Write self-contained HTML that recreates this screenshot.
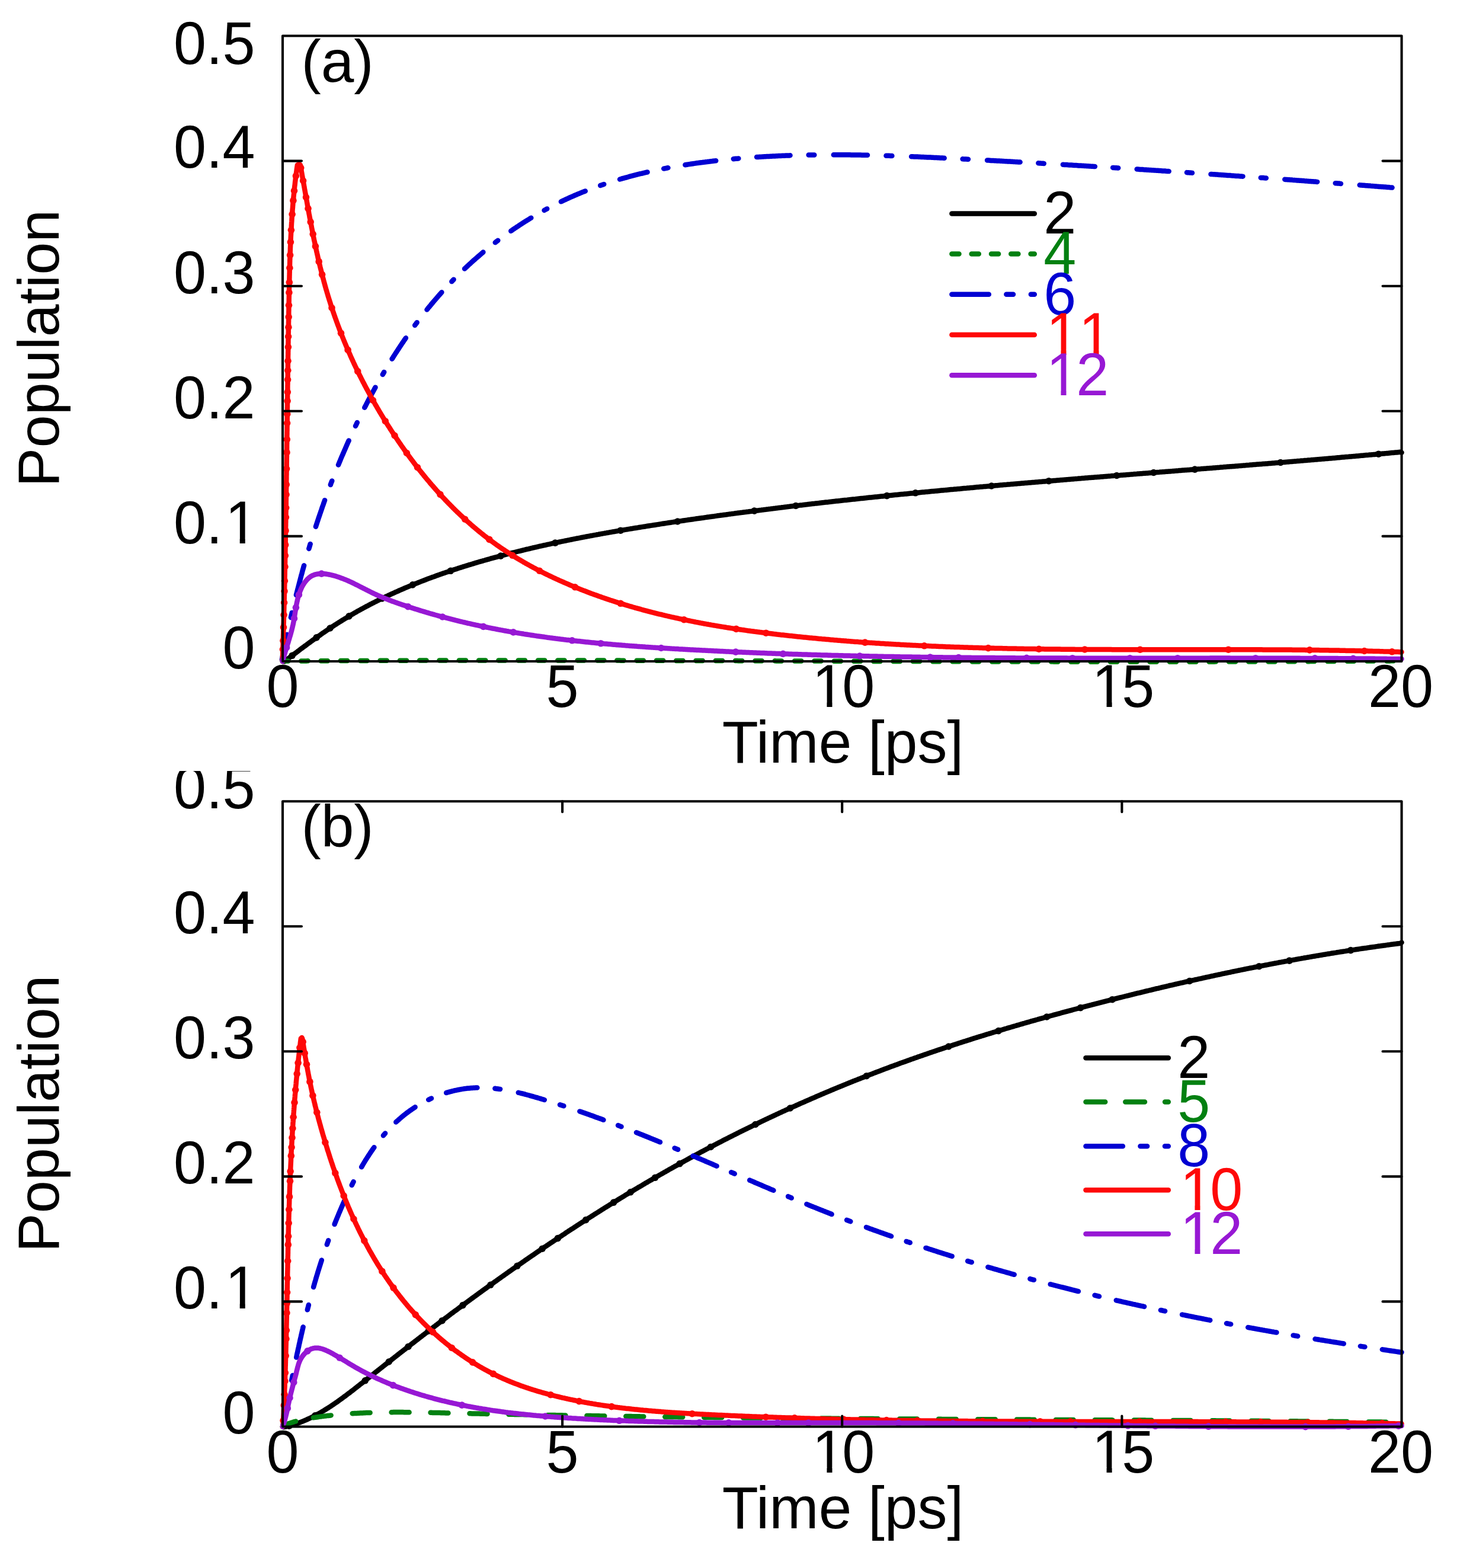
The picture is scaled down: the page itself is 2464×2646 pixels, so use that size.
<!DOCTYPE html>
<html><head><meta charset="utf-8"><title>Population vs Time</title>
<style>html,body{margin:0;padding:0;background:#fff;}svg{display:block;}</style>
</head><body>
<svg width="2464" height="2646" viewBox="0 0 2464 2646">
<defs><clipPath id="cb"><rect x="0" y="1301" width="2464" height="1345"/></clipPath><clipPath id="ca"><rect x="0" y="0" width="2464" height="1301"/></clipPath><clipPath id="c1_0" clipPathUnits="userSpaceOnUse"><path clip-rule="evenodd" d="M-500 -500H1000V500H-500Z M93.01 -8.00H111.81V1.50H93.01Z M120.87 -8.00H139.54V1.50H120.87Z"/></clipPath><clipPath id="c1_1" clipPathUnits="userSpaceOnUse"><path clip-rule="evenodd" d="M-500 -500H1000V500H-500Z M10.44 -8.00H29.25V1.50H10.44Z M38.30 -8.00H56.97V1.50H38.30Z"/></clipPath><clipPath id="c1_2" clipPathUnits="userSpaceOnUse"><path clip-rule="evenodd" d="M-500 -500H1000V500H-500Z M10.44 -8.00H29.25V1.50H10.44Z M38.30 -8.00H56.97V1.50H38.30Z"/></clipPath><clipPath id="c1_3" clipPathUnits="userSpaceOnUse"><path clip-rule="evenodd" d="M-500 -500H1000V500H-500Z M10.44 -8.00H29.25V1.50H10.44Z M38.30 -8.00H56.97V1.50H38.30Z M65.48 -8.00H84.29V1.50H65.48Z M93.34 -8.00H112.01V1.50H93.34Z"/></clipPath><clipPath id="c1_4" clipPathUnits="userSpaceOnUse"><path clip-rule="evenodd" d="M-500 -500H1000V500H-500Z M10.44 -8.00H29.25V1.50H10.44Z M38.30 -8.00H56.97V1.50H38.30Z"/></clipPath><clipPath id="c1_5" clipPathUnits="userSpaceOnUse"><path clip-rule="evenodd" d="M-500 -500H1000V500H-500Z M93.01 -8.00H111.81V1.50H93.01Z M120.87 -8.00H139.54V1.50H120.87Z"/></clipPath><clipPath id="c1_6" clipPathUnits="userSpaceOnUse"><path clip-rule="evenodd" d="M-500 -500H1000V500H-500Z M10.44 -8.00H29.25V1.50H10.44Z M38.30 -8.00H56.97V1.50H38.30Z"/></clipPath><clipPath id="c1_7" clipPathUnits="userSpaceOnUse"><path clip-rule="evenodd" d="M-500 -500H1000V500H-500Z M10.44 -8.00H29.25V1.50H10.44Z M38.30 -8.00H56.97V1.50H38.30Z"/></clipPath><clipPath id="c1_8" clipPathUnits="userSpaceOnUse"><path clip-rule="evenodd" d="M-500 -500H1000V500H-500Z M10.44 -8.00H29.25V1.50H10.44Z M38.30 -8.00H56.97V1.50H38.30Z"/></clipPath><clipPath id="c1_9" clipPathUnits="userSpaceOnUse"><path clip-rule="evenodd" d="M-500 -500H1000V500H-500Z M10.44 -8.00H29.25V1.50H10.44Z M38.30 -8.00H56.97V1.50H38.30Z"/></clipPath></defs>
<rect width="2464" height="2646" fill="#fff"/>
<g fill="none" stroke-width="8.5" stroke-linecap="round" stroke-linejoin="round">
<path d="M477.0 1116.0 L479.6 1116.6 L481.2 1115.3 L482.8 1114.1 L484.4 1112.9 L486.0 1111.7 L487.6 1110.5 L489.2 1109.2 L490.8 1108.0 L492.4 1106.8 L494.0 1105.6 L495.6 1104.4 L497.2 1103.2 L498.8 1102.0 L500.4 1100.8 L502.0 1099.6 L503.6 1098.3 L505.2 1097.1 L506.8 1095.9 L508.4 1094.7 L510.0 1093.5 L511.6 1092.3 L513.2 1091.2 L514.8 1090.0 L516.4 1088.8 L518.0 1087.6 L519.6 1086.4 L521.3 1085.2 L522.9 1084.0 L524.5 1082.8 L526.1 1081.7 L527.7 1080.5 L529.4 1079.3 L531.0 1078.2 L532.6 1077.0 L534.2 1075.8 L535.9 1074.7 L537.5 1073.5 L539.1 1072.4 L540.8 1071.2 L542.4 1070.1 L544.0 1068.9 L545.7 1067.8 L547.3 1066.7 L549.0 1065.5 L550.6 1064.4 L552.3 1063.3 L553.9 1062.2 L555.6 1061.0 L557.3 1059.9 L558.9 1058.8 L560.6 1057.7 L562.2 1056.6 L563.9 1055.5 L565.6 1054.4 L567.3 1053.4 L568.9 1052.3 L570.6 1051.2 L572.3 1050.1 L574.0 1049.1 L575.7 1048.0 L577.4 1047.0 L579.1 1045.9 L580.8 1044.9 L582.5 1043.8 L584.2 1042.8 L585.9 1041.8 L587.6 1040.7 L589.3 1039.7 L591.0 1038.7 L592.7 1037.7 L594.4 1036.7 L596.2 1035.7 L597.9 1034.7 L599.6 1033.7 L601.4 1032.7 L603.1 1031.7 L604.8 1030.7 L606.6 1029.8 L608.3 1028.8 L610.1 1027.8 L611.8 1026.9 L613.6 1025.9 L615.3 1025.0 L617.1 1024.0 L618.8 1023.1 L620.6 1022.2 L622.4 1021.2 L624.1 1020.3 L625.9 1019.4 L627.7 1018.5 L629.4 1017.6 L631.2 1016.7 L633.0 1015.8 L634.8 1014.9 L636.6 1014.0 L638.3 1013.1 L640.1 1012.2 L641.9 1011.3 L643.7 1010.4 L645.5 1009.6 L647.3 1008.7 L649.1 1007.8 L650.9 1007.0 L652.7 1006.1 L654.5 1005.3 L656.3 1004.4 L658.1 1003.6 L660.0 1002.7 L661.8 1001.9 L663.6 1001.1 L665.4 1000.3 L667.2 999.4 L669.1 998.6 L670.9 997.8 L672.7 997.0 L674.5 996.2 L676.4 995.4 L678.2 994.6 L680.0 993.8 L681.9 993.0 L683.7 992.2 L685.6 991.4 L687.4 990.7 L689.3 989.9 L691.1 989.1 L692.9 988.4 L694.8 987.6 L696.7 986.8 L698.5 986.1 L700.4 985.3 L702.2 984.6 L704.1 983.9 L705.9 983.1 L707.8 982.4 L709.7 981.6 L711.5 980.9 L713.4 980.2 L715.3 979.5 L717.1 978.8 L719.0 978.0 L720.9 977.3 L722.8 976.6 L724.6 975.9 L726.5 975.2 L728.4 974.5 L730.3 973.8 L732.2 973.2 L734.1 972.5 L735.9 971.8 L737.8 971.1 L739.7 970.4 L741.6 969.8 L743.5 969.1 L745.4 968.4 L747.3 967.8 L749.2 967.1 L751.1 966.5 L753.0 965.8 L754.9 965.2 L756.8 964.5 L758.7 963.9 L760.6 963.2 L762.5 962.6 L764.4 962.0 L766.3 961.3 L768.2 960.7 L770.1 960.1 L772.0 959.5 L773.9 958.8 L775.8 958.2 L777.8 957.6 L779.7 957.0 L781.6 956.4 L783.5 955.8 L785.4 955.2 L787.3 954.6 L789.3 954.0 L791.2 953.4 L793.1 952.8 L795.0 952.3 L796.9 951.7 L798.9 951.1 L800.8 950.5 L802.7 949.9 L804.6 949.4 L806.6 948.8 L808.5 948.2 L810.4 947.7 L812.3 947.1 L814.3 946.6 L816.2 946.0 L818.1 945.5 L820.1 944.9 L822.0 944.4 L823.9 943.8 L825.9 943.3 L827.8 942.7 L829.7 942.2 L831.7 941.7 L833.6 941.1 L835.5 940.6 L837.5 940.1 L839.4 939.6 L841.3 939.0 L843.3 938.5 L845.2 938.0 L847.2 937.5 L849.1 937.0 L851.0 936.5 L853.0 935.9 L854.9 935.4 L856.8 934.9 L858.8 934.4 L860.7 933.9 L862.7 933.4 L864.6 932.9 L866.6 932.5 L868.5 932.0 L870.4 931.5 L872.4 931.0 L874.3 930.5 L876.3 930.0 L878.2 929.6 L880.2 929.1 L882.1 928.6 L884.1 928.1 L886.0 927.7 L888.0 927.2 L889.9 926.7 L891.9 926.3 L893.8 925.8 L895.7 925.3 L897.7 924.9 L899.6 924.4 L901.6 924.0 L903.5 923.5 L905.5 923.1 L907.5 922.6 L909.4 922.2 L911.4 921.7 L913.3 921.3 L915.3 920.9 L917.2 920.4 L919.2 920.0 L921.1 919.6 L923.1 919.1 L925.0 918.7 L927.0 918.3 L928.9 917.8 L930.9 917.4 L932.9 917.0 L934.8 916.6 L936.8 916.2 L938.7 915.7 L940.7 915.3 L942.6 914.9 L944.6 914.5 L946.6 914.1 L948.5 913.7 L950.5 913.3 L952.4 912.9 L954.4 912.5 L956.4 912.1 L958.3 911.7 L960.3 911.3 L962.3 910.9 L964.2 910.5 L966.2 910.1 L968.1 909.7 L970.1 909.3 L972.1 908.9 L974.0 908.5 L976.0 908.2 L978.0 907.8 L979.9 907.4 L981.9 907.0 L983.9 906.6 L985.8 906.3 L987.8 905.9 L989.8 905.5 L991.7 905.1 L993.7 904.8 L995.7 904.4 L997.6 904.0 L999.6 903.7 L1001.6 903.3 L1003.5 902.9 L1005.5 902.6 L1007.5 902.2 L1009.4 901.9 L1011.4 901.5 L1013.4 901.1 L1015.3 900.8 L1017.3 900.4 L1019.3 900.1 L1021.2 899.7 L1023.2 899.4 L1025.2 899.0 L1027.2 898.7 L1029.1 898.3 L1031.1 898.0 L1033.1 897.6 L1035.0 897.3 L1037.0 897.0 L1039.0 896.6 L1041.0 896.3 L1042.9 895.9 L1044.9 895.6 L1046.9 895.3 L1048.9 894.9 L1050.8 894.6 L1052.8 894.3 L1054.8 893.9 L1056.7 893.6 L1058.7 893.3 L1060.7 892.9 L1062.7 892.6 L1064.6 892.3 L1066.6 892.0 L1068.6 891.6 L1070.6 891.3 L1072.5 891.0 L1074.5 890.7 L1076.5 890.4 L1078.5 890.0 L1080.4 889.7 L1082.4 889.4 L1084.4 889.1 L1086.4 888.8 L1088.4 888.5 L1090.3 888.1 L1092.3 887.8 L1094.3 887.5 L1096.3 887.2 L1098.2 886.9 L1100.2 886.6 L1102.2 886.3 L1104.2 886.0 L1106.2 885.7 L1108.1 885.4 L1110.1 885.1 L1112.1 884.8 L1114.1 884.4 L1116.0 884.1 L1118.0 883.8 L1120.0 883.5 L1122.0 883.2 L1124.0 882.9 L1125.9 882.6 L1127.9 882.3 L1129.9 882.0 L1131.9 881.7 L1133.9 881.4 L1135.8 881.1 L1137.8 880.8 L1139.8 880.6 L1141.8 880.3 L1143.7 880.0 L1145.7 879.7 L1147.7 879.4 L1149.7 879.1 L1151.7 878.8 L1153.6 878.5 L1155.6 878.2 L1157.6 877.9 L1159.6 877.6 L1161.6 877.3 L1163.6 877.1 L1165.5 876.8 L1167.5 876.5 L1169.5 876.2 L1171.5 875.9 L1173.5 875.6 L1175.4 875.3 L1177.4 875.1 L1179.4 874.8 L1181.4 874.5 L1183.4 874.2 L1185.3 873.9 L1187.3 873.7 L1189.3 873.4 L1191.3 873.1 L1193.3 872.8 L1195.3 872.5 L1197.2 872.3 L1199.2 872.0 L1201.2 871.7 L1203.2 871.4 L1205.2 871.2 L1207.1 870.9 L1209.1 870.6 L1211.1 870.3 L1213.1 870.1 L1215.1 869.8 L1217.1 869.5 L1219.0 869.3 L1221.0 869.0 L1223.0 868.7 L1225.0 868.5 L1227.0 868.2 L1229.0 867.9 L1230.9 867.6 L1232.9 867.4 L1234.9 867.1 L1236.9 866.9 L1238.9 866.6 L1240.9 866.3 L1242.8 866.1 L1244.8 865.8 L1246.8 865.5 L1248.8 865.3 L1250.8 865.0 L1252.8 864.8 L1254.8 864.5 L1256.7 864.2 L1258.7 864.0 L1260.7 863.7 L1262.7 863.5 L1264.7 863.2 L1266.7 862.9 L1268.6 862.7 L1270.6 862.4 L1272.6 862.2 L1274.6 861.9 L1276.6 861.7 L1278.6 861.4 L1280.6 861.2 L1282.5 860.9 L1284.5 860.7 L1286.5 860.4 L1288.5 860.2 L1290.5 859.9 L1292.5 859.7 L1294.5 859.4 L1296.4 859.2 L1298.4 858.9 L1300.4 858.7 L1302.4 858.4 L1304.4 858.2 L1306.4 857.9 L1308.4 857.7 L1310.4 857.4 L1312.3 857.2 L1314.3 856.9 L1316.3 856.7 L1318.3 856.5 L1320.3 856.2 L1322.3 856.0 L1324.3 855.7 L1326.2 855.5 L1328.2 855.3 L1330.2 855.0 L1332.2 854.8 L1334.2 854.5 L1336.2 854.3 L1338.2 854.1 L1340.2 853.8 L1342.1 853.6 L1344.1 853.4 L1346.1 853.1 L1348.1 852.9 L1350.1 852.6 L1352.1 852.4 L1354.1 852.2 L1356.1 851.9 L1358.0 851.7 L1360.0 851.5 L1362.0 851.3 L1364.0 851.0 L1366.0 850.8 L1368.0 850.6 L1370.0 850.3 L1372.0 850.1 L1374.0 849.9 L1375.9 849.6 L1377.9 849.4 L1379.9 849.2 L1381.9 849.0 L1383.9 848.7 L1385.9 848.5 L1387.9 848.3 L1389.9 848.1 L1391.9 847.8 L1393.8 847.6 L1395.8 847.4 L1397.8 847.2 L1399.8 846.9 L1401.8 846.7 L1403.8 846.5 L1405.8 846.3 L1407.8 846.1 L1409.8 845.8 L1411.8 845.6 L1413.7 845.4 L1415.7 845.2 L1417.7 845.0 L1419.7 844.7 L1421.7 844.5 L1423.7 844.3 L1425.7 844.1 L1427.7 843.9 L1429.7 843.7 L1431.7 843.4 L1433.6 843.2 L1435.6 843.0 L1437.6 842.8 L1439.6 842.6 L1441.6 842.4 L1443.6 842.2 L1445.6 841.9 L1447.6 841.7 L1449.6 841.5 L1451.6 841.3 L1453.6 841.1 L1455.5 840.9 L1457.5 840.7 L1459.5 840.5 L1461.5 840.3 L1463.5 840.0 L1465.5 839.8 L1467.5 839.6 L1469.5 839.4 L1471.5 839.2 L1473.5 839.0 L1475.5 838.8 L1477.5 838.6 L1479.4 838.4 L1481.4 838.2 L1483.4 838.0 L1485.4 837.8 L1487.4 837.6 L1489.4 837.4 L1491.4 837.2 L1493.4 837.0 L1495.4 836.8 L1497.4 836.5 L1499.4 836.3 L1501.4 836.1 L1503.4 835.9 L1505.3 835.7 L1507.3 835.5 L1509.3 835.3 L1511.3 835.1 L1513.3 834.9 L1515.3 834.7 L1517.3 834.5 L1519.3 834.3 L1521.3 834.1 L1523.3 834.0 L1525.3 833.8 L1527.3 833.6 L1529.3 833.4 L1531.3 833.2 L1533.2 833.0 L1535.2 832.8 L1537.2 832.6 L1539.2 832.4 L1541.2 832.2 L1543.2 832.0 L1545.2 831.8 L1547.2 831.6 L1549.2 831.4 L1551.2 831.2 L1553.2 831.0 L1555.2 830.8 L1557.2 830.6 L1559.2 830.5 L1561.2 830.3 L1563.1 830.1 L1565.1 829.9 L1567.1 829.7 L1569.1 829.5 L1571.1 829.3 L1573.1 829.1 L1575.1 828.9 L1577.1 828.7 L1579.1 828.6 L1581.1 828.4 L1583.1 828.2 L1585.1 828.0 L1587.1 827.8 L1589.1 827.6 L1591.1 827.4 L1593.1 827.2 L1595.1 827.1 L1597.0 826.9 L1599.0 826.7 L1601.0 826.5 L1603.0 826.3 L1605.0 826.1 L1607.0 825.9 L1609.0 825.8 L1611.0 825.6 L1613.0 825.4 L1615.0 825.2 L1617.0 825.0 L1619.0 824.9 L1621.0 824.7 L1623.0 824.5 L1625.0 824.3 L1627.0 824.1 L1629.0 823.9 L1631.0 823.8 L1633.0 823.6 L1634.9 823.4 L1636.9 823.2 L1638.9 823.0 L1640.9 822.9 L1642.9 822.7 L1644.9 822.5 L1646.9 822.3 L1648.9 822.1 L1650.9 822.0 L1652.9 821.8 L1654.9 821.6 L1656.9 821.4 L1658.9 821.3 L1660.9 821.1 L1662.9 820.9 L1664.9 820.7 L1666.9 820.6 L1668.9 820.4 L1670.9 820.2 L1672.9 820.0 L1674.9 819.9 L1676.8 819.7 L1678.8 819.5 L1680.8 819.3 L1682.8 819.2 L1684.8 819.0 L1686.8 818.8 L1688.8 818.6 L1690.8 818.5 L1692.8 818.3 L1694.8 818.1 L1696.8 817.9 L1698.8 817.8 L1700.8 817.6 L1702.8 817.4 L1704.8 817.3 L1706.8 817.1 L1708.8 816.9 L1710.8 816.7 L1712.8 816.6 L1714.8 816.4 L1716.8 816.2 L1718.8 816.1 L1720.8 815.9 L1722.8 815.7 L1724.8 815.5 L1726.8 815.4 L1728.7 815.2 L1730.7 815.0 L1732.7 814.9 L1734.7 814.7 L1736.7 814.5 L1738.7 814.4 L1740.7 814.2 L1742.7 814.0 L1744.7 813.9 L1746.7 813.7 L1748.7 813.5 L1750.7 813.4 L1752.7 813.2 L1754.7 813.0 L1756.7 812.9 L1758.7 812.7 L1760.7 812.5 L1762.7 812.4 L1764.7 812.2 L1766.7 812.0 L1768.7 811.9 L1770.7 811.7 L1772.7 811.5 L1774.7 811.4 L1776.7 811.2 L1778.7 811.0 L1780.7 810.9 L1782.7 810.7 L1784.7 810.5 L1786.6 810.4 L1788.6 810.2 L1790.6 810.0 L1792.6 809.9 L1794.6 809.7 L1796.6 809.6 L1798.6 809.4 L1800.6 809.2 L1802.6 809.1 L1804.6 808.9 L1806.6 808.7 L1808.6 808.6 L1810.6 808.4 L1812.6 808.2 L1814.6 808.1 L1816.6 807.9 L1818.6 807.8 L1820.6 807.6 L1822.6 807.4 L1824.6 807.3 L1826.6 807.1 L1828.6 807.0 L1830.6 806.8 L1832.6 806.6 L1834.6 806.5 L1836.6 806.3 L1838.6 806.1 L1840.6 806.0 L1842.6 805.8 L1844.6 805.7 L1846.6 805.5 L1848.6 805.3 L1850.6 805.2 L1852.5 805.0 L1854.5 804.9 L1856.5 804.7 L1858.5 804.5 L1860.5 804.4 L1862.5 804.2 L1864.5 804.1 L1866.5 803.9 L1868.5 803.7 L1870.5 803.6 L1872.5 803.4 L1874.5 803.3 L1876.5 803.1 L1878.5 802.9 L1880.5 802.8 L1882.5 802.6 L1884.5 802.5 L1886.5 802.3 L1888.5 802.2 L1890.5 802.0 L1892.5 801.8 L1894.5 801.7 L1896.5 801.5 L1898.5 801.4 L1900.5 801.2 L1902.5 801.0 L1904.5 800.9 L1906.5 800.7 L1908.5 800.6 L1910.5 800.4 L1912.5 800.3 L1914.5 800.1 L1916.5 799.9 L1918.5 799.8 L1920.5 799.6 L1922.4 799.5 L1924.4 799.3 L1926.4 799.2 L1928.4 799.0 L1930.4 798.8 L1932.4 798.7 L1934.4 798.5 L1936.4 798.4 L1938.4 798.2 L1940.4 798.0 L1942.4 797.9 L1944.4 797.7 L1946.4 797.6 L1948.4 797.4 L1950.4 797.3 L1952.4 797.1 L1954.4 796.9 L1956.4 796.8 L1958.4 796.6 L1960.4 796.5 L1962.4 796.3 L1964.4 796.2 L1966.4 796.0 L1968.4 795.8 L1970.4 795.7 L1972.4 795.5 L1974.4 795.4 L1976.4 795.2 L1978.4 795.1 L1980.4 794.9 L1982.4 794.7 L1984.4 794.6 L1986.4 794.4 L1988.4 794.3 L1990.3 794.1 L1992.3 794.0 L1994.3 793.8 L1996.3 793.6 L1998.3 793.5 L2000.3 793.3 L2002.3 793.2 L2004.3 793.0 L2006.3 792.9 L2008.3 792.7 L2010.3 792.5 L2012.3 792.4 L2014.3 792.2 L2016.3 792.1 L2018.3 791.9 L2020.3 791.8 L2022.3 791.6 L2024.3 791.4 L2026.3 791.3 L2028.3 791.1 L2030.3 791.0 L2032.3 790.8 L2034.3 790.7 L2036.3 790.5 L2038.3 790.3 L2040.3 790.2 L2042.3 790.0 L2044.3 789.9 L2046.3 789.7 L2048.3 789.5 L2050.3 789.4 L2052.2 789.2 L2054.2 789.1 L2056.2 788.9 L2058.2 788.8 L2060.2 788.6 L2062.2 788.4 L2064.2 788.3 L2066.2 788.1 L2068.2 788.0 L2070.2 787.8 L2072.2 787.6 L2074.2 787.5 L2076.2 787.3 L2078.2 787.2 L2080.2 787.0 L2082.2 786.9 L2084.2 786.7 L2086.2 786.5 L2088.2 786.4 L2090.2 786.2 L2092.2 786.1 L2094.2 785.9 L2096.2 785.7 L2098.2 785.6 L2100.2 785.4 L2102.2 785.3 L2104.1 785.1 L2106.1 784.9 L2108.1 784.8 L2110.1 784.6 L2112.1 784.5 L2114.1 784.3 L2116.1 784.1 L2118.1 784.0 L2120.1 783.8 L2122.1 783.6 L2124.1 783.5 L2126.1 783.3 L2128.1 783.2 L2130.1 783.0 L2132.1 782.8 L2134.1 782.7 L2136.1 782.5 L2138.1 782.4 L2140.1 782.2 L2142.1 782.0 L2144.1 781.9 L2146.1 781.7 L2148.1 781.5 L2150.0 781.4 L2152.0 781.2 L2154.0 781.0 L2156.0 780.9 L2158.0 780.7 L2160.0 780.6 L2162.0 780.4 L2164.0 780.2 L2166.0 780.1 L2168.0 779.9 L2170.0 779.7 L2172.0 779.6 L2174.0 779.4 L2176.0 779.2 L2178.0 779.1 L2180.0 778.9 L2182.0 778.7 L2184.0 778.6 L2186.0 778.4 L2188.0 778.3 L2189.9 778.1 L2191.9 777.9 L2193.9 777.8 L2195.9 777.6 L2197.9 777.4 L2199.9 777.3 L2201.9 777.1 L2203.9 776.9 L2205.9 776.8 L2207.9 776.6 L2209.9 776.4 L2211.9 776.3 L2213.9 776.1 L2215.9 775.9 L2217.9 775.7 L2219.9 775.6 L2221.9 775.4 L2223.9 775.2 L2225.8 775.1 L2227.8 774.9 L2229.8 774.7 L2231.8 774.6 L2233.8 774.4 L2235.8 774.2 L2237.8 774.1 L2239.8 773.9 L2241.8 773.7 L2243.8 773.5 L2245.8 773.4 L2247.8 773.2 L2249.8 773.0 L2251.8 772.9 L2253.8 772.7 L2255.7 772.5 L2257.7 772.3 L2259.7 772.2 L2261.7 772.0 L2263.7 771.8 L2265.7 771.6 L2267.7 771.5 L2269.7 771.3 L2271.7 771.1 L2273.7 770.9 L2275.7 770.8 L2277.7 770.6 L2279.7 770.4 L2281.7 770.2 L2283.7 770.1 L2285.6 769.9 L2287.6 769.7 L2289.6 769.5 L2291.6 769.4 L2293.6 769.2 L2295.6 769.0 L2297.6 768.8 L2299.6 768.7 L2301.6 768.5 L2303.6 768.3 L2305.6 768.1 L2307.6 767.9 L2309.6 767.8 L2311.5 767.6 L2313.5 767.4 L2315.5 767.2 L2317.5 767.1 L2319.5 766.9 L2321.5 766.7 L2323.5 766.5 L2325.5 766.3 L2327.5 766.1 L2329.5 766.0 L2331.5 765.8 L2333.5 765.6 L2335.4 765.4 L2337.4 765.2 L2339.4 765.1 L2341.4 764.9 L2343.4 764.7 L2345.4 764.5 L2347.4 764.3 L2349.4 764.1 L2351.4 764.0 L2353.4 763.8 L2355.4 763.6 L2357.3 763.4 L2359.3 763.2 L2361.3 763.0 L2363.3 762.8 L2365.5 763.7" stroke="#000000" />
<g fill="#000000" stroke="none"><circle cx="493.1" cy="1106.3" r="5.8"/><circle cx="534.1" cy="1075.9" r="5.8"/><circle cx="557.1" cy="1060.0" r="5.8"/><circle cx="589.0" cy="1039.9" r="5.8"/><circle cx="644.8" cy="1009.9" r="5.8"/><circle cx="696.4" cy="986.9" r="5.8"/><circle cx="760.5" cy="963.3" r="5.8"/><circle cx="845.0" cy="938.1" r="5.8"/><circle cx="937.0" cy="916.1" r="5.8"/><circle cx="1047.3" cy="895.2" r="5.8"/><circle cx="1143.5" cy="880.0" r="5.8"/><circle cx="1273.0" cy="862.1" r="5.8"/><circle cx="1343.0" cy="853.5" r="5.8"/><circle cx="1496.8" cy="836.6" r="5.8"/><circle cx="1545.0" cy="831.8" r="5.8"/><circle cx="1673.3" cy="820.0" r="5.8"/><circle cx="1770.1" cy="811.7" r="5.8"/><circle cx="1884.6" cy="802.5" r="5.8"/><circle cx="1946.9" cy="797.5" r="5.8"/><circle cx="2016.5" cy="792.1" r="5.8"/><circle cx="2161.1" cy="780.5" r="5.8"/><circle cx="2326.5" cy="766.2" r="5.8"/></g>
<path d="M477.0 1116.0 L479.0 1115.6 L481.0 1115.6 L483.0 1115.6 L485.0 1115.5 L486.4 1115.5 M508.2 1115.4 L509.0 1115.4 L511.0 1115.4 L513.0 1115.4 L515.0 1115.4 L517.0 1115.4 L519.0 1115.3 L519.7 1115.3 M541.5 1115.2 L543.1 1115.2 L545.1 1115.2 L547.1 1115.2 L549.1 1115.2 L551.1 1115.2 L553.0 1115.2 M574.8 1115.1 L575.1 1115.1 L577.1 1115.1 L579.1 1115.0 L581.1 1115.0 L583.1 1115.0 L585.1 1115.0 L586.3 1115.0 M608.1 1114.9 L609.2 1114.9 L611.2 1114.9 L613.2 1114.9 L615.2 1114.9 L617.2 1114.9 L619.2 1114.9 L619.6 1114.9 M641.5 1114.8 L643.2 1114.8 L645.2 1114.8 L647.2 1114.8 L649.2 1114.8 L651.2 1114.8 L652.9 1114.8 M674.8 1114.7 L675.2 1114.7 L677.2 1114.7 L679.3 1114.7 L681.3 1114.7 L683.3 1114.7 L685.3 1114.7 L686.3 1114.7 M708.1 1114.6 L709.3 1114.6 L711.3 1114.6 L713.3 1114.6 L715.3 1114.6 L717.3 1114.6 L719.3 1114.6 L719.6 1114.6 M741.4 1114.6 L743.3 1114.6 L745.3 1114.6 L747.3 1114.6 L749.3 1114.5 L751.3 1114.5 L752.9 1114.5 M774.7 1114.5 L775.4 1114.5 L777.4 1114.5 L779.4 1114.5 L781.4 1114.5 L783.4 1114.5 L785.4 1114.5 L786.2 1114.5 M808.0 1114.5 L809.4 1114.5 L811.4 1114.5 L813.4 1114.5 L815.4 1114.5 L817.4 1114.5 L819.4 1114.5 L819.5 1114.5 M841.3 1114.5 L841.5 1114.5 L843.5 1114.5 L845.5 1114.5 L847.5 1114.5 L849.5 1114.5 L851.5 1114.5 L852.8 1114.5 M874.6 1114.5 L875.5 1114.5 L877.5 1114.5 L879.5 1114.5 L881.5 1114.5 L883.5 1114.5 L885.5 1114.5 L886.1 1114.5 M907.9 1114.5 L909.6 1114.5 L911.6 1114.5 L913.6 1114.5 L915.6 1114.5 L917.6 1114.5 L919.4 1114.5 M941.2 1114.5 L941.6 1114.5 L943.6 1114.5 L945.6 1114.5 L947.6 1114.5 L949.6 1114.5 L951.6 1114.5 L952.7 1114.5 M974.6 1114.5 L975.6 1114.5 L977.6 1114.5 L979.6 1114.5 L981.7 1114.5 L983.7 1114.5 L985.7 1114.6 L986.0 1114.6 M1007.9 1114.6 L1009.7 1114.6 L1011.7 1114.6 L1013.7 1114.6 L1015.7 1114.6 L1017.7 1114.6 L1019.4 1114.6 M1041.2 1114.6 L1041.7 1114.6 L1043.7 1114.6 L1045.7 1114.6 L1047.7 1114.7 L1049.7 1114.7 L1051.7 1114.7 L1052.7 1114.7 M1074.5 1114.7 L1075.8 1114.7 L1077.8 1114.7 L1079.8 1114.7 L1081.8 1114.7 L1083.8 1114.7 L1085.8 1114.7 L1086.0 1114.7 M1107.8 1114.8 L1107.8 1114.8 L1109.8 1114.8 L1111.8 1114.8 L1113.8 1114.8 L1115.8 1114.8 L1117.8 1114.8 L1119.3 1114.8 M1141.1 1114.9 L1141.9 1114.9 L1143.9 1114.9 L1145.9 1114.9 L1147.9 1114.9 L1149.9 1114.9 L1151.9 1114.9 L1152.6 1114.9 M1174.4 1114.9 L1175.9 1115.0 L1177.9 1115.0 L1179.9 1115.0 L1181.9 1115.0 L1183.9 1115.0 L1185.9 1115.0 M1207.7 1115.0 L1208.0 1115.0 L1210.0 1115.0 L1212.0 1115.1 L1214.0 1115.1 L1216.0 1115.1 L1218.0 1115.1 L1219.2 1115.1 M1241.0 1115.1 L1242.0 1115.1 L1244.0 1115.1 L1246.0 1115.2 L1248.0 1115.2 L1250.0 1115.2 L1252.0 1115.2 L1252.5 1115.2 M1274.3 1115.2 L1276.1 1115.2 L1278.1 1115.3 L1280.1 1115.3 L1282.1 1115.3 L1284.1 1115.3 L1285.8 1115.3 M1307.7 1115.3 L1308.1 1115.3 L1310.1 1115.4 L1312.1 1115.4 L1314.1 1115.4 L1316.1 1115.4 L1318.1 1115.4 L1319.1 1115.4 M1341.0 1115.5 L1342.1 1115.5 L1344.1 1115.5 L1346.1 1115.5 L1348.1 1115.5 L1350.2 1115.5 L1352.2 1115.5 L1352.5 1115.5 M1374.3 1115.6 L1376.2 1115.6 L1378.2 1115.6 L1380.2 1115.6 L1382.2 1115.6 L1384.2 1115.6 L1385.8 1115.6 M1407.6 1115.7 L1408.2 1115.7 L1410.2 1115.7 L1412.2 1115.7 L1414.2 1115.7 L1416.2 1115.7 L1418.2 1115.7 L1419.1 1115.7 M1440.9 1115.8 L1442.3 1115.8 L1444.3 1115.8 L1446.3 1115.8 L1448.3 1115.8 L1450.3 1115.8 L1452.3 1115.8 L1452.4 1115.8 M1474.2 1115.9 L1474.3 1115.9 L1476.3 1115.9 L1478.3 1115.9 L1480.3 1115.9 L1482.3 1115.9 L1484.3 1115.9 L1485.7 1115.9 M1507.5 1116.0 L1508.4 1116.0 L1510.4 1116.0 L1512.4 1116.0 L1514.4 1116.0 L1516.4 1116.0 L1518.4 1116.0 L1519.0 1116.0 M1540.8 1116.1 L1542.4 1116.1 L1544.4 1116.1 L1546.4 1116.1 L1548.4 1116.1 L1550.4 1116.1 L1552.3 1116.1 M1574.1 1116.2 L1574.5 1116.2 L1576.5 1116.2 L1578.5 1116.2 L1580.5 1116.2 L1582.5 1116.2 L1584.5 1116.2 L1585.6 1116.2 M1607.4 1116.3 L1608.5 1116.3 L1610.5 1116.3 L1612.5 1116.3 L1614.5 1116.3 L1616.5 1116.3 L1618.5 1116.3 L1618.9 1116.3 M1640.8 1116.4 L1642.6 1116.4 L1644.6 1116.4 L1646.6 1116.4 L1648.6 1116.4 L1650.6 1116.4 L1652.2 1116.4 M1674.1 1116.4 L1674.6 1116.4 L1676.6 1116.5 L1678.6 1116.5 L1680.6 1116.5 L1682.6 1116.5 L1684.6 1116.5 L1685.6 1116.5 M1707.4 1116.5 L1708.6 1116.5 L1710.6 1116.5 L1712.6 1116.5 L1714.7 1116.5 L1716.7 1116.5 L1718.7 1116.5 L1718.9 1116.5 M1740.7 1116.6 L1740.7 1116.6 L1742.7 1116.6 L1744.7 1116.6 L1746.7 1116.6 L1748.7 1116.6 L1750.7 1116.6 L1752.2 1116.6 M1774.0 1116.6 L1774.7 1116.6 L1776.7 1116.6 L1778.7 1116.7 L1780.7 1116.7 L1782.7 1116.7 L1784.7 1116.7 L1785.5 1116.7 M1807.3 1116.7 L1808.8 1116.7 L1810.8 1116.7 L1812.8 1116.7 L1814.8 1116.7 L1816.8 1116.7 L1818.8 1116.7 L1818.8 1116.7 M1840.6 1116.7 L1840.8 1116.7 L1842.8 1116.7 L1844.8 1116.7 L1846.8 1116.7 L1848.8 1116.7 L1850.8 1116.7 L1852.1 1116.7 M1873.9 1116.8 L1874.9 1116.8 L1876.9 1116.8 L1878.9 1116.8 L1880.9 1116.8 L1882.9 1116.8 L1884.9 1116.8 L1885.4 1116.8 M1907.2 1116.8 L1908.9 1116.8 L1910.9 1116.8 L1912.9 1116.8 L1914.9 1116.8 L1916.9 1116.8 L1918.7 1116.8 M1940.5 1116.8 L1941.0 1116.8 L1943.0 1116.8 L1945.0 1116.8 L1947.0 1116.8 L1949.0 1116.8 L1951.0 1116.8 L1952.0 1116.8 M1973.9 1116.7 L1975.0 1116.7 L1977.0 1116.7 L1979.0 1116.7 L1981.0 1116.7 L1983.0 1116.7 L1985.0 1116.7 L1985.3 1116.7 M2007.2 1116.7 L2009.0 1116.7 L2011.0 1116.7 L2013.0 1116.7 L2015.1 1116.7 L2017.1 1116.7 L2018.7 1116.7 M2040.5 1116.7 L2041.1 1116.7 L2043.1 1116.7 L2045.1 1116.7 L2047.1 1116.7 L2049.1 1116.7 L2051.1 1116.6 L2052.0 1116.6 M2073.8 1116.6 L2075.1 1116.6 L2077.1 1116.6 L2079.1 1116.6 L2081.1 1116.6 L2083.1 1116.6 L2085.1 1116.6 L2085.3 1116.6 M2107.1 1116.5 L2107.2 1116.5 L2109.2 1116.5 L2111.2 1116.5 L2113.2 1116.5 L2115.2 1116.5 L2117.2 1116.5 L2118.6 1116.5 M2140.4 1116.4 L2141.2 1116.4 L2143.2 1116.4 L2145.2 1116.4 L2147.2 1116.4 L2149.2 1116.4 L2151.2 1116.4 L2151.9 1116.4 M2173.7 1116.3 L2175.3 1116.3 L2177.3 1116.3 L2179.3 1116.3 L2181.3 1116.3 L2183.3 1116.3 L2185.2 1116.3 M2207.0 1116.2 L2207.3 1116.2 L2209.3 1116.2 L2211.3 1116.1 L2213.3 1116.1 L2215.3 1116.1 L2217.3 1116.1 L2218.5 1116.1 M2240.3 1116.0 L2241.3 1116.0 L2243.3 1116.0 L2245.3 1116.0 L2247.4 1116.0 L2249.4 1116.0 L2251.4 1115.9 L2251.8 1115.9 M2273.6 1115.8 L2275.4 1115.8 L2277.4 1115.8 L2279.4 1115.8 L2281.4 1115.8 L2283.4 1115.8 L2285.1 1115.8 M2307.0 1115.6 L2307.4 1115.6 L2309.4 1115.6 L2311.4 1115.6 L2313.4 1115.6 L2315.4 1115.6 L2317.4 1115.5 L2318.4 1115.5 M2340.3 1115.4 L2341.5 1115.4 L2343.5 1115.4 L2345.5 1115.4 L2347.5 1115.3 L2349.5 1115.3 L2351.5 1115.3 L2351.8 1115.3" stroke="#028011"/>
<path d="M477.0 1116.0 L475.9 1113.0 L476.3 1111.1 L476.7 1109.1 L477.0 1107.2 L477.4 1105.3 L477.8 1103.4 L478.2 1101.4 L478.6 1099.5 L479.0 1097.6 L479.3 1095.6 L479.7 1093.7 L480.1 1091.8 L480.5 1089.8 L480.9 1087.9 L481.3 1086.0 L481.7 1084.0 L482.1 1082.1 L482.5 1080.2 L482.9 1078.2 L483.3 1076.3 L483.7 1074.4 L484.1 1072.5 L484.5 1070.8 M490.9 1042.0 L491.0 1041.5 L491.4 1039.6 L491.8 1037.7 L492.3 1035.7 L492.7 1033.9 M499.9 1004.1 L500.2 1002.9 L500.7 1001.0 L501.2 999.0 L501.7 997.1 L502.2 995.2 L502.7 993.2 L503.2 991.3 L503.7 989.4 L504.2 987.5 L504.7 985.5 L505.2 983.6 L505.7 981.7 L506.2 979.7 L506.7 977.8 L507.2 975.9 L507.7 974.0 L508.2 972.0 L508.7 970.1 L509.3 968.2 L509.8 966.3 L510.3 964.3 L510.8 962.4 L511.4 960.5 L511.9 958.6 L512.4 956.6 L513.0 954.7 L513.1 954.3 M521.3 925.9 L521.3 925.9 L521.9 924.0 L522.5 922.1 L523.0 920.2 L523.6 918.2 L523.7 918.0 M532.9 888.7 L533.2 887.7 L533.9 885.8 L534.5 883.9 L535.1 882.0 L535.7 880.1 L536.4 878.2 L537.0 876.3 L537.6 874.4 L538.3 872.5 L538.9 870.6 L539.6 868.7 L540.2 866.8 L540.9 864.9 L541.5 863.0 L542.2 861.1 L542.8 859.2 L543.5 857.3 L544.1 855.4 L544.8 853.5 L545.5 851.6 L546.1 849.7 L546.8 847.8 L547.5 845.9 L548.1 844.2 M557.8 818.1 L557.9 817.7 L558.6 815.8 L559.3 813.9 L560.1 812.1 L560.3 811.5 M571.0 784.5 L571.2 784.1 L572.0 782.2 L572.7 780.4 L573.5 778.5 L574.3 776.6 L575.0 774.8 L575.8 772.9 L576.6 771.1 L577.4 769.2 L578.2 767.4 L579.0 765.5 L579.8 763.7 L580.6 761.8 L581.4 760.0 L582.2 758.2 L583.0 756.3 L583.8 754.5 L584.6 752.6 L585.4 750.8 L586.2 749.0 L587.0 747.1 L587.8 745.3 L588.7 743.5 M600.0 718.9 L600.5 717.9 L601.4 716.1 L602.2 714.3 L602.8 713.1 M615.3 687.8 L615.6 687.2 L616.6 685.4 L617.5 683.7 L618.4 681.9 L619.3 680.1 L620.3 678.3 L621.2 676.5 L622.1 674.7 L623.1 672.9 L624.0 671.2 L625.0 669.4 L625.9 667.6 L626.9 665.8 L627.8 664.1 L628.8 662.3 L629.7 660.5 L630.7 658.8 L631.7 657.0 L632.6 655.2 L633.5 653.7 M645.8 632.0 L646.6 630.7 L647.6 629.0 L648.2 627.9 M661.6 605.7 L662.2 604.8 L663.3 603.1 L664.3 601.4 L665.4 599.7 L666.5 598.0 L667.6 596.3 L668.7 594.6 L669.8 593.0 L670.9 591.3 L672.0 589.6 L673.1 587.9 L674.2 586.2 L675.3 584.5 L676.4 582.9 L677.5 581.2 L678.6 579.5 L679.8 577.9 L680.9 576.2 L682.0 574.5 L683.2 572.9 L684.3 571.2 L684.9 570.3 M700.2 548.9 L700.6 548.3 L701.8 546.7 L703.0 545.1 L703.7 544.2 M720.5 522.6 L721.5 521.4 L722.7 519.8 L724.0 518.3 L725.3 516.7 L726.6 515.2 L727.8 513.6 L729.1 512.1 L730.4 510.6 L731.7 509.0 L733.0 507.5 L734.3 506.0 L735.6 504.5 L736.9 503.0 L738.2 501.5 L739.5 499.9 L740.9 498.4 L742.2 496.9 L743.5 495.5 L744.8 494.0 L745.4 493.3 M762.4 475.1 L762.5 474.9 L763.9 473.5 L765.3 472.1 L765.6 471.7 M784.1 453.6 L785.2 452.5 L786.7 451.1 L788.1 449.8 L789.6 448.4 L791.1 447.0 L792.5 445.7 L794.0 444.4 L795.5 443.0 L796.9 441.7 L798.4 440.3 L799.9 439.0 L801.4 437.7 L802.9 436.4 L804.4 435.1 L805.9 433.8 L807.4 432.5 L808.9 431.2 L810.4 429.9 L811.9 428.6 L813.4 427.3 L815.0 426.0 L815.4 425.6 M835.8 409.2 L836.7 408.6 L838.2 407.3 L839.8 406.1 L840.3 405.8 M862.3 389.8 L863.9 388.7 L865.5 387.5 L867.2 386.4 L868.8 385.3 L870.5 384.2 L872.1 383.1 L873.8 382.0 L875.4 380.9 L877.1 379.8 L878.7 378.7 L880.4 377.6 L882.1 376.6 L883.7 375.5 L885.4 374.4 L887.1 373.4 L888.8 372.3 L890.4 371.3 L892.1 370.3 L893.8 369.2 L895.5 368.2 L896.3 367.7 M918.6 354.9 L919.5 354.4 L921.3 353.4 L923.0 352.5 L923.2 352.4 M946.9 340.3 L947.7 339.9 L949.5 339.0 L951.3 338.2 L953.1 337.3 L954.9 336.5 L956.7 335.7 L958.5 334.9 L960.3 334.0 L962.1 333.2 L963.9 332.4 L965.7 331.6 L967.5 330.8 L969.3 330.0 L971.2 329.2 L973.0 328.5 L974.8 327.7 L976.6 326.9 L978.5 326.2 L980.3 325.4 L982.1 324.7 L984.0 323.9 L985.8 323.2 L987.7 322.5 L987.8 322.4 M1013.2 313.0 L1013.7 312.8 L1015.6 312.2 L1017.5 311.5 L1019.2 311.0 M1046.1 302.5 L1047.9 302.0 L1049.8 301.4 L1051.7 300.9 L1053.7 300.4 L1055.6 299.8 L1057.5 299.3 L1059.4 298.8 L1061.4 298.2 L1063.3 297.7 L1065.2 297.2 L1067.2 296.7 L1069.1 296.2 L1071.0 295.7 L1073.0 295.2 L1074.9 294.7 L1076.8 294.2 L1078.8 293.7 L1080.7 293.2 L1082.7 292.8 L1084.6 292.3 L1086.6 291.8 L1088.5 291.4 L1090.5 290.9 L1092.4 290.5 L1092.6 290.5 M1120.2 284.6 L1121.9 284.3 L1123.9 283.9 L1125.9 283.5 L1127.4 283.2 M1156.4 278.2 L1157.6 278.0 L1159.6 277.7 L1161.6 277.4 L1163.6 277.1 L1165.6 276.8 L1167.6 276.5 L1169.6 276.2 L1171.6 275.9 L1173.6 275.6 L1175.6 275.3 L1177.6 275.1 L1179.6 274.8 L1181.6 274.5 L1183.6 274.2 L1185.6 274.0 L1187.6 273.7 L1189.6 273.5 L1191.6 273.2 L1193.6 273.0 L1195.6 272.7 L1197.6 272.5 L1199.6 272.2 L1201.6 272.0 L1203.6 271.7 L1205.6 271.5 L1207.6 271.3 L1208.2 271.2 M1237.8 268.2 L1239.8 268.0 L1241.8 267.8 L1243.8 267.7 L1245.8 267.5 L1246.3 267.4 M1277.1 265.1 L1277.9 265.1 L1279.9 264.9 L1281.9 264.8 L1283.9 264.7 L1285.9 264.6 L1287.9 264.4 L1289.9 264.3 L1292.0 264.2 L1294.0 264.1 L1296.0 264.0 L1298.0 263.9 L1300.0 263.8 L1302.0 263.7 L1304.0 263.6 L1306.0 263.5 L1308.0 263.4 L1310.0 263.3 L1312.0 263.2 L1314.0 263.1 L1316.0 263.0 L1318.0 262.9 L1320.1 262.8 L1322.1 262.7 L1324.1 262.7 L1326.1 262.6 L1328.1 262.5 L1330.1 262.4 L1332.1 262.4 L1333.5 262.3 M1364.7 261.5 L1366.2 261.5 L1368.2 261.5 L1370.2 261.4 L1372.2 261.4 L1374.2 261.4 L1374.3 261.4 M1406.8 261.2 L1408.3 261.2 L1410.3 261.2 L1412.3 261.2 L1414.3 261.2 L1416.3 261.2 L1418.3 261.2 L1420.4 261.2 L1422.4 261.2 L1424.4 261.3 L1426.4 261.3 L1428.4 261.3 L1430.4 261.3 L1432.4 261.3 L1434.4 261.3 L1436.4 261.4 L1438.4 261.4 L1440.4 261.4 L1442.4 261.5 L1444.4 261.5 L1446.4 261.5 L1448.4 261.5 L1450.4 261.6 L1452.4 261.6 L1454.4 261.7 L1456.4 261.7 L1458.4 261.7 L1460.4 261.8 L1462.4 261.8 L1464.0 261.8 M1495.5 262.7 L1496.5 262.7 L1498.5 262.8 L1500.5 262.8 L1502.5 262.9 L1504.5 263.0 L1505.4 263.0 M1538.1 264.2 L1538.6 264.2 L1540.6 264.3 L1542.6 264.4 L1544.6 264.5 L1546.6 264.6 L1548.6 264.6 L1550.6 264.7 L1552.6 264.8 L1554.6 264.9 L1556.6 265.0 L1558.6 265.1 L1560.6 265.2 L1562.6 265.3 L1564.6 265.4 L1566.6 265.4 L1568.6 265.5 L1570.6 265.6 L1572.6 265.7 L1574.6 265.8 L1576.6 265.9 L1578.6 266.0 L1580.6 266.1 L1582.6 266.2 L1584.6 266.3 L1586.6 266.4 L1588.6 266.5 L1590.6 266.6 L1592.6 266.7 L1593.7 266.7 M1624.6 268.3 L1624.6 268.3 L1626.6 268.4 L1628.6 268.5 L1630.6 268.6 L1632.6 268.7 L1634.0 268.8 M1666.1 270.5 L1666.6 270.5 L1668.6 270.6 L1670.6 270.7 L1672.6 270.9 L1674.6 271.0 L1676.6 271.1 L1678.6 271.2 L1680.6 271.3 L1682.6 271.4 L1684.6 271.5 L1686.6 271.6 L1688.6 271.7 L1690.6 271.8 L1692.6 271.9 L1694.6 272.1 L1696.6 272.2 L1698.6 272.3 L1700.6 272.4 L1702.6 272.5 L1704.6 272.6 L1706.6 272.7 L1708.5 272.8 L1710.5 272.9 L1712.5 273.1 L1714.5 273.2 L1716.5 273.3 L1718.5 273.4 L1720.5 273.5 L1721.6 273.6 M1752.4 275.3 L1752.5 275.3 L1754.5 275.4 L1756.5 275.6 L1758.5 275.7 L1760.5 275.8 L1761.8 275.9 M1793.9 277.8 L1794.4 277.8 L1796.4 277.9 L1798.4 278.0 L1800.4 278.1 L1802.4 278.3 L1804.4 278.4 L1806.4 278.5 L1808.4 278.6 L1810.4 278.7 L1812.4 278.9 L1814.4 279.0 L1816.4 279.1 L1818.4 279.2 L1820.4 279.4 L1822.4 279.5 L1824.4 279.6 L1826.4 279.7 L1828.3 279.8 L1830.3 280.0 L1832.3 280.1 L1834.3 280.2 L1836.3 280.3 L1838.3 280.4 L1840.3 280.6 L1842.3 280.7 L1844.3 280.8 L1846.3 280.9 L1847.9 281.0 M1878.2 282.9 L1878.2 282.9 L1880.2 283.1 L1882.2 283.2 L1884.2 283.3 L1886.2 283.4 L1887.2 283.5 M1918.7 285.5 L1920.1 285.6 L1922.1 285.7 L1924.1 285.9 L1926.1 286.0 L1928.1 286.1 L1930.1 286.3 L1932.1 286.4 L1934.1 286.5 L1936.1 286.7 L1938.1 286.8 L1940.1 286.9 L1942.1 287.0 L1944.1 287.2 L1946.1 287.3 L1948.1 287.4 L1950.1 287.6 L1952.1 287.7 L1954.1 287.8 L1956.1 288.0 L1958.1 288.1 L1960.0 288.2 L1962.0 288.4 L1964.0 288.5 L1966.0 288.6 L1968.0 288.8 L1970.0 288.9 L1972.0 289.0 L1972.7 289.1 M2003.0 291.1 L2003.9 291.2 L2005.9 291.3 L2007.9 291.4 L2009.9 291.6 L2011.9 291.7 L2012.0 291.7 M2043.5 293.9 L2043.9 293.9 L2045.9 294.1 L2047.8 294.2 L2049.8 294.3 L2051.8 294.5 L2053.8 294.6 L2055.8 294.7 L2057.8 294.9 L2059.8 295.0 L2061.8 295.2 L2063.8 295.3 L2065.8 295.4 L2067.8 295.6 L2069.8 295.7 L2071.8 295.9 L2073.8 296.0 L2075.8 296.1 L2077.8 296.3 L2079.8 296.4 L2081.8 296.6 L2083.8 296.7 L2085.8 296.9 L2087.8 297.0 L2089.8 297.1 L2091.8 297.3 L2093.8 297.4 L2095.7 297.6 L2097.5 297.7 M2127.8 299.9 L2129.7 300.0 L2131.7 300.1 L2133.7 300.3 L2135.7 300.4 L2136.8 300.5 M2168.3 302.8 L2169.6 302.9 L2171.6 303.0 L2173.6 303.2 L2175.6 303.3 L2177.6 303.5 L2179.6 303.6 L2181.6 303.8 L2183.6 303.9 L2185.6 304.1 L2187.6 304.2 L2189.6 304.4 L2191.6 304.5 L2193.6 304.7 L2195.6 304.8 L2197.6 305.0 L2199.6 305.1 L2201.6 305.3 L2203.6 305.4 L2205.6 305.6 L2207.6 305.7 L2209.6 305.9 L2211.6 306.0 L2213.6 306.2 L2215.6 306.3 L2217.6 306.5 L2219.6 306.6 L2221.6 306.8 L2223.1 306.9 M2253.7 309.2 L2255.6 309.3 L2257.6 309.5 L2259.6 309.6 L2261.6 309.8 L2262.9 309.9 M2294.7 312.3 L2295.6 312.4 L2297.6 312.5 L2299.6 312.7 L2301.6 312.8 L2303.6 313.0 L2305.6 313.2 L2307.6 313.3 L2309.6 313.5 L2311.6 313.6 L2313.6 313.8 L2315.6 313.9 L2317.6 314.1 L2319.6 314.2 L2321.6 314.4 L2323.6 314.6 L2325.6 314.7 L2327.6 314.9 L2329.6 315.0 L2331.6 315.2 L2333.6 315.3 L2335.6 315.5 L2337.6 315.6 L2339.6 315.8 L2341.6 316.0 L2343.6 316.1 L2345.6 316.3 L2347.6 316.4 L2349.5 316.6" stroke="#0000d2"/>
<path d="M477.0 1116.0 L476.8 1114.0 L476.9 1112.0 L477.0 1110.0 L477.0 1108.0 L477.1 1106.0 L477.2 1104.0 L477.2 1102.0 L477.3 1100.0 L477.4 1097.9 L477.4 1095.9 L477.5 1093.9 L477.5 1091.9 L477.6 1089.9 L477.7 1087.9 L477.7 1085.9 L477.8 1083.9 L477.8 1081.9 L477.9 1079.9 L478.0 1077.9 L478.0 1075.9 L478.1 1073.9 L478.1 1071.9 L478.2 1069.9 L478.3 1067.9 L478.3 1065.8 L478.4 1063.8 L478.4 1061.8 L478.5 1059.8 L478.5 1057.8 L478.6 1055.8 L478.6 1053.8 L478.7 1051.8 L478.8 1049.8 L478.8 1047.8 L478.9 1045.8 L478.9 1043.8 L479.0 1041.8 L479.0 1039.8 L479.1 1037.8 L479.1 1035.8 L479.2 1033.7 L479.2 1031.7 L479.3 1029.7 L479.3 1027.7 L479.4 1025.7 L479.4 1023.7 L479.5 1021.7 L479.5 1019.7 L479.6 1017.7 L479.6 1015.7 L479.7 1013.7 L479.7 1011.7 L479.8 1009.7 L479.8 1007.7 L479.9 1005.7 L479.9 1003.7 L480.0 1001.7 L480.0 999.6 L480.0 997.6 L480.1 995.6 L480.1 993.6 L480.2 991.6 L480.2 989.6 L480.3 987.6 L480.3 985.6 L480.4 983.6 L480.4 981.6 L480.4 979.6 L480.5 977.6 L480.5 975.6 L480.6 973.6 L480.6 971.6 L480.7 969.6 L480.7 967.6 L480.7 965.6 L480.8 963.5 L480.8 961.5 L480.9 959.5 L480.9 957.5 L480.9 955.5 L481.0 953.5 L481.0 951.5 L481.1 949.5 L481.1 947.5 L481.1 945.5 L481.2 943.5 L481.2 941.5 L481.3 939.5 L481.3 937.5 L481.3 935.5 L481.4 933.5 L481.4 931.5 L481.4 929.4 L481.5 927.4 L481.5 925.4 L481.6 923.4 L481.6 921.4 L481.6 919.4 L481.7 917.4 L481.7 915.4 L481.7 913.4 L481.8 911.4 L481.8 909.4 L481.8 907.4 L481.9 905.4 L481.9 903.4 L481.9 901.4 L482.0 899.4 L482.0 897.4 L482.0 895.4 L482.1 893.3 L482.1 891.3 L482.1 889.3 L482.2 887.3 L482.2 885.3 L482.2 883.3 L482.3 881.3 L482.3 879.3 L482.3 877.3 L482.4 875.3 L482.4 873.3 L482.4 871.3 L482.5 869.3 L482.5 867.3 L482.5 865.3 L482.6 863.3 L482.6 861.3 L482.6 859.3 L482.7 857.2 L482.7 855.2 L482.7 853.2 L482.8 851.2 L482.8 849.2 L482.8 847.2 L482.8 845.2 L482.9 843.2 L482.9 841.2 L482.9 839.2 L483.0 837.2 L483.0 835.2 L483.0 833.2 L483.0 831.2 L483.1 829.2 L483.1 827.2 L483.1 825.2 L483.2 823.2 L483.2 821.1 L483.2 819.1 L483.2 817.1 L483.3 815.1 L483.3 813.1 L483.3 811.1 L483.4 809.1 L483.4 807.1 L483.4 805.1 L483.4 803.1 L483.5 801.1 L483.5 799.1 L483.5 797.1 L483.6 795.1 L483.6 793.1 L483.6 791.1 L483.6 789.1 L483.7 787.1 L483.7 785.0 L483.7 783.0 L483.7 781.0 L483.8 779.0 L483.8 777.0 L483.8 775.0 L483.8 773.0 L483.9 771.0 L483.9 769.0 L483.9 767.0 L484.0 765.0 L484.0 763.0 L484.0 761.0 L484.0 759.0 L484.1 757.0 L484.1 755.0 L484.1 753.0 L484.1 750.9 L484.2 748.9 L484.2 746.9 L484.2 744.9 L484.2 742.9 L484.3 740.9 L484.3 738.9 L484.3 736.9 L484.3 734.9 L484.4 732.9 L484.4 730.9 L484.4 728.9 L484.5 726.9 L484.5 724.9 L484.5 722.9 L484.5 720.9 L484.6 718.9 L484.6 716.8 L484.6 714.8 L484.6 712.8 L484.7 710.8 L484.7 708.8 L484.7 706.8 L484.7 704.8 L484.8 702.8 L484.8 700.8 L484.8 698.8 L484.8 696.8 L484.9 694.8 L484.9 692.8 L484.9 690.8 L484.9 688.8 L485.0 686.8 L485.0 684.7 L485.0 682.7 L485.0 680.7 L485.1 678.7 L485.1 676.7 L485.1 674.7 L485.2 672.7 L485.2 670.7 L485.2 668.7 L485.2 666.7 L485.3 664.7 L485.3 662.7 L485.3 660.7 L485.3 658.7 L485.4 656.7 L485.4 654.7 L485.4 652.6 L485.4 650.6 L485.5 648.6 L485.5 646.6 L485.5 644.6 L485.6 642.6 L485.6 640.6 L485.6 638.6 L485.6 636.6 L485.7 634.6 L485.7 632.6 L485.7 630.6 L485.7 628.6 L485.8 626.6 L485.8 624.6 L485.8 622.6 L485.9 620.5 L485.9 618.5 L485.9 616.5 L485.9 614.5 L486.0 612.5 L486.0 610.5 L486.0 608.5 L486.1 606.5 L486.1 604.5 L486.1 602.5 L486.1 600.5 L486.2 598.5 L486.2 596.5 L486.2 594.5 L486.3 592.4 L486.3 590.4 L486.3 588.4 L486.4 586.4 L486.4 584.4 L486.4 582.4 L486.4 580.4 L486.5 578.4 L486.5 576.4 L486.5 574.4 L486.6 572.4 L486.6 570.4 L486.6 568.4 L486.7 566.4 L486.7 564.4 L486.7 562.3 L486.8 560.3 L486.8 558.3 L486.8 556.3 L486.9 554.3 L486.9 552.3 L486.9 550.3 L487.0 548.3 L487.0 546.3 L487.0 544.3 L487.1 542.3 L487.1 540.3 L487.1 538.3 L487.2 536.2 L487.2 534.2 L487.2 532.2 L487.3 530.2 L487.3 528.2 L487.3 526.2 L487.4 524.2 L487.4 522.2 L487.4 520.2 L487.5 518.2 L487.5 516.2 L487.6 514.2 L487.6 512.2 L487.6 510.2 L487.7 508.1 L487.7 506.1 L487.7 504.1 L487.8 502.1 L487.8 500.1 L487.9 498.1 L487.9 496.1 L487.9 494.1 L488.0 492.1 L488.0 490.1 L488.0 488.1 L488.1 486.1 L488.1 484.1 L488.2 482.0 L488.2 480.0 L488.3 478.0 L488.3 476.0 L488.3 474.0 L488.4 472.0 L488.4 470.0 L488.5 468.0 L488.5 466.0 L488.6 464.0 L488.6 462.0 L488.7 460.0 L488.7 458.0 L488.8 455.9 L488.8 453.9 L488.9 451.9 L488.9 449.9 L489.0 447.9 L489.1 445.9 L489.1 443.9 L489.2 441.9 L489.2 439.9 L489.3 437.9 L489.4 435.9 L489.4 433.9 L489.5 431.9 L489.6 429.9 L489.6 427.9 L489.7 425.9 L489.8 423.9 L489.9 421.9 L489.9 419.8 L490.0 417.8 L490.1 415.8 L490.2 413.8 L490.3 411.8 L490.4 409.8 L490.4 407.8 L490.5 405.8 L490.6 403.8 L490.7 401.8 L490.8 399.8 L490.9 397.8 L491.0 395.8 L491.1 393.8 L491.2 391.8 L491.3 389.8 L491.4 387.8 L491.5 385.8 L491.7 383.8 L491.8 381.8 L491.9 379.8 L492.0 377.8 L492.1 375.8 L492.3 373.8 L492.4 371.8 L492.5 369.8 L492.6 367.8 L492.8 365.8 L492.9 363.8 L493.1 361.8 L493.2 359.8 L493.3 357.8 L493.5 355.9 L493.6 353.9 L493.8 351.9 L494.0 349.9 L494.1 347.9 L494.3 345.9 L494.4 343.9 L494.6 341.9 L494.8 339.9 L495.0 337.9 L495.1 335.9 L495.3 333.9 L495.5 331.9 L495.7 330.0 L495.9 328.0 L496.1 326.0 L496.3 324.0 L496.5 322.0 L496.7 320.0 L496.9 318.0 L497.1 316.0 L497.3 314.1 L497.6 312.1 L497.8 310.1 L498.0 308.1 L498.2 306.1 L498.5 304.1 L498.7 302.1 L498.9 300.2 L499.2 298.2 L499.4 296.2 L499.7 294.2 L500.0 292.2 L500.2 290.3 L500.5 288.3 L500.7 286.3 L501.0 284.3 L501.3 282.3 L501.6 280.4 L501.9 278.4 L504.5 277.0 L506.8 278.2 L507.2 280.1 L507.5 282.1 L507.9 284.0 L508.2 286.0 L508.6 287.9 L508.9 289.9 L509.3 291.8 L509.6 293.8 L509.9 295.8 L510.3 297.7 L510.6 299.7 L511.0 301.6 L511.3 303.6 L511.7 305.5 L512.0 307.5 L512.4 309.5 L512.7 311.4 L513.1 313.4 L513.4 315.3 L513.8 317.3 L514.1 319.3 L514.5 321.2 L514.8 323.2 L515.2 325.2 L515.5 327.1 L515.9 329.1 L516.2 331.0 L516.6 333.0 L516.9 335.0 L517.3 336.9 L517.6 338.9 L518.0 340.9 L518.3 342.8 L518.7 344.8 L519.0 346.8 L519.4 348.7 L519.7 350.7 L520.1 352.7 L520.5 354.6 L520.8 356.6 L521.2 358.6 L521.5 360.5 L521.9 362.5 L522.3 364.5 L522.6 366.5 L523.0 368.4 L523.4 370.4 L523.7 372.4 L524.1 374.3 L524.5 376.3 L524.9 378.3 L525.3 380.2 L525.6 382.2 L526.0 384.2 L526.4 386.1 L526.8 388.1 L527.2 390.0 L527.6 392.0 L528.0 394.0 L528.3 395.9 L528.7 397.9 L529.1 399.9 L529.5 401.8 L529.9 403.8 L530.3 405.8 L530.8 407.7 L531.2 409.7 L531.6 411.6 L532.0 413.6 L532.4 415.6 L532.8 417.5 L533.3 419.5 L533.7 421.4 L534.1 423.4 L534.5 425.3 L535.0 427.3 L535.4 429.3 L535.9 431.2 L536.3 433.2 L536.7 435.1 L537.2 437.1 L537.6 439.0 L538.1 441.0 L538.6 442.9 L539.0 444.9 L539.5 446.8 L540.0 448.8 L540.4 450.7 L540.9 452.7 L541.4 454.6 L541.9 456.5 L542.4 458.5 L542.8 460.4 L543.3 462.4 L543.8 464.3 L544.3 466.2 L544.8 468.2 L545.4 470.1 L545.9 472.0 L546.4 474.0 L546.9 475.9 L547.4 477.8 L548.0 479.8 L548.5 481.7 L549.0 483.6 L549.6 485.5 L550.1 487.5 L550.7 489.4 L551.3 491.3 L551.8 493.2 L552.4 495.1 L553.0 497.0 L553.5 499.0 L554.1 500.9 L554.7 502.8 L555.3 504.7 L555.9 506.6 L556.5 508.5 L557.1 510.4 L557.7 512.3 L558.3 514.2 L558.9 516.1 L559.5 518.0 L560.2 519.9 L560.8 521.8 L561.4 523.7 L562.1 525.6 L562.7 527.5 L563.4 529.4 L564.0 531.3 L564.7 533.1 L565.3 535.0 L566.0 536.9 L566.7 538.8 L567.4 540.7 L568.0 542.5 L568.7 544.4 L569.4 546.3 L570.1 548.2 L570.8 550.0 L571.5 551.9 L572.2 553.8 L572.9 555.6 L573.6 557.5 L574.4 559.4 L575.1 561.2 L575.8 563.1 L576.5 565.0 L577.3 566.8 L578.0 568.7 L578.8 570.5 L579.5 572.4 L580.3 574.2 L581.0 576.1 L581.8 577.9 L582.6 579.8 L583.3 581.6 L584.1 583.4 L584.9 585.3 L585.7 587.1 L586.5 589.0 L587.2 590.8 L588.0 592.6 L588.8 594.4 L589.7 596.3 L590.5 598.1 L591.3 599.9 L592.1 601.8 L592.9 603.6 L593.7 605.4 L594.6 607.2 L595.4 609.0 L596.2 610.8 L597.1 612.7 L597.9 614.5 L598.8 616.3 L599.6 618.1 L600.5 619.9 L601.4 621.7 L602.2 623.5 L603.1 625.3 L604.0 627.1 L604.9 628.9 L605.7 630.7 L606.6 632.5 L607.5 634.3 L608.4 636.0 L609.3 637.8 L610.2 639.6 L611.1 641.4 L612.0 643.2 L612.9 645.0 L613.9 646.7 L614.8 648.5 L615.7 650.3 L616.6 652.0 L617.6 653.8 L618.5 655.6 L619.5 657.4 L620.4 659.1 L621.4 660.9 L622.3 662.6 L623.3 664.4 L624.2 666.1 L625.2 667.9 L626.2 669.7 L627.1 671.4 L628.1 673.1 L629.1 674.9 L630.1 676.6 L631.1 678.4 L632.1 680.1 L633.0 681.9 L634.0 683.6 L635.1 685.3 L636.1 687.1 L637.1 688.8 L638.1 690.5 L639.1 692.2 L640.1 694.0 L641.1 695.7 L642.2 697.4 L643.2 699.1 L644.2 700.8 L645.3 702.5 L646.3 704.3 L647.4 706.0 L648.4 707.7 L649.5 709.4 L650.5 711.1 L651.6 712.8 L652.7 714.5 L653.7 716.2 L654.8 717.9 L655.9 719.6 L657.0 721.2 L658.0 722.9 L659.1 724.6 L660.2 726.3 L661.3 728.0 L662.4 729.7 L663.5 731.3 L664.6 733.0 L665.7 734.7 L666.8 736.4 L668.0 738.0 L669.1 739.7 L670.2 741.3 L671.3 743.0 L672.5 744.7 L673.6 746.3 L674.7 748.0 L675.9 749.6 L677.0 751.3 L678.1 752.9 L679.3 754.6 L680.5 756.2 L681.6 757.8 L682.8 759.5 L683.9 761.1 L685.1 762.7 L686.3 764.4 L687.5 766.0 L688.6 767.6 L689.8 769.2 L691.0 770.9 L692.2 772.5 L693.4 774.1 L694.6 775.7 L695.8 777.3 L697.0 778.9 L698.2 780.5 L699.4 782.1 L700.6 783.7 L701.8 785.3 L703.1 786.9 L704.3 788.4 L705.5 790.0 L706.8 791.6 L708.0 793.2 L709.2 794.8 L710.5 796.3 L711.7 797.9 L713.0 799.4 L714.3 801.0 L715.5 802.6 L716.8 804.1 L718.1 805.7 L719.3 807.2 L720.6 808.7 L721.9 810.3 L723.2 811.8 L724.5 813.3 L725.7 814.9 L727.0 816.4 L728.3 817.9 L729.7 819.4 L731.0 820.9 L732.3 822.4 L733.6 823.9 L734.9 825.4 L736.2 826.9 L737.6 828.4 L738.9 829.9 L740.2 831.4 L741.6 832.9 L742.9 834.4 L744.3 835.8 L745.6 837.3 L747.0 838.8 L748.3 840.2 L749.7 841.7 L751.1 843.1 L752.4 844.6 L753.8 846.0 L755.2 847.4 L756.6 848.9 L758.0 850.3 L759.4 851.7 L760.8 853.2 L762.2 854.6 L763.6 856.0 L765.0 857.4 L766.4 858.8 L767.8 860.2 L769.2 861.6 L770.7 863.0 L772.1 864.4 L773.5 865.7 L775.0 867.1 L776.4 868.5 L777.9 869.9 L779.3 871.2 L780.8 872.6 L782.2 873.9 L783.7 875.3 L785.2 876.6 L786.6 877.9 L788.1 879.3 L789.6 880.6 L791.1 881.9 L792.6 883.2 L794.1 884.6 L795.6 885.9 L797.1 887.2 L798.6 888.5 L800.1 889.8 L801.6 891.0 L803.1 892.3 L804.7 893.6 L806.2 894.9 L807.7 896.1 L809.3 897.4 L810.8 898.6 L812.3 899.9 L813.9 901.1 L815.5 902.4 L817.0 903.6 L818.6 904.8 L820.2 906.0 L821.7 907.3 L823.3 908.5 L824.9 909.7 L826.5 910.9 L828.1 912.1 L829.7 913.3 L831.3 914.4 L832.9 915.6 L834.5 916.8 L836.1 917.9 L837.7 919.1 L839.3 920.3 L841.0 921.4 L842.6 922.5 L844.2 923.7 L845.9 924.8 L847.5 925.9 L849.2 927.0 L850.8 928.1 L852.5 929.3 L854.2 930.4 L855.8 931.4 L857.5 932.5 L859.2 933.6 L860.9 934.7 L862.5 935.8 L864.2 936.8 L865.9 937.9 L867.6 938.9 L869.3 940.0 L871.0 941.0 L872.7 942.1 L874.4 943.1 L876.1 944.1 L877.9 945.2 L879.6 946.2 L881.3 947.2 L883.0 948.2 L884.8 949.2 L886.5 950.2 L888.3 951.2 L890.0 952.2 L891.7 953.1 L893.5 954.1 L895.2 955.1 L897.0 956.0 L898.8 957.0 L900.5 957.9 L902.3 958.9 L904.1 959.8 L905.8 960.8 L907.6 961.7 L909.4 962.6 L911.2 963.5 L913.0 964.5 L914.7 965.4 L916.5 966.3 L918.3 967.2 L920.1 968.1 L921.9 969.0 L923.7 969.8 L925.5 970.7 L927.3 971.6 L929.2 972.5 L931.0 973.3 L932.8 974.2 L934.6 975.1 L936.4 975.9 L938.2 976.8 L940.1 977.6 L941.9 978.4 L943.7 979.3 L945.6 980.1 L947.4 980.9 L949.2 981.7 L951.1 982.5 L952.9 983.3 L954.8 984.1 L956.6 984.9 L958.4 985.7 L960.3 986.5 L962.1 987.3 L964.0 988.1 L965.9 988.9 L967.7 989.6 L969.6 990.4 L971.4 991.2 L973.3 991.9 L975.2 992.7 L977.0 993.4 L978.9 994.2 L980.8 994.9 L982.6 995.6 L984.5 996.4 L986.4 997.1 L988.3 997.8 L990.1 998.5 L992.0 999.3 L993.9 1000.0 L995.8 1000.7 L997.7 1001.4 L999.5 1002.1 L1001.4 1002.8 L1003.3 1003.5 L1005.2 1004.1 L1007.1 1004.8 L1009.0 1005.5 L1010.9 1006.2 L1012.8 1006.8 L1014.7 1007.5 L1016.5 1008.2 L1018.4 1008.8 L1020.3 1009.5 L1022.2 1010.1 L1024.1 1010.7 L1026.0 1011.4 L1027.9 1012.0 L1029.8 1012.7 L1031.7 1013.3 L1033.6 1013.9 L1035.5 1014.5 L1037.4 1015.1 L1039.4 1015.7 L1041.3 1016.4 L1043.2 1017.0 L1045.1 1017.6 L1047.0 1018.2 L1048.9 1018.7 L1050.8 1019.3 L1052.7 1019.9 L1054.6 1020.5 L1056.6 1021.1 L1058.5 1021.6 L1060.4 1022.2 L1062.3 1022.8 L1064.2 1023.3 L1066.1 1023.9 L1068.1 1024.5 L1070.0 1025.0 L1071.9 1025.6 L1073.8 1026.1 L1075.8 1026.6 L1077.7 1027.2 L1079.6 1027.7 L1081.5 1028.2 L1083.5 1028.8 L1085.4 1029.3 L1087.3 1029.8 L1089.3 1030.3 L1091.2 1030.8 L1093.1 1031.4 L1095.0 1031.9 L1097.0 1032.4 L1098.9 1032.9 L1100.8 1033.4 L1102.8 1033.8 L1104.7 1034.3 L1106.7 1034.8 L1108.6 1035.3 L1110.5 1035.8 L1112.5 1036.3 L1114.4 1036.7 L1116.4 1037.2 L1118.3 1037.7 L1120.2 1038.1 L1122.2 1038.6 L1124.1 1039.0 L1126.1 1039.5 L1128.0 1040.0 L1130.0 1040.4 L1131.9 1040.8 L1133.9 1041.3 L1135.8 1041.7 L1137.8 1042.2 L1139.7 1042.6 L1141.7 1043.0 L1143.6 1043.4 L1145.6 1043.9 L1147.5 1044.3 L1149.5 1044.7 L1151.4 1045.1 L1153.4 1045.5 L1155.3 1045.9 L1157.3 1046.3 L1159.3 1046.7 L1161.2 1047.1 L1163.2 1047.5 L1165.1 1047.9 L1167.1 1048.3 L1169.1 1048.7 L1171.0 1049.1 L1173.0 1049.5 L1174.9 1049.9 L1176.9 1050.2 L1178.9 1050.6 L1180.8 1051.0 L1182.8 1051.4 L1184.8 1051.7 L1186.7 1052.1 L1188.7 1052.5 L1190.7 1052.8 L1192.6 1053.2 L1194.6 1053.5 L1196.6 1053.9 L1198.5 1054.2 L1200.5 1054.6 L1202.5 1054.9 L1204.4 1055.3 L1206.4 1055.6 L1208.4 1055.9 L1210.3 1056.3 L1212.3 1056.6 L1214.3 1056.9 L1216.3 1057.3 L1218.2 1057.6 L1220.2 1057.9 L1222.2 1058.2 L1224.2 1058.5 L1226.1 1058.9 L1228.1 1059.2 L1230.1 1059.5 L1232.1 1059.8 L1234.0 1060.1 L1236.0 1060.4 L1238.0 1060.7 L1240.0 1061.0 L1242.0 1061.3 L1243.9 1061.6 L1245.9 1061.9 L1247.9 1062.2 L1249.9 1062.5 L1251.9 1062.8 L1253.8 1063.0 L1255.8 1063.3 L1257.8 1063.6 L1259.8 1063.9 L1261.8 1064.2 L1263.7 1064.4 L1265.7 1064.7 L1267.7 1065.0 L1269.7 1065.2 L1271.7 1065.5 L1273.7 1065.8 L1275.6 1066.0 L1277.6 1066.3 L1279.6 1066.6 L1281.6 1066.8 L1283.6 1067.1 L1285.6 1067.3 L1287.6 1067.6 L1289.5 1067.8 L1291.5 1068.1 L1293.5 1068.3 L1295.5 1068.6 L1297.5 1068.8 L1299.5 1069.1 L1301.5 1069.3 L1303.5 1069.5 L1305.4 1069.8 L1307.4 1070.0 L1309.4 1070.2 L1311.4 1070.5 L1313.4 1070.7 L1315.4 1070.9 L1317.4 1071.2 L1319.4 1071.4 L1321.4 1071.6 L1323.4 1071.8 L1325.3 1072.1 L1327.3 1072.3 L1329.3 1072.5 L1331.3 1072.7 L1333.3 1072.9 L1335.3 1073.1 L1337.3 1073.3 L1339.3 1073.6 L1341.3 1073.8 L1343.3 1074.0 L1345.3 1074.2 L1347.2 1074.4 L1349.2 1074.6 L1351.2 1074.8 L1353.2 1075.0 L1355.2 1075.2 L1357.2 1075.4 L1359.2 1075.6 L1361.2 1075.8 L1363.2 1076.0 L1365.2 1076.2 L1367.2 1076.4 L1369.2 1076.6 L1371.1 1076.8 L1373.1 1077.0 L1375.1 1077.1 L1377.1 1077.3 L1379.1 1077.5 L1381.1 1077.7 L1383.1 1077.9 L1385.1 1078.1 L1387.1 1078.3 L1389.1 1078.4 L1391.1 1078.6 L1393.1 1078.8 L1395.1 1079.0 L1397.1 1079.1 L1399.1 1079.3 L1401.0 1079.5 L1403.0 1079.7 L1405.0 1079.8 L1407.0 1080.0 L1409.0 1080.2 L1411.0 1080.3 L1413.0 1080.5 L1415.0 1080.7 L1417.0 1080.8 L1419.0 1081.0 L1421.0 1081.2 L1423.0 1081.3 L1425.0 1081.5 L1427.0 1081.6 L1429.0 1081.8 L1431.0 1081.9 L1433.0 1082.1 L1435.0 1082.2 L1436.9 1082.4 L1438.9 1082.6 L1440.9 1082.7 L1442.9 1082.9 L1444.9 1083.0 L1446.9 1083.1 L1448.9 1083.3 L1450.9 1083.4 L1452.9 1083.6 L1454.9 1083.7 L1456.9 1083.9 L1458.9 1084.0 L1460.9 1084.1 L1462.9 1084.3 L1464.9 1084.4 L1466.9 1084.6 L1468.9 1084.7 L1470.9 1084.8 L1472.9 1085.0 L1474.9 1085.1 L1476.9 1085.2 L1478.9 1085.4 L1480.9 1085.5 L1482.9 1085.6 L1484.8 1085.7 L1486.8 1085.9 L1488.8 1086.0 L1490.8 1086.1 L1492.8 1086.2 L1494.8 1086.4 L1496.8 1086.5 L1498.8 1086.6 L1500.8 1086.7 L1502.8 1086.8 L1504.8 1087.0 L1506.8 1087.1 L1508.8 1087.2 L1510.8 1087.3 L1512.8 1087.4 L1514.8 1087.5 L1516.8 1087.6 L1518.8 1087.7 L1520.8 1087.9 L1522.8 1088.0 L1524.8 1088.1 L1526.8 1088.2 L1528.8 1088.3 L1530.8 1088.4 L1532.8 1088.5 L1534.8 1088.6 L1536.8 1088.7 L1538.8 1088.8 L1540.8 1088.9 L1542.8 1089.0 L1544.8 1089.1 L1546.8 1089.2 L1548.8 1089.3 L1550.8 1089.4 L1552.8 1089.5 L1554.8 1089.6 L1556.8 1089.7 L1558.8 1089.8 L1560.8 1089.9 L1562.8 1089.9 L1564.8 1090.0 L1566.8 1090.1 L1568.8 1090.2 L1570.8 1090.3 L1572.8 1090.4 L1574.8 1090.5 L1576.8 1090.6 L1578.8 1090.6 L1580.8 1090.7 L1582.8 1090.8 L1584.8 1090.9 L1586.8 1091.0 L1588.8 1091.0 L1590.8 1091.1 L1592.8 1091.2 L1594.8 1091.3 L1596.8 1091.4 L1598.8 1091.4 L1600.8 1091.5 L1602.8 1091.6 L1604.8 1091.7 L1606.8 1091.7 L1608.8 1091.8 L1610.8 1091.9 L1612.8 1091.9 L1614.8 1092.0 L1616.8 1092.1 L1618.8 1092.1 L1620.8 1092.2 L1622.8 1092.3 L1624.8 1092.3 L1626.8 1092.4 L1628.8 1092.5 L1630.8 1092.5 L1632.8 1092.6 L1634.8 1092.7 L1636.8 1092.7 L1638.8 1092.8 L1640.8 1092.8 L1642.8 1092.9 L1644.8 1093.0 L1646.8 1093.0 L1648.8 1093.1 L1650.8 1093.1 L1652.8 1093.2 L1654.8 1093.3 L1656.8 1093.3 L1658.8 1093.4 L1660.8 1093.4 L1662.8 1093.5 L1664.8 1093.5 L1666.8 1093.6 L1668.8 1093.6 L1670.8 1093.7 L1672.8 1093.7 L1674.8 1093.8 L1676.8 1093.8 L1678.8 1093.9 L1680.8 1093.9 L1682.8 1094.0 L1684.8 1094.0 L1686.8 1094.1 L1688.8 1094.1 L1690.8 1094.1 L1692.8 1094.2 L1694.8 1094.2 L1696.8 1094.3 L1698.8 1094.3 L1700.8 1094.4 L1702.8 1094.4 L1704.8 1094.4 L1706.8 1094.5 L1708.8 1094.5 L1710.8 1094.5 L1712.8 1094.6 L1714.8 1094.6 L1716.8 1094.7 L1718.8 1094.7 L1720.8 1094.7 L1722.8 1094.8 L1724.8 1094.8 L1726.9 1094.8 L1728.9 1094.9 L1730.9 1094.9 L1732.9 1094.9 L1734.9 1095.0 L1736.9 1095.0 L1738.9 1095.0 L1740.9 1095.1 L1742.9 1095.1 L1744.9 1095.1 L1746.9 1095.1 L1748.9 1095.2 L1750.9 1095.2 L1752.9 1095.2 L1754.9 1095.3 L1756.9 1095.3 L1758.9 1095.3 L1760.9 1095.3 L1762.9 1095.4 L1764.9 1095.4 L1766.9 1095.4 L1768.9 1095.4 L1770.9 1095.5 L1772.9 1095.5 L1774.9 1095.5 L1776.9 1095.5 L1778.9 1095.5 L1780.9 1095.6 L1782.9 1095.6 L1784.9 1095.6 L1786.9 1095.6 L1788.9 1095.6 L1790.9 1095.7 L1792.9 1095.7 L1795.0 1095.7 L1797.0 1095.7 L1799.0 1095.7 L1801.0 1095.8 L1803.0 1095.8 L1805.0 1095.8 L1807.0 1095.8 L1809.0 1095.8 L1811.0 1095.8 L1813.0 1095.8 L1815.0 1095.9 L1817.0 1095.9 L1819.0 1095.9 L1821.0 1095.9 L1823.0 1095.9 L1825.0 1095.9 L1827.0 1095.9 L1829.0 1096.0 L1831.0 1096.0 L1833.0 1096.0 L1835.0 1096.0 L1837.0 1096.0 L1839.0 1096.0 L1841.0 1096.0 L1843.0 1096.0 L1845.0 1096.0 L1847.0 1096.0 L1849.0 1096.1 L1851.1 1096.1 L1853.1 1096.1 L1855.1 1096.1 L1857.1 1096.1 L1859.1 1096.1 L1861.1 1096.1 L1863.1 1096.1 L1865.1 1096.1 L1867.1 1096.1 L1869.1 1096.1 L1871.1 1096.1 L1873.1 1096.1 L1875.1 1096.1 L1877.1 1096.2 L1879.1 1096.2 L1881.1 1096.2 L1883.1 1096.2 L1885.1 1096.2 L1887.1 1096.2 L1889.1 1096.2 L1891.1 1096.2 L1893.1 1096.2 L1895.1 1096.2 L1897.1 1096.2 L1899.1 1096.2 L1901.1 1096.2 L1903.1 1096.2 L1905.2 1096.2 L1907.2 1096.2 L1909.2 1096.2 L1911.2 1096.2 L1913.2 1096.2 L1915.2 1096.2 L1917.2 1096.2 L1919.2 1096.2 L1921.2 1096.2 L1923.2 1096.2 L1925.2 1096.2 L1927.2 1096.2 L1929.2 1096.2 L1931.2 1096.2 L1933.2 1096.2 L1935.2 1096.2 L1937.2 1096.2 L1939.2 1096.2 L1941.2 1096.2 L1943.2 1096.2 L1945.2 1096.2 L1947.2 1096.2 L1949.2 1096.2 L1951.2 1096.2 L1953.2 1096.2 L1955.3 1096.2 L1957.3 1096.2 L1959.3 1096.2 L1961.3 1096.2 L1963.3 1096.2 L1965.3 1096.2 L1967.3 1096.2 L1969.3 1096.2 L1971.3 1096.2 L1973.3 1096.2 L1975.3 1096.2 L1977.3 1096.2 L1979.3 1096.2 L1981.3 1096.2 L1983.3 1096.2 L1985.3 1096.2 L1987.3 1096.2 L1989.3 1096.2 L1991.3 1096.2 L1993.3 1096.2 L1995.3 1096.2 L1997.3 1096.2 L1999.3 1096.2 L2001.3 1096.2 L2003.3 1096.2 L2005.3 1096.2 L2007.3 1096.2 L2009.4 1096.2 L2011.4 1096.2 L2013.4 1096.2 L2015.4 1096.2 L2017.4 1096.2 L2019.4 1096.2 L2021.4 1096.2 L2023.4 1096.2 L2025.4 1096.2 L2027.4 1096.2 L2029.4 1096.2 L2031.4 1096.2 L2033.4 1096.2 L2035.4 1096.2 L2037.4 1096.2 L2039.4 1096.2 L2041.4 1096.2 L2043.4 1096.2 L2045.4 1096.2 L2047.4 1096.2 L2049.4 1096.2 L2051.4 1096.2 L2053.4 1096.2 L2055.4 1096.2 L2057.4 1096.2 L2059.4 1096.2 L2061.4 1096.2 L2063.4 1096.2 L2065.4 1096.2 L2067.4 1096.2 L2069.5 1096.2 L2071.5 1096.2 L2073.5 1096.2 L2075.5 1096.2 L2077.5 1096.2 L2079.5 1096.2 L2081.5 1096.2 L2083.5 1096.2 L2085.5 1096.2 L2087.5 1096.2 L2089.5 1096.2 L2091.5 1096.2 L2093.5 1096.2 L2095.5 1096.2 L2097.5 1096.2 L2099.5 1096.2 L2101.5 1096.3 L2103.5 1096.3 L2105.5 1096.3 L2107.5 1096.3 L2109.5 1096.3 L2111.5 1096.3 L2113.5 1096.3 L2115.5 1096.3 L2117.5 1096.3 L2119.5 1096.3 L2121.5 1096.3 L2123.5 1096.3 L2125.5 1096.3 L2127.5 1096.3 L2129.5 1096.3 L2131.5 1096.4 L2133.5 1096.4 L2135.5 1096.4 L2137.5 1096.4 L2139.5 1096.4 L2141.5 1096.4 L2143.5 1096.4 L2145.5 1096.4 L2147.5 1096.4 L2149.5 1096.4 L2151.6 1096.5 L2153.6 1096.5 L2155.6 1096.5 L2157.6 1096.5 L2159.6 1096.5 L2161.6 1096.5 L2163.6 1096.5 L2165.6 1096.5 L2167.6 1096.6 L2169.6 1096.6 L2171.6 1096.6 L2173.6 1096.6 L2175.6 1096.6 L2177.6 1096.6 L2179.6 1096.6 L2181.6 1096.7 L2183.6 1096.7 L2185.6 1096.7 L2187.6 1096.7 L2189.6 1096.7 L2191.6 1096.7 L2193.6 1096.8 L2195.6 1096.8 L2197.6 1096.8 L2199.6 1096.8 L2201.6 1096.8 L2203.6 1096.9 L2205.6 1096.9 L2207.6 1096.9 L2209.6 1096.9 L2211.6 1097.0 L2213.6 1097.0 L2215.6 1097.0 L2217.6 1097.0 L2219.6 1097.1 L2221.6 1097.1 L2223.6 1097.1 L2225.6 1097.1 L2227.6 1097.2 L2229.6 1097.2 L2231.6 1097.2 L2233.6 1097.2 L2235.6 1097.3 L2237.6 1097.3 L2239.6 1097.3 L2241.6 1097.3 L2243.6 1097.4 L2245.6 1097.4 L2247.6 1097.4 L2249.6 1097.5 L2251.6 1097.5 L2253.6 1097.5 L2255.6 1097.6 L2257.6 1097.6 L2259.6 1097.6 L2261.6 1097.7 L2263.6 1097.7 L2265.6 1097.7 L2267.6 1097.8 L2269.6 1097.8 L2271.6 1097.9 L2273.6 1097.9 L2275.6 1097.9 L2277.6 1098.0 L2279.6 1098.0 L2281.6 1098.0 L2283.6 1098.1 L2285.6 1098.1 L2287.6 1098.2 L2289.6 1098.2 L2291.6 1098.3 L2293.6 1098.3 L2295.6 1098.3 L2297.6 1098.4 L2299.6 1098.4 L2301.6 1098.5 L2303.6 1098.5 L2305.6 1098.6 L2307.6 1098.6 L2309.6 1098.7 L2311.6 1098.7 L2313.6 1098.8 L2315.6 1098.8 L2317.6 1098.9 L2319.6 1098.9 L2321.5 1099.0 L2323.5 1099.0 L2325.5 1099.1 L2327.5 1099.1 L2329.5 1099.2 L2331.5 1099.3 L2333.5 1099.3 L2335.5 1099.4 L2337.5 1099.4 L2339.5 1099.5 L2341.5 1099.5 L2343.5 1099.6 L2345.5 1099.7 L2347.5 1099.7 L2349.5 1099.8 L2351.5 1099.8 L2353.5 1099.9 L2355.5 1100.0 L2357.5 1100.0 L2359.5 1100.1 L2361.5 1100.2 L2363.5 1100.2 L2365.5 1100.2" stroke="#fe0808" />
<g fill="#fe0808" stroke="none"><circle cx="477.4" cy="1095.8" r="5.8"/><circle cx="477.9" cy="1081.3" r="5.8"/><circle cx="478.5" cy="1058.6" r="5.8"/><circle cx="479.1" cy="1037.6" r="5.8"/><circle cx="479.6" cy="1016.9" r="5.8"/><circle cx="480.0" cy="997.6" r="5.8"/><circle cx="480.4" cy="980.3" r="5.8"/><circle cx="480.9" cy="956.4" r="5.8"/><circle cx="481.3" cy="937.6" r="5.8"/><circle cx="481.6" cy="919.4" r="5.8"/><circle cx="482.0" cy="895.4" r="5.8"/><circle cx="482.4" cy="873.0" r="5.8"/><circle cx="482.7" cy="856.8" r="5.8"/><circle cx="483.0" cy="834.6" r="5.8"/><circle cx="483.2" cy="817.7" r="5.8"/><circle cx="483.6" cy="791.1" r="5.8"/><circle cx="484.0" cy="763.4" r="5.8"/><circle cx="484.3" cy="741.5" r="5.8"/><circle cx="484.6" cy="714.0" r="5.8"/><circle cx="484.8" cy="698.7" r="5.8"/><circle cx="485.1" cy="676.6" r="5.8"/><circle cx="485.3" cy="661.6" r="5.8"/><circle cx="485.6" cy="640.7" r="5.8"/><circle cx="485.8" cy="625.2" r="5.8"/><circle cx="486.0" cy="609.2" r="5.8"/><circle cx="486.4" cy="585.6" r="5.8"/><circle cx="486.6" cy="568.0" r="5.8"/><circle cx="486.9" cy="552.3" r="5.8"/><circle cx="487.2" cy="534.8" r="5.8"/><circle cx="487.5" cy="515.2" r="5.8"/><circle cx="487.9" cy="493.7" r="5.8"/><circle cx="488.3" cy="476.5" r="5.8"/><circle cx="488.9" cy="452.2" r="5.8"/><circle cx="489.6" cy="430.5" r="5.8"/><circle cx="490.4" cy="408.5" r="5.8"/><circle cx="491.4" cy="388.3" r="5.8"/><circle cx="493.1" cy="361.6" r="5.8"/><circle cx="494.9" cy="338.4" r="5.8"/><circle cx="496.5" cy="321.9" r="5.8"/><circle cx="499.4" cy="296.9" r="5.8"/><circle cx="507.7" cy="283.3" r="5.8"/><circle cx="511.6" cy="305.0" r="5.8"/><circle cx="516.5" cy="332.8" r="5.8"/><circle cx="520.0" cy="351.9" r="5.8"/><circle cx="524.2" cy="374.6" r="5.8"/><circle cx="528.2" cy="395.1" r="5.8"/><circle cx="532.4" cy="415.6" r="5.8"/><circle cx="538.2" cy="441.4" r="5.8"/><circle cx="543.6" cy="463.3" r="5.8"/><circle cx="560.0" cy="519.5" r="5.8"/><circle cx="575.5" cy="562.2" r="5.8"/><circle cx="587.1" cy="590.5" r="5.8"/><circle cx="603.7" cy="626.6" r="5.8"/><circle cx="629.4" cy="675.5" r="5.8"/><circle cx="650.3" cy="710.7" r="5.8"/><circle cx="666.0" cy="735.0" r="5.8"/><circle cx="686.4" cy="764.5" r="5.8"/><circle cx="704.5" cy="788.7" r="5.8"/><circle cx="743.0" cy="834.4" r="5.8"/><circle cx="784.7" cy="876.2" r="5.8"/><circle cx="825.9" cy="910.4" r="5.8"/><circle cx="864.8" cy="937.2" r="5.8"/><circle cx="910.4" cy="963.2" r="5.8"/><circle cx="970.5" cy="990.8" r="5.8"/><circle cx="1047.3" cy="1018.3" r="5.8"/><circle cx="1154.3" cy="1045.7" r="5.8"/><circle cx="1242.5" cy="1061.4" r="5.8"/><circle cx="1292.8" cy="1068.2" r="5.8"/><circle cx="1459.9" cy="1084.1" r="5.8"/><circle cx="1559.9" cy="1089.8" r="5.8"/><circle cx="1667.8" cy="1093.6" r="5.8"/><circle cx="1753.3" cy="1095.2" r="5.8"/><circle cx="1830.7" cy="1096.0" r="5.8"/><circle cx="1924.1" cy="1096.2" r="5.8"/><circle cx="2073.1" cy="1096.2" r="5.8"/><circle cx="2210.2" cy="1096.9" r="5.8"/><circle cx="2302.6" cy="1098.5" r="5.8"/><circle cx="2349.2" cy="1099.8" r="5.8"/></g>
<path d="M477.0 1116.0 L477.5 1114.1 L478.0 1112.1 L478.6 1110.1 L479.1 1108.1 L479.6 1106.2 L480.2 1104.2 L480.8 1102.3 L481.3 1100.3 L481.9 1098.4 L482.5 1096.5 L483.0 1094.6 L483.6 1092.7 L484.2 1090.8 L484.8 1088.9 L485.4 1087.0 L486.0 1085.1 L486.6 1083.3 L487.1 1081.4 L487.7 1079.5 L488.3 1077.6 L488.8 1075.7 L489.4 1073.9 L490.0 1072.0 L490.5 1070.1 L491.0 1068.2 L491.5 1066.3 L492.1 1064.4 L492.5 1062.5 L493.0 1060.5 L493.5 1058.6 L493.9 1056.7 L494.4 1054.7 L494.8 1052.8 L495.2 1050.8 L495.6 1048.8 L495.9 1046.8 L496.3 1044.8 L496.6 1042.8 L497.0 1040.7 L497.3 1038.7 L497.6 1036.7 L497.9 1034.6 L498.2 1032.6 L498.6 1030.5 L498.9 1028.5 L499.2 1026.5 L499.6 1024.4 L499.9 1022.4 L500.3 1020.3 L500.7 1018.3 L501.1 1016.3 L501.6 1014.3 L502.0 1012.3 L502.5 1010.3 L503.0 1008.3 L503.6 1006.3 L504.1 1004.4 L504.7 1002.5 L505.4 1000.5 L506.1 998.6 L506.8 996.7 L507.6 994.9 L508.4 993.0 L509.3 991.2 L510.2 989.4 L511.2 987.7 L512.2 986.0 L513.3 984.3 L514.4 982.7 L515.5 981.2 L516.8 979.7 L518.0 978.3 L519.3 976.9 L520.7 975.7 L522.1 974.5 L523.6 973.4 L525.1 972.4 L526.7 971.5 L528.3 970.8 L530.0 970.1 L531.8 969.5 L533.6 969.1 L535.4 968.7 L537.3 968.4 L539.2 968.2 L541.1 968.1 L543.1 968.1 L545.0 968.2 L547.0 968.3 L549.1 968.5 L551.1 968.8 L553.1 969.1 L555.2 969.5 L557.2 969.9 L559.3 970.3 L561.3 970.8 L563.4 971.4 L565.4 971.9 L567.4 972.5 L569.4 973.2 L571.3 973.8 L573.3 974.5 L575.2 975.2 L577.1 975.9 L579.0 976.6 L580.9 977.4 L582.8 978.1 L584.7 978.9 L586.5 979.7 L588.4 980.5 L590.2 981.3 L592.0 982.2 L593.9 983.0 L595.7 983.9 L597.5 984.8 L599.3 985.7 L601.1 986.6 L602.9 987.4 L604.7 988.4 L606.4 989.3 L608.2 990.2 L610.0 991.1 L611.8 992.0 L613.5 992.9 L615.3 993.8 L617.1 994.7 L618.9 995.6 L620.6 996.5 L622.4 997.4 L624.2 998.3 L626.0 999.2 L627.8 1000.1 L629.6 1001.0 L631.4 1001.8 L633.2 1002.7 L635.0 1003.5 L636.8 1004.3 L638.7 1005.2 L640.5 1006.0 L642.3 1006.8 L644.2 1007.5 L646.0 1008.3 L647.9 1009.1 L649.8 1009.8 L651.6 1010.6 L653.5 1011.3 L655.4 1012.0 L657.3 1012.8 L659.2 1013.5 L661.0 1014.2 L662.9 1014.9 L664.8 1015.5 L666.7 1016.2 L668.6 1016.9 L670.5 1017.6 L672.4 1018.2 L674.3 1018.9 L676.3 1019.6 L678.2 1020.2 L680.1 1020.9 L682.0 1021.5 L683.9 1022.1 L685.8 1022.8 L687.7 1023.4 L689.6 1024.0 L691.6 1024.7 L693.5 1025.3 L695.4 1025.9 L697.3 1026.5 L699.2 1027.1 L701.1 1027.7 L703.1 1028.3 L705.0 1028.9 L706.9 1029.5 L708.8 1030.1 L710.7 1030.7 L712.7 1031.3 L714.6 1031.9 L716.5 1032.4 L718.4 1033.0 L720.4 1033.6 L722.3 1034.1 L724.2 1034.7 L726.1 1035.3 L728.1 1035.8 L730.0 1036.4 L731.9 1036.9 L733.9 1037.5 L735.8 1038.0 L737.7 1038.5 L739.7 1039.1 L741.6 1039.6 L743.5 1040.1 L745.5 1040.7 L747.4 1041.2 L749.3 1041.7 L751.3 1042.2 L753.2 1042.7 L755.1 1043.2 L757.1 1043.7 L759.0 1044.2 L761.0 1044.7 L762.9 1045.2 L764.8 1045.7 L766.8 1046.2 L768.7 1046.7 L770.7 1047.1 L772.6 1047.6 L774.6 1048.1 L776.5 1048.6 L778.4 1049.0 L780.4 1049.5 L782.3 1050.0 L784.3 1050.4 L786.2 1050.9 L788.2 1051.3 L790.1 1051.8 L792.1 1052.2 L794.0 1052.6 L796.0 1053.1 L797.9 1053.5 L799.9 1054.0 L801.8 1054.4 L803.8 1054.8 L805.7 1055.2 L807.7 1055.7 L809.7 1056.1 L811.6 1056.5 L813.6 1056.9 L815.5 1057.3 L817.5 1057.7 L819.4 1058.1 L821.4 1058.5 L823.4 1058.9 L825.3 1059.3 L827.3 1059.7 L829.2 1060.1 L831.2 1060.5 L833.2 1060.8 L835.1 1061.2 L837.1 1061.6 L839.0 1062.0 L841.0 1062.4 L843.0 1062.7 L844.9 1063.1 L846.9 1063.4 L848.9 1063.8 L850.8 1064.2 L852.8 1064.5 L854.8 1064.9 L856.7 1065.2 L858.7 1065.6 L860.7 1065.9 L862.6 1066.3 L864.6 1066.6 L866.6 1066.9 L868.6 1067.3 L870.5 1067.6 L872.5 1067.9 L874.5 1068.3 L876.4 1068.6 L878.4 1068.9 L880.4 1069.2 L882.4 1069.5 L884.3 1069.9 L886.3 1070.2 L888.3 1070.5 L890.3 1070.8 L892.2 1071.1 L894.2 1071.4 L896.2 1071.7 L898.2 1072.0 L900.1 1072.3 L902.1 1072.6 L904.1 1072.9 L906.1 1073.2 L908.1 1073.4 L910.0 1073.7 L912.0 1074.0 L914.0 1074.3 L916.0 1074.6 L918.0 1074.8 L919.9 1075.1 L921.9 1075.4 L923.9 1075.7 L925.9 1075.9 L927.9 1076.2 L929.8 1076.4 L931.8 1076.7 L933.8 1077.0 L935.8 1077.2 L937.8 1077.5 L939.8 1077.7 L941.8 1078.0 L943.7 1078.2 L945.7 1078.5 L947.7 1078.7 L949.7 1078.9 L951.7 1079.2 L953.7 1079.4 L955.7 1079.7 L957.6 1079.9 L959.6 1080.1 L961.6 1080.4 L963.6 1080.6 L965.6 1080.8 L967.6 1081.0 L969.6 1081.3 L971.6 1081.5 L973.6 1081.7 L975.6 1081.9 L977.5 1082.1 L979.5 1082.3 L981.5 1082.6 L983.5 1082.8 L985.5 1083.0 L987.5 1083.2 L989.5 1083.4 L991.5 1083.6 L993.5 1083.8 L995.5 1084.0 L997.5 1084.2 L999.5 1084.4 L1001.5 1084.6 L1003.5 1084.8 L1005.4 1085.0 L1007.4 1085.2 L1009.4 1085.3 L1011.4 1085.5 L1013.4 1085.7 L1015.4 1085.9 L1017.4 1086.1 L1019.4 1086.3 L1021.4 1086.4 L1023.4 1086.6 L1025.4 1086.8 L1027.4 1087.0 L1029.4 1087.1 L1031.4 1087.3 L1033.4 1087.5 L1035.4 1087.7 L1037.4 1087.8 L1039.4 1088.0 L1041.4 1088.2 L1043.4 1088.3 L1045.4 1088.5 L1047.4 1088.6 L1049.4 1088.8 L1051.4 1089.0 L1053.4 1089.1 L1055.4 1089.3 L1057.4 1089.4 L1059.4 1089.6 L1061.4 1089.7 L1063.4 1089.9 L1065.4 1090.0 L1067.4 1090.2 L1069.4 1090.3 L1071.4 1090.5 L1073.4 1090.6 L1075.4 1090.8 L1077.4 1090.9 L1079.4 1091.1 L1081.4 1091.2 L1083.4 1091.3 L1085.4 1091.5 L1087.4 1091.6 L1089.4 1091.8 L1091.4 1091.9 L1093.4 1092.0 L1095.4 1092.2 L1097.4 1092.3 L1099.4 1092.4 L1101.4 1092.6 L1103.4 1092.7 L1105.4 1092.8 L1107.4 1093.0 L1109.4 1093.1 L1111.4 1093.2 L1113.4 1093.3 L1115.4 1093.5 L1117.4 1093.6 L1119.4 1093.7 L1121.4 1093.8 L1123.4 1094.0 L1125.4 1094.1 L1127.4 1094.2 L1129.4 1094.3 L1131.4 1094.4 L1133.4 1094.6 L1135.4 1094.7 L1137.4 1094.8 L1139.5 1094.9 L1141.5 1095.0 L1143.5 1095.1 L1145.5 1095.3 L1147.5 1095.4 L1149.5 1095.5 L1151.5 1095.6 L1153.5 1095.7 L1155.5 1095.8 L1157.5 1095.9 L1159.5 1096.0 L1161.5 1096.2 L1163.5 1096.3 L1165.5 1096.4 L1167.5 1096.5 L1169.5 1096.6 L1171.5 1096.7 L1173.5 1096.8 L1175.5 1096.9 L1177.5 1097.0 L1179.5 1097.1 L1181.5 1097.2 L1183.5 1097.3 L1185.5 1097.4 L1187.5 1097.5 L1189.5 1097.6 L1191.5 1097.7 L1193.5 1097.8 L1195.5 1097.9 L1197.5 1098.0 L1199.5 1098.1 L1201.5 1098.2 L1203.6 1098.3 L1205.6 1098.4 L1207.6 1098.5 L1209.6 1098.6 L1211.6 1098.7 L1213.6 1098.8 L1215.6 1098.9 L1217.6 1099.0 L1219.6 1099.1 L1221.6 1099.2 L1223.6 1099.3 L1225.6 1099.4 L1227.6 1099.5 L1229.6 1099.6 L1231.6 1099.7 L1233.6 1099.8 L1235.6 1099.9 L1237.6 1100.0 L1239.6 1100.0 L1241.6 1100.1 L1243.6 1100.2 L1245.6 1100.3 L1247.6 1100.4 L1249.6 1100.5 L1251.6 1100.6 L1253.6 1100.7 L1255.6 1100.7 L1257.6 1100.8 L1259.6 1100.9 L1261.6 1101.0 L1263.6 1101.1 L1265.6 1101.2 L1267.6 1101.2 L1269.6 1101.3 L1271.7 1101.4 L1273.7 1101.5 L1275.7 1101.6 L1277.7 1101.7 L1279.7 1101.7 L1281.7 1101.8 L1283.7 1101.9 L1285.7 1102.0 L1287.7 1102.1 L1289.7 1102.1 L1291.7 1102.2 L1293.7 1102.3 L1295.7 1102.4 L1297.7 1102.4 L1299.7 1102.5 L1301.7 1102.6 L1303.7 1102.7 L1305.7 1102.7 L1307.7 1102.8 L1309.7 1102.9 L1311.7 1103.0 L1313.7 1103.0 L1315.7 1103.1 L1317.7 1103.2 L1319.7 1103.2 L1321.7 1103.3 L1323.7 1103.4 L1325.7 1103.5 L1327.7 1103.5 L1329.7 1103.6 L1331.7 1103.7 L1333.7 1103.7 L1335.7 1103.8 L1337.7 1103.9 L1339.8 1103.9 L1341.8 1104.0 L1343.8 1104.1 L1345.8 1104.1 L1347.8 1104.2 L1349.8 1104.3 L1351.8 1104.3 L1353.8 1104.4 L1355.8 1104.5 L1357.8 1104.5 L1359.8 1104.6 L1361.8 1104.6 L1363.8 1104.7 L1365.8 1104.8 L1367.8 1104.8 L1369.8 1104.9 L1371.8 1104.9 L1373.8 1105.0 L1375.8 1105.1 L1377.8 1105.1 L1379.8 1105.2 L1381.8 1105.2 L1383.8 1105.3 L1385.8 1105.4 L1387.8 1105.4 L1389.8 1105.5 L1391.8 1105.5 L1393.8 1105.6 L1395.8 1105.6 L1397.8 1105.7 L1399.8 1105.7 L1401.8 1105.8 L1403.8 1105.9 L1405.8 1105.9 L1407.8 1106.0 L1409.9 1106.0 L1411.9 1106.1 L1413.9 1106.1 L1415.9 1106.2 L1417.9 1106.2 L1419.9 1106.3 L1421.9 1106.3 L1423.9 1106.4 L1425.9 1106.4 L1427.9 1106.5 L1429.9 1106.5 L1431.9 1106.6 L1433.9 1106.6 L1435.9 1106.7 L1437.9 1106.7 L1439.9 1106.8 L1441.9 1106.8 L1443.9 1106.8 L1445.9 1106.9 L1447.9 1106.9 L1449.9 1107.0 L1451.9 1107.0 L1453.9 1107.1 L1455.9 1107.1 L1457.9 1107.2 L1459.9 1107.2 L1461.9 1107.2 L1463.9 1107.3 L1465.9 1107.3 L1467.9 1107.4 L1469.9 1107.4 L1471.9 1107.5 L1473.9 1107.5 L1475.9 1107.5 L1477.9 1107.6 L1480.0 1107.6 L1482.0 1107.7 L1484.0 1107.7 L1486.0 1107.7 L1488.0 1107.8 L1490.0 1107.8 L1492.0 1107.9 L1494.0 1107.9 L1496.0 1107.9 L1498.0 1108.0 L1500.0 1108.0 L1502.0 1108.0 L1504.0 1108.1 L1506.0 1108.1 L1508.0 1108.1 L1510.0 1108.2 L1512.0 1108.2 L1514.0 1108.3 L1516.0 1108.3 L1518.0 1108.3 L1520.0 1108.4 L1522.0 1108.4 L1524.0 1108.4 L1526.0 1108.5 L1528.0 1108.5 L1530.0 1108.5 L1532.0 1108.5 L1534.0 1108.6 L1536.0 1108.6 L1538.0 1108.6 L1540.0 1108.7 L1542.0 1108.7 L1544.0 1108.7 L1546.0 1108.8 L1548.0 1108.8 L1550.1 1108.8 L1552.1 1108.8 L1554.1 1108.9 L1556.1 1108.9 L1558.1 1108.9 L1560.1 1109.0 L1562.1 1109.0 L1564.1 1109.0 L1566.1 1109.0 L1568.1 1109.1 L1570.1 1109.1 L1572.1 1109.1 L1574.1 1109.1 L1576.1 1109.2 L1578.1 1109.2 L1580.1 1109.2 L1582.1 1109.2 L1584.1 1109.3 L1586.1 1109.3 L1588.1 1109.3 L1590.1 1109.3 L1592.1 1109.4 L1594.1 1109.4 L1596.1 1109.4 L1598.1 1109.4 L1600.1 1109.5 L1602.1 1109.5 L1604.1 1109.5 L1606.1 1109.5 L1608.1 1109.5 L1610.1 1109.6 L1612.1 1109.6 L1614.1 1109.6 L1616.1 1109.6 L1618.1 1109.6 L1620.2 1109.7 L1622.2 1109.7 L1624.2 1109.7 L1626.2 1109.7 L1628.2 1109.7 L1630.2 1109.8 L1632.2 1109.8 L1634.2 1109.8 L1636.2 1109.8 L1638.2 1109.8 L1640.2 1109.9 L1642.2 1109.9 L1644.2 1109.9 L1646.2 1109.9 L1648.2 1109.9 L1650.2 1109.9 L1652.2 1110.0 L1654.2 1110.0 L1656.2 1110.0 L1658.2 1110.0 L1660.2 1110.0 L1662.2 1110.0 L1664.2 1110.0 L1666.2 1110.1 L1668.2 1110.1 L1670.2 1110.1 L1672.2 1110.1 L1674.2 1110.1 L1676.2 1110.1 L1678.2 1110.1 L1680.2 1110.2 L1682.2 1110.2 L1684.2 1110.2 L1686.2 1110.2 L1688.3 1110.2 L1690.3 1110.2 L1692.3 1110.2 L1694.3 1110.2 L1696.3 1110.3 L1698.3 1110.3 L1700.3 1110.3 L1702.3 1110.3 L1704.3 1110.3 L1706.3 1110.3 L1708.3 1110.3 L1710.3 1110.3 L1712.3 1110.3 L1714.3 1110.4 L1716.3 1110.4 L1718.3 1110.4 L1720.3 1110.4 L1722.3 1110.4 L1724.3 1110.4 L1726.3 1110.4 L1728.3 1110.4 L1730.3 1110.4 L1732.3 1110.4 L1734.3 1110.5 L1736.3 1110.5 L1738.3 1110.5 L1740.3 1110.5 L1742.3 1110.5 L1744.3 1110.5 L1746.3 1110.5 L1748.3 1110.5 L1750.3 1110.5 L1752.3 1110.5 L1754.4 1110.5 L1756.4 1110.5 L1758.4 1110.5 L1760.4 1110.5 L1762.4 1110.6 L1764.4 1110.6 L1766.4 1110.6 L1768.4 1110.6 L1770.4 1110.6 L1772.4 1110.6 L1774.4 1110.6 L1776.4 1110.6 L1778.4 1110.6 L1780.4 1110.6 L1782.4 1110.6 L1784.4 1110.6 L1786.4 1110.6 L1788.4 1110.6 L1790.4 1110.6 L1792.4 1110.6 L1794.4 1110.6 L1796.4 1110.6 L1798.4 1110.6 L1800.4 1110.6 L1802.4 1110.7 L1804.4 1110.7 L1806.4 1110.7 L1808.4 1110.7 L1810.4 1110.7 L1812.4 1110.7 L1814.4 1110.7 L1816.4 1110.7 L1818.4 1110.7 L1820.5 1110.7 L1822.5 1110.7 L1824.5 1110.7 L1826.5 1110.7 L1828.5 1110.7 L1830.5 1110.7 L1832.5 1110.7 L1834.5 1110.7 L1836.5 1110.7 L1838.5 1110.7 L1840.5 1110.7 L1842.5 1110.7 L1844.5 1110.7 L1846.5 1110.7 L1848.5 1110.7 L1850.5 1110.7 L1852.5 1110.7 L1854.5 1110.7 L1856.5 1110.7 L1858.5 1110.7 L1860.5 1110.7 L1862.5 1110.7 L1864.5 1110.7 L1866.5 1110.7 L1868.5 1110.7 L1870.5 1110.7 L1872.5 1110.7 L1874.5 1110.7 L1876.5 1110.7 L1878.5 1110.7 L1880.5 1110.7 L1882.6 1110.7 L1884.6 1110.7 L1886.6 1110.7 L1888.6 1110.7 L1890.6 1110.7 L1892.6 1110.7 L1894.6 1110.7 L1896.6 1110.7 L1898.6 1110.7 L1900.6 1110.7 L1902.6 1110.7 L1904.6 1110.7 L1906.6 1110.7 L1908.6 1110.7 L1910.6 1110.7 L1912.6 1110.7 L1914.6 1110.7 L1916.6 1110.7 L1918.6 1110.7 L1920.6 1110.7 L1922.6 1110.7 L1924.6 1110.7 L1926.6 1110.7 L1928.6 1110.7 L1930.6 1110.7 L1932.6 1110.7 L1934.6 1110.7 L1936.6 1110.7 L1938.6 1110.7 L1940.6 1110.7 L1942.7 1110.7 L1944.7 1110.7 L1946.7 1110.7 L1948.7 1110.7 L1950.7 1110.7 L1952.7 1110.7 L1954.7 1110.7 L1956.7 1110.7 L1958.7 1110.7 L1960.7 1110.7 L1962.7 1110.7 L1964.7 1110.7 L1966.7 1110.7 L1968.7 1110.7 L1970.7 1110.7 L1972.7 1110.7 L1974.7 1110.7 L1976.7 1110.7 L1978.7 1110.7 L1980.7 1110.7 L1982.7 1110.7 L1984.7 1110.7 L1986.7 1110.7 L1988.7 1110.7 L1990.7 1110.7 L1992.7 1110.7 L1994.7 1110.7 L1996.7 1110.7 L1998.8 1110.7 L2000.8 1110.7 L2002.8 1110.7 L2004.8 1110.7 L2006.8 1110.7 L2008.8 1110.7 L2010.8 1110.7 L2012.8 1110.7 L2014.8 1110.7 L2016.8 1110.7 L2018.8 1110.7 L2020.8 1110.7 L2022.8 1110.7 L2024.8 1110.7 L2026.8 1110.7 L2028.8 1110.7 L2030.8 1110.7 L2032.8 1110.7 L2034.8 1110.7 L2036.8 1110.7 L2038.8 1110.7 L2040.8 1110.7 L2042.8 1110.6 L2044.8 1110.6 L2046.8 1110.6 L2048.8 1110.6 L2050.8 1110.6 L2052.8 1110.6 L2054.9 1110.6 L2056.9 1110.6 L2058.9 1110.6 L2060.9 1110.6 L2062.9 1110.6 L2064.9 1110.6 L2066.9 1110.6 L2068.9 1110.6 L2070.9 1110.6 L2072.9 1110.6 L2074.9 1110.6 L2076.9 1110.7 L2078.9 1110.7 L2080.9 1110.7 L2082.9 1110.7 L2084.9 1110.7 L2086.9 1110.7 L2088.9 1110.7 L2090.9 1110.7 L2092.9 1110.7 L2094.9 1110.7 L2096.9 1110.7 L2098.9 1110.7 L2100.9 1110.7 L2102.9 1110.7 L2104.9 1110.7 L2107.0 1110.7 L2109.0 1110.7 L2111.0 1110.7 L2113.0 1110.7 L2115.0 1110.7 L2117.0 1110.7 L2119.0 1110.7 L2121.0 1110.7 L2123.0 1110.7 L2125.0 1110.7 L2127.0 1110.7 L2129.0 1110.7 L2131.0 1110.7 L2133.0 1110.7 L2135.0 1110.7 L2137.0 1110.7 L2139.0 1110.7 L2141.0 1110.7 L2143.0 1110.7 L2145.0 1110.7 L2147.0 1110.7 L2149.0 1110.7 L2151.0 1110.7 L2153.0 1110.7 L2155.0 1110.7 L2157.1 1110.7 L2159.1 1110.7 L2161.1 1110.8 L2163.1 1110.8 L2165.1 1110.8 L2167.1 1110.8 L2169.1 1110.8 L2171.1 1110.8 L2173.1 1110.8 L2175.1 1110.8 L2177.1 1110.8 L2179.1 1110.8 L2181.1 1110.8 L2183.1 1110.8 L2185.1 1110.8 L2187.1 1110.8 L2189.1 1110.8 L2191.1 1110.8 L2193.1 1110.8 L2195.1 1110.9 L2197.1 1110.9 L2199.1 1110.9 L2201.1 1110.9 L2203.1 1110.9 L2205.2 1110.9 L2207.2 1110.9 L2209.2 1110.9 L2211.2 1110.9 L2213.2 1110.9 L2215.2 1110.9 L2217.2 1110.9 L2219.2 1110.9 L2221.2 1111.0 L2223.2 1111.0 L2225.2 1111.0 L2227.2 1111.0 L2229.2 1111.0 L2231.2 1111.0 L2233.2 1111.0 L2235.2 1111.0 L2237.2 1111.0 L2239.2 1111.0 L2241.2 1111.1 L2243.2 1111.1 L2245.2 1111.1 L2247.2 1111.1 L2249.2 1111.1 L2251.3 1111.1 L2253.3 1111.1 L2255.3 1111.1 L2257.3 1111.1 L2259.3 1111.2 L2261.3 1111.2 L2263.3 1111.2 L2265.3 1111.2 L2267.3 1111.2 L2269.3 1111.2 L2271.3 1111.2 L2273.3 1111.3 L2275.3 1111.3 L2277.3 1111.3 L2279.3 1111.3 L2281.3 1111.3 L2283.3 1111.3 L2285.3 1111.3 L2287.3 1111.4 L2289.3 1111.4 L2291.3 1111.4 L2293.3 1111.4 L2295.4 1111.4 L2297.4 1111.4 L2299.4 1111.5 L2301.4 1111.5 L2303.4 1111.5 L2305.4 1111.5 L2307.4 1111.5 L2309.4 1111.5 L2311.4 1111.6 L2313.4 1111.6 L2315.4 1111.6 L2317.4 1111.6 L2319.4 1111.6 L2321.4 1111.7 L2323.4 1111.7 L2325.4 1111.7 L2327.4 1111.7 L2329.4 1111.7 L2331.4 1111.8 L2333.4 1111.8 L2335.4 1111.8 L2337.4 1111.8 L2339.5 1111.8 L2341.5 1111.9 L2343.5 1111.9 L2345.5 1111.9 L2347.5 1111.9 L2349.5 1111.9 L2351.5 1112.0 L2353.5 1112.0 L2355.5 1112.0 L2357.5 1112.0 L2359.5 1112.1 L2361.5 1112.1 L2363.5 1112.1 L2365.5 1112.0" stroke="#9718d4" />
<g fill="#9718d4" stroke="none"><circle cx="483.6" cy="1092.7" r="5.8"/><circle cx="496.5" cy="1043.7" r="5.8"/><circle cx="499.4" cy="1025.3" r="5.8"/><circle cx="504.4" cy="1003.7" r="5.8"/><circle cx="542.6" cy="968.1" r="5.8"/><circle cx="688.6" cy="1023.7" r="5.8"/><circle cx="746.8" cy="1041.0" r="5.8"/><circle cx="815.8" cy="1057.4" r="5.8"/><circle cx="866.3" cy="1066.9" r="5.8"/><circle cx="965.5" cy="1080.8" r="5.8"/><circle cx="1013.9" cy="1085.8" r="5.8"/><circle cx="1115.8" cy="1093.5" r="5.8"/><circle cx="1241.7" cy="1100.1" r="5.8"/><circle cx="1321.5" cy="1103.3" r="5.8"/><circle cx="1450.9" cy="1107.0" r="5.8"/><circle cx="1569.8" cy="1109.1" r="5.8"/><circle cx="1617.8" cy="1109.6" r="5.8"/><circle cx="1732.6" cy="1110.4" r="5.8"/><circle cx="1810.0" cy="1110.7" r="5.8"/><circle cx="1906.9" cy="1110.7" r="5.8"/><circle cx="1987.4" cy="1110.7" r="5.8"/><circle cx="2119.0" cy="1110.7" r="5.8"/><circle cx="2219.1" cy="1110.9" r="5.8"/><circle cx="2283.7" cy="1111.3" r="5.8"/></g>
</g>
<g fill="none" stroke="#000" stroke-width="4.1" stroke-linecap="round" stroke-linejoin="round">
<path d="M477 60.5 H2365.5 V1116.0 H477 Z"/>
<path d="M477 904.9 h32 M2365.5 904.9 h-32"/>
<path d="M477 693.8 h32 M2365.5 693.8 h-32"/>
<path d="M477 482.7 h32 M2365.5 482.7 h-32"/>
<path d="M477 271.6 h32 M2365.5 271.6 h-32"/>
</g>
<g style="font-family:'Liberation Sans',Arial,Helvetica,sans-serif;font-size:99px" fill="#000">
<text transform="translate(375.46 1127.80) scale(1 1.035)" x="0.00" fill="#000">0</text>
<text transform="translate(292.89 916.70) scale(1 1.035)" x="0.00 55.04 87.07" fill="#000" clip-path="url(#c1_0)">0.1</text>
<text transform="translate(292.89 705.60) scale(1 1.035)" x="0.00 55.04 82.57" fill="#000">0.2</text>
<text transform="translate(292.89 494.50) scale(1 1.035)" x="0.00 55.04 82.57" fill="#000">0.3</text>
<text transform="translate(292.89 283.40) scale(1 1.035)" x="0.00 55.04 82.57" fill="#000">0.4</text>
<text transform="translate(292.89 107.60) scale(1 1.035)" x="0.00 55.04 82.57" fill="#000">0.5</text>
<text transform="translate(449.48 1193.00) scale(1 1.035)" x="0.00" fill="#000">0</text>
<text transform="translate(921.60 1193.00) scale(1 1.035)" x="0.00" fill="#000">5</text>
<text transform="translate(1366.21 1193.00) scale(1 1.035)" x="4.50 55.04" fill="#000" clip-path="url(#c1_1)">10</text>
<text transform="translate(1838.33 1193.00) scale(1 1.035)" x="4.50 55.04" fill="#000" clip-path="url(#c1_2)">15</text>
<text transform="translate(2308.96 1193.00) scale(1 1.035)" x="0.00 55.04" fill="#000">20</text>
<text x="1422.5" y="1287.4" text-anchor="middle" style="font-size:100px">Time [ps]</text>
<text transform="translate(99 587.7) rotate(-90)" text-anchor="middle">Population</text>
<text x="508.4" y="137.5" style="font-size:100px">(a)</text>
</g>
<g fill="none" stroke-width="8.5" stroke-linecap="round">
<path d="M1606.4 360.4 H1745.8" stroke="#000000" />
<path d="M1606.4 428.6 H1745.8" stroke="#028011" stroke-dasharray="12.1 21.2"/>
<path d="M1606.4 496.8 H1745.8" stroke="#0000d2" stroke-dasharray="62.4 29.6 11.6 29.9"/>
<path d="M1606.4 565.0 H1745.8" stroke="#fe0808" />
<path d="M1606.4 633.2 H1745.8" stroke="#9718d4" />
</g>
<g style="font-family:'Liberation Sans',Arial,Helvetica,sans-serif;font-size:99px">
<text transform="translate(1761.20 394.20) scale(1 1.035)" x="0.00" fill="#000000">2</text>
<text transform="translate(1761.20 462.40) scale(1 1.035)" x="0.00" fill="#028011">4</text>
<text transform="translate(1761.20 530.60) scale(1 1.035)" x="0.00" fill="#0000d2">6</text>
<text transform="translate(1761.20 598.80) scale(1 1.035)" x="4.50 59.54" fill="#fe0808" clip-path="url(#c1_3)">11</text>
<text transform="translate(1761.20 667.00) scale(1 1.035)" x="4.50 55.04" fill="#9718d4" clip-path="url(#c1_4)">12</text>
</g>
<g>
<g fill="none" stroke-width="8.5" stroke-linecap="round" stroke-linejoin="round">
<path d="M477.0 2407.5 L479.1 2408.2 L481.1 2407.8 L483.1 2407.3 L485.1 2406.8 L487.1 2406.4 L489.0 2405.9 L491.0 2405.3 L492.9 2404.8 L494.8 2404.2 L496.8 2403.6 L498.7 2403.0 L500.6 2402.4 L502.4 2401.7 L504.3 2401.0 L506.2 2400.4 L508.1 2399.6 L509.9 2398.9 L511.7 2398.2 L513.6 2397.4 L515.4 2396.6 L517.2 2395.8 L519.0 2395.0 L520.8 2394.2 L522.6 2393.4 L524.4 2392.5 L526.2 2391.6 L528.0 2390.7 L529.7 2389.8 L531.5 2388.9 L533.2 2388.0 L535.0 2387.0 L536.7 2386.1 L538.4 2385.1 L540.2 2384.1 L541.9 2383.1 L543.6 2382.1 L545.3 2381.1 L547.0 2380.1 L548.7 2379.0 L550.4 2378.0 L552.1 2376.9 L553.8 2375.9 L555.4 2374.8 L557.1 2373.7 L558.8 2372.6 L560.4 2371.5 L562.1 2370.4 L563.7 2369.3 L565.4 2368.1 L567.0 2367.0 L568.6 2365.9 L570.3 2364.7 L571.9 2363.6 L573.5 2362.4 L575.2 2361.2 L576.8 2360.0 L578.4 2358.9 L580.0 2357.7 L581.6 2356.5 L583.2 2355.3 L584.8 2354.1 L586.4 2352.9 L588.0 2351.7 L589.6 2350.5 L591.2 2349.3 L592.8 2348.0 L594.4 2346.8 L596.0 2345.6 L597.6 2344.4 L599.1 2343.1 L600.7 2341.9 L602.3 2340.7 L603.9 2339.4 L605.5 2338.2 L607.0 2336.9 L608.6 2335.7 L610.2 2334.5 L611.8 2333.2 L613.3 2332.0 L614.9 2330.7 L616.5 2329.5 L618.1 2328.3 L619.6 2327.0 L621.2 2325.8 L622.8 2324.5 L624.4 2323.3 L625.9 2322.0 L627.5 2320.8 L629.1 2319.6 L630.6 2318.3 L632.2 2317.1 L633.8 2315.8 L635.3 2314.6 L636.9 2313.4 L638.5 2312.1 L640.1 2310.9 L641.6 2309.6 L643.2 2308.4 L644.8 2307.2 L646.3 2305.9 L647.9 2304.7 L649.5 2303.4 L651.0 2302.2 L652.6 2301.0 L654.2 2299.7 L655.7 2298.5 L657.3 2297.3 L658.9 2296.0 L660.5 2294.8 L662.0 2293.5 L663.6 2292.3 L665.2 2291.1 L666.7 2289.8 L668.3 2288.6 L669.9 2287.4 L671.5 2286.1 L673.0 2284.9 L674.6 2283.7 L676.2 2282.4 L677.8 2281.2 L679.3 2280.0 L680.9 2278.8 L682.5 2277.5 L684.1 2276.3 L685.6 2275.1 L687.2 2273.8 L688.8 2272.6 L690.4 2271.4 L691.9 2270.2 L693.5 2268.9 L695.1 2267.7 L696.7 2266.5 L698.3 2265.3 L699.8 2264.0 L701.4 2262.8 L703.0 2261.6 L704.6 2260.4 L706.2 2259.1 L707.8 2257.9 L709.3 2256.7 L710.9 2255.5 L712.5 2254.3 L714.1 2253.0 L715.7 2251.8 L717.3 2250.6 L718.9 2249.4 L720.4 2248.2 L722.0 2247.0 L723.6 2245.7 L725.2 2244.5 L726.8 2243.3 L728.4 2242.1 L730.0 2240.9 L731.6 2239.7 L733.2 2238.5 L734.8 2237.2 L736.4 2236.0 L738.0 2234.8 L739.5 2233.6 L741.1 2232.4 L742.7 2231.2 L744.3 2230.0 L745.9 2228.8 L747.5 2227.6 L749.1 2226.4 L750.7 2225.2 L752.3 2224.0 L753.9 2222.8 L755.5 2221.6 L757.1 2220.4 L758.7 2219.2 L760.3 2217.9 L761.9 2216.7 L763.5 2215.5 L765.1 2214.3 L766.7 2213.1 L768.3 2212.0 L770.0 2210.8 L771.6 2209.6 L773.2 2208.4 L774.8 2207.2 L776.4 2206.0 L778.0 2204.8 L779.6 2203.6 L781.2 2202.4 L782.8 2201.2 L784.4 2200.0 L786.0 2198.8 L787.6 2197.6 L789.3 2196.4 L790.9 2195.2 L792.5 2194.1 L794.1 2192.9 L795.7 2191.7 L797.3 2190.5 L798.9 2189.3 L800.6 2188.1 L802.2 2186.9 L803.8 2185.8 L805.4 2184.6 L807.0 2183.4 L808.6 2182.2 L810.3 2181.0 L811.9 2179.9 L813.5 2178.7 L815.1 2177.5 L816.8 2176.3 L818.4 2175.2 L820.0 2174.0 L821.6 2172.8 L823.2 2171.6 L824.9 2170.5 L826.5 2169.3 L828.1 2168.1 L829.7 2166.9 L831.4 2165.8 L833.0 2164.6 L834.6 2163.4 L836.3 2162.3 L837.9 2161.1 L839.5 2159.9 L841.1 2158.8 L842.8 2157.6 L844.4 2156.4 L846.0 2155.3 L847.7 2154.1 L849.3 2153.0 L850.9 2151.8 L852.6 2150.6 L854.2 2149.5 L855.8 2148.3 L857.5 2147.2 L859.1 2146.0 L860.8 2144.8 L862.4 2143.7 L864.0 2142.5 L865.7 2141.4 L867.3 2140.2 L869.0 2139.1 L870.6 2137.9 L872.2 2136.8 L873.9 2135.6 L875.5 2134.5 L877.2 2133.3 L878.8 2132.2 L880.5 2131.0 L882.1 2129.9 L883.8 2128.8 L885.4 2127.6 L887.0 2126.5 L888.7 2125.3 L890.3 2124.2 L892.0 2123.0 L893.6 2121.9 L895.3 2120.8 L896.9 2119.6 L898.6 2118.5 L900.2 2117.4 L901.9 2116.2 L903.6 2115.1 L905.2 2114.0 L906.9 2112.8 L908.5 2111.7 L910.2 2110.6 L911.8 2109.4 L913.5 2108.3 L915.1 2107.2 L916.8 2106.1 L918.5 2104.9 L920.1 2103.8 L921.8 2102.7 L923.4 2101.6 L925.1 2100.5 L926.8 2099.3 L928.4 2098.2 L930.1 2097.1 L931.8 2096.0 L933.4 2094.9 L935.1 2093.8 L936.8 2092.6 L938.4 2091.5 L940.1 2090.4 L941.8 2089.3 L943.4 2088.2 L945.1 2087.1 L946.8 2086.0 L948.4 2084.9 L950.1 2083.8 L951.8 2082.7 L953.5 2081.6 L955.1 2080.4 L956.8 2079.3 L958.5 2078.2 L960.1 2077.1 L961.8 2076.0 L963.5 2074.9 L965.2 2073.8 L966.9 2072.8 L968.5 2071.7 L970.2 2070.6 L971.9 2069.5 L973.6 2068.4 L975.3 2067.3 L976.9 2066.2 L978.6 2065.1 L980.3 2064.0 L982.0 2062.9 L983.7 2061.8 L985.4 2060.8 L987.0 2059.7 L988.7 2058.6 L990.4 2057.5 L992.1 2056.4 L993.8 2055.4 L995.5 2054.3 L997.2 2053.2 L998.9 2052.1 L1000.5 2051.1 L1002.2 2050.0 L1003.9 2048.9 L1005.6 2047.8 L1007.3 2046.8 L1009.0 2045.7 L1010.7 2044.6 L1012.4 2043.6 L1014.1 2042.5 L1015.8 2041.4 L1017.5 2040.4 L1019.2 2039.3 L1020.9 2038.2 L1022.6 2037.2 L1024.3 2036.1 L1026.0 2035.1 L1027.7 2034.0 L1029.4 2032.9 L1031.1 2031.9 L1032.8 2030.8 L1034.5 2029.8 L1036.2 2028.7 L1037.9 2027.7 L1039.6 2026.6 L1041.3 2025.6 L1043.0 2024.5 L1044.7 2023.5 L1046.5 2022.4 L1048.2 2021.4 L1049.9 2020.4 L1051.6 2019.3 L1053.3 2018.3 L1055.0 2017.2 L1056.7 2016.2 L1058.4 2015.2 L1060.1 2014.1 L1061.9 2013.1 L1063.6 2012.1 L1065.3 2011.0 L1067.0 2010.0 L1068.7 2009.0 L1070.5 2007.9 L1072.2 2006.9 L1073.9 2005.9 L1075.6 2004.9 L1077.3 2003.8 L1079.1 2002.8 L1080.8 2001.8 L1082.5 2000.8 L1084.2 1999.8 L1085.9 1998.7 L1087.7 1997.7 L1089.4 1996.7 L1091.1 1995.7 L1092.9 1994.7 L1094.6 1993.7 L1096.3 1992.7 L1098.0 1991.7 L1099.8 1990.7 L1101.5 1989.6 L1103.2 1988.6 L1105.0 1987.6 L1106.7 1986.6 L1108.4 1985.6 L1110.2 1984.6 L1111.9 1983.6 L1113.6 1982.6 L1115.4 1981.6 L1117.1 1980.6 L1118.9 1979.7 L1120.6 1978.7 L1122.3 1977.7 L1124.1 1976.7 L1125.8 1975.7 L1127.6 1974.7 L1129.3 1973.7 L1131.0 1972.7 L1132.8 1971.8 L1134.5 1970.8 L1136.3 1969.8 L1138.0 1968.8 L1139.8 1967.8 L1141.5 1966.9 L1143.3 1965.9 L1145.0 1964.9 L1146.8 1963.9 L1148.5 1963.0 L1150.3 1962.0 L1152.0 1961.0 L1153.8 1960.1 L1155.5 1959.1 L1157.3 1958.1 L1159.0 1957.2 L1160.8 1956.2 L1162.5 1955.3 L1164.3 1954.3 L1166.1 1953.3 L1167.8 1952.4 L1169.6 1951.4 L1171.3 1950.5 L1173.1 1949.5 L1174.9 1948.6 L1176.6 1947.6 L1178.4 1946.7 L1180.2 1945.7 L1181.9 1944.8 L1183.7 1943.8 L1185.5 1942.9 L1187.2 1942.0 L1189.0 1941.0 L1190.8 1940.1 L1192.5 1939.1 L1194.3 1938.2 L1196.1 1937.3 L1197.8 1936.3 L1199.6 1935.4 L1201.4 1934.5 L1203.2 1933.6 L1204.9 1932.6 L1206.7 1931.7 L1208.5 1930.8 L1210.3 1929.9 L1212.0 1928.9 L1213.8 1928.0 L1215.6 1927.1 L1217.4 1926.2 L1219.1 1925.3 L1220.9 1924.3 L1222.7 1923.4 L1224.5 1922.5 L1226.3 1921.6 L1228.1 1920.7 L1229.8 1919.8 L1231.6 1918.9 L1233.4 1918.0 L1235.2 1917.1 L1237.0 1916.2 L1238.8 1915.3 L1240.6 1914.4 L1242.3 1913.5 L1244.1 1912.6 L1245.9 1911.7 L1247.7 1910.8 L1249.5 1909.9 L1251.3 1909.0 L1253.1 1908.1 L1254.9 1907.2 L1256.7 1906.4 L1258.5 1905.5 L1260.3 1904.6 L1262.1 1903.7 L1263.9 1902.8 L1265.7 1902.0 L1267.5 1901.1 L1269.3 1900.2 L1271.1 1899.3 L1272.9 1898.4 L1274.7 1897.6 L1276.5 1896.7 L1278.3 1895.8 L1280.1 1895.0 L1281.9 1894.1 L1283.7 1893.2 L1285.5 1892.4 L1287.3 1891.5 L1289.1 1890.6 L1290.9 1889.8 L1292.7 1888.9 L1294.5 1888.1 L1296.3 1887.2 L1298.1 1886.4 L1300.0 1885.5 L1301.8 1884.7 L1303.6 1883.8 L1305.4 1883.0 L1307.2 1882.1 L1309.0 1881.3 L1310.8 1880.4 L1312.7 1879.6 L1314.5 1878.7 L1316.3 1877.9 L1318.1 1877.1 L1319.9 1876.2 L1321.7 1875.4 L1323.6 1874.6 L1325.4 1873.7 L1327.2 1872.9 L1329.0 1872.1 L1330.8 1871.2 L1332.7 1870.4 L1334.5 1869.6 L1336.3 1868.8 L1338.1 1867.9 L1340.0 1867.1 L1341.8 1866.3 L1343.6 1865.5 L1345.4 1864.7 L1347.3 1863.8 L1349.1 1863.0 L1350.9 1862.2 L1352.8 1861.4 L1354.6 1860.6 L1356.4 1859.8 L1358.3 1859.0 L1360.1 1858.2 L1361.9 1857.4 L1363.7 1856.6 L1365.6 1855.8 L1367.4 1855.0 L1369.3 1854.2 L1371.1 1853.4 L1372.9 1852.6 L1374.8 1851.8 L1376.6 1851.0 L1378.4 1850.2 L1380.3 1849.4 L1382.1 1848.6 L1384.0 1847.8 L1385.8 1847.0 L1387.6 1846.2 L1389.5 1845.5 L1391.3 1844.7 L1393.2 1843.9 L1395.0 1843.1 L1396.9 1842.3 L1398.7 1841.6 L1400.5 1840.8 L1402.4 1840.0 L1404.2 1839.2 L1406.1 1838.5 L1407.9 1837.7 L1409.8 1836.9 L1411.6 1836.2 L1413.5 1835.4 L1415.3 1834.6 L1417.2 1833.9 L1419.0 1833.1 L1420.9 1832.4 L1422.7 1831.6 L1424.6 1830.8 L1426.4 1830.1 L1428.3 1829.3 L1430.2 1828.6 L1432.0 1827.8 L1433.9 1827.1 L1435.7 1826.3 L1437.6 1825.6 L1439.4 1824.8 L1441.3 1824.1 L1443.2 1823.3 L1445.0 1822.6 L1446.9 1821.9 L1448.7 1821.1 L1450.6 1820.4 L1452.5 1819.7 L1454.3 1818.9 L1456.2 1818.2 L1458.1 1817.5 L1459.9 1816.7 L1461.8 1816.0 L1463.6 1815.3 L1465.5 1814.5 L1467.4 1813.8 L1469.2 1813.1 L1471.1 1812.4 L1473.0 1811.7 L1474.9 1810.9 L1476.7 1810.2 L1478.6 1809.5 L1480.5 1808.8 L1482.3 1808.1 L1484.2 1807.4 L1486.1 1806.7 L1487.9 1805.9 L1489.8 1805.2 L1491.7 1804.5 L1493.6 1803.8 L1495.4 1803.1 L1497.3 1802.4 L1499.2 1801.7 L1501.1 1801.0 L1502.9 1800.3 L1504.8 1799.6 L1506.7 1798.9 L1508.6 1798.2 L1510.5 1797.5 L1512.3 1796.9 L1514.2 1796.2 L1516.1 1795.5 L1518.0 1794.8 L1519.9 1794.1 L1521.7 1793.4 L1523.6 1792.7 L1525.5 1792.1 L1527.4 1791.4 L1529.3 1790.7 L1531.2 1790.0 L1533.1 1789.4 L1534.9 1788.7 L1536.8 1788.0 L1538.7 1787.3 L1540.6 1786.7 L1542.5 1786.0 L1544.4 1785.3 L1546.3 1784.7 L1548.2 1784.0 L1550.0 1783.3 L1551.9 1782.7 L1553.8 1782.0 L1555.7 1781.4 L1557.6 1780.7 L1559.5 1780.0 L1561.4 1779.4 L1563.3 1778.7 L1565.2 1778.1 L1567.1 1777.4 L1569.0 1776.8 L1570.9 1776.1 L1572.8 1775.5 L1574.7 1774.8 L1576.5 1774.2 L1578.4 1773.6 L1580.3 1772.9 L1582.2 1772.3 L1584.1 1771.6 L1586.0 1771.0 L1587.9 1770.4 L1589.8 1769.7 L1591.7 1769.1 L1593.6 1768.5 L1595.5 1767.8 L1597.4 1767.2 L1599.3 1766.6 L1601.2 1765.9 L1603.1 1765.3 L1605.0 1764.7 L1607.0 1764.1 L1608.9 1763.4 L1610.8 1762.8 L1612.7 1762.2 L1614.6 1761.6 L1616.5 1761.0 L1618.4 1760.3 L1620.3 1759.7 L1622.2 1759.1 L1624.1 1758.5 L1626.0 1757.9 L1627.9 1757.3 L1629.8 1756.7 L1631.7 1756.1 L1633.6 1755.5 L1635.6 1754.9 L1637.5 1754.2 L1639.4 1753.6 L1641.3 1753.0 L1643.2 1752.4 L1645.1 1751.8 L1647.0 1751.2 L1648.9 1750.6 L1650.8 1750.0 L1652.8 1749.4 L1654.7 1748.9 L1656.6 1748.3 L1658.5 1747.7 L1660.4 1747.1 L1662.3 1746.5 L1664.2 1745.9 L1666.2 1745.3 L1668.1 1744.7 L1670.0 1744.1 L1671.9 1743.6 L1673.8 1743.0 L1675.7 1742.4 L1677.7 1741.8 L1679.6 1741.2 L1681.5 1740.6 L1683.4 1740.1 L1685.3 1739.5 L1687.3 1738.9 L1689.2 1738.3 L1691.1 1737.8 L1693.0 1737.2 L1694.9 1736.6 L1696.9 1736.0 L1698.8 1735.5 L1700.7 1734.9 L1702.6 1734.3 L1704.5 1733.8 L1706.5 1733.2 L1708.4 1732.6 L1710.3 1732.1 L1712.2 1731.5 L1714.2 1731.0 L1716.1 1730.4 L1718.0 1729.8 L1719.9 1729.3 L1721.9 1728.7 L1723.8 1728.2 L1725.7 1727.6 L1727.6 1727.0 L1729.6 1726.5 L1731.5 1725.9 L1733.4 1725.4 L1735.3 1724.8 L1737.3 1724.3 L1739.2 1723.7 L1741.1 1723.2 L1743.0 1722.6 L1745.0 1722.1 L1746.9 1721.6 L1748.8 1721.0 L1750.8 1720.5 L1752.7 1719.9 L1754.6 1719.4 L1756.5 1718.8 L1758.5 1718.3 L1760.4 1717.8 L1762.3 1717.2 L1764.3 1716.7 L1766.2 1716.1 L1768.1 1715.6 L1770.1 1715.1 L1772.0 1714.5 L1773.9 1714.0 L1775.9 1713.5 L1777.8 1712.9 L1779.7 1712.4 L1781.7 1711.9 L1783.6 1711.4 L1785.5 1710.8 L1787.5 1710.3 L1789.4 1709.8 L1791.3 1709.2 L1793.3 1708.7 L1795.2 1708.2 L1797.1 1707.7 L1799.1 1707.2 L1801.0 1706.6 L1802.9 1706.1 L1804.9 1705.6 L1806.8 1705.1 L1808.7 1704.6 L1810.7 1704.0 L1812.6 1703.5 L1814.5 1703.0 L1816.5 1702.5 L1818.4 1702.0 L1820.3 1701.5 L1822.3 1700.9 L1824.2 1700.4 L1826.2 1699.9 L1828.1 1699.4 L1830.0 1698.9 L1832.0 1698.4 L1833.9 1697.9 L1835.8 1697.4 L1837.8 1696.9 L1839.7 1696.4 L1841.7 1695.9 L1843.6 1695.3 L1845.5 1694.8 L1847.5 1694.3 L1849.4 1693.8 L1851.4 1693.3 L1853.3 1692.8 L1855.2 1692.3 L1857.2 1691.8 L1859.1 1691.3 L1861.0 1690.8 L1863.0 1690.3 L1864.9 1689.8 L1866.9 1689.3 L1868.8 1688.8 L1870.8 1688.4 L1872.7 1687.9 L1874.6 1687.4 L1876.6 1686.9 L1878.5 1686.4 L1880.5 1685.9 L1882.4 1685.4 L1884.3 1684.9 L1886.3 1684.4 L1888.2 1683.9 L1890.2 1683.4 L1892.1 1683.0 L1894.0 1682.5 L1896.0 1682.0 L1897.9 1681.5 L1899.9 1681.0 L1901.8 1680.5 L1903.8 1680.1 L1905.7 1679.6 L1907.6 1679.1 L1909.6 1678.6 L1911.5 1678.1 L1913.5 1677.7 L1915.4 1677.2 L1917.4 1676.7 L1919.3 1676.2 L1921.3 1675.7 L1923.2 1675.3 L1925.1 1674.8 L1927.1 1674.3 L1929.0 1673.8 L1931.0 1673.4 L1932.9 1672.9 L1934.9 1672.4 L1936.8 1672.0 L1938.8 1671.5 L1940.7 1671.0 L1942.7 1670.6 L1944.6 1670.1 L1946.5 1669.6 L1948.5 1669.2 L1950.4 1668.7 L1952.4 1668.2 L1954.3 1667.8 L1956.3 1667.3 L1958.2 1666.9 L1960.2 1666.4 L1962.1 1665.9 L1964.1 1665.5 L1966.0 1665.0 L1968.0 1664.6 L1969.9 1664.1 L1971.9 1663.7 L1973.8 1663.2 L1975.8 1662.7 L1977.7 1662.3 L1979.7 1661.8 L1981.6 1661.4 L1983.6 1660.9 L1985.5 1660.5 L1987.5 1660.0 L1989.4 1659.6 L1991.4 1659.2 L1993.3 1658.7 L1995.3 1658.3 L1997.2 1657.8 L1999.2 1657.4 L2001.1 1656.9 L2003.1 1656.5 L2005.0 1656.0 L2007.0 1655.6 L2008.9 1655.2 L2010.9 1654.7 L2012.8 1654.3 L2014.8 1653.9 L2016.7 1653.4 L2018.7 1653.0 L2020.6 1652.6 L2022.6 1652.1 L2024.5 1651.7 L2026.5 1651.3 L2028.5 1650.8 L2030.4 1650.4 L2032.4 1650.0 L2034.3 1649.5 L2036.3 1649.1 L2038.2 1648.7 L2040.2 1648.3 L2042.1 1647.8 L2044.1 1647.4 L2046.0 1647.0 L2048.0 1646.6 L2050.0 1646.1 L2051.9 1645.7 L2053.9 1645.3 L2055.8 1644.9 L2057.8 1644.5 L2059.7 1644.1 L2061.7 1643.6 L2063.7 1643.2 L2065.6 1642.8 L2067.6 1642.4 L2069.5 1642.0 L2071.5 1641.6 L2073.4 1641.2 L2075.4 1640.8 L2077.4 1640.3 L2079.3 1639.9 L2081.3 1639.5 L2083.2 1639.1 L2085.2 1638.7 L2087.2 1638.3 L2089.1 1637.9 L2091.1 1637.5 L2093.0 1637.1 L2095.0 1636.7 L2097.0 1636.3 L2098.9 1635.9 L2100.9 1635.5 L2102.8 1635.1 L2104.8 1634.7 L2106.8 1634.3 L2108.7 1633.9 L2110.7 1633.5 L2112.7 1633.2 L2114.6 1632.8 L2116.6 1632.4 L2118.5 1632.0 L2120.5 1631.6 L2122.5 1631.2 L2124.4 1630.8 L2126.4 1630.4 L2128.4 1630.1 L2130.3 1629.7 L2132.3 1629.3 L2134.3 1628.9 L2136.2 1628.5 L2138.2 1628.2 L2140.2 1627.8 L2142.1 1627.4 L2144.1 1627.0 L2146.1 1626.6 L2148.0 1626.3 L2150.0 1625.9 L2152.0 1625.5 L2153.9 1625.2 L2155.9 1624.8 L2157.9 1624.4 L2159.8 1624.0 L2161.8 1623.7 L2163.8 1623.3 L2165.7 1623.0 L2167.7 1622.6 L2169.7 1622.2 L2171.6 1621.9 L2173.6 1621.5 L2175.6 1621.1 L2177.5 1620.8 L2179.5 1620.4 L2181.5 1620.1 L2183.4 1619.7 L2185.4 1619.4 L2187.4 1619.0 L2189.4 1618.6 L2191.3 1618.3 L2193.3 1617.9 L2195.3 1617.6 L2197.2 1617.2 L2199.2 1616.9 L2201.2 1616.5 L2203.2 1616.2 L2205.1 1615.9 L2207.1 1615.5 L2209.1 1615.2 L2211.1 1614.8 L2213.0 1614.5 L2215.0 1614.1 L2217.0 1613.8 L2219.0 1613.5 L2220.9 1613.1 L2222.9 1612.8 L2224.9 1612.5 L2226.9 1612.1 L2228.8 1611.8 L2230.8 1611.5 L2232.8 1611.1 L2234.8 1610.8 L2236.7 1610.5 L2238.7 1610.1 L2240.7 1609.8 L2242.7 1609.5 L2244.6 1609.2 L2246.6 1608.8 L2248.6 1608.5 L2250.6 1608.2 L2252.6 1607.9 L2254.5 1607.6 L2256.5 1607.2 L2258.5 1606.9 L2260.5 1606.6 L2262.4 1606.3 L2264.4 1606.0 L2266.4 1605.7 L2268.4 1605.4 L2270.4 1605.1 L2272.4 1604.7 L2274.3 1604.4 L2276.3 1604.1 L2278.3 1603.8 L2280.3 1603.5 L2282.3 1603.2 L2284.2 1602.9 L2286.2 1602.6 L2288.2 1602.3 L2290.2 1602.0 L2292.2 1601.7 L2294.2 1601.4 L2296.1 1601.1 L2298.1 1600.8 L2300.1 1600.5 L2302.1 1600.2 L2304.1 1599.9 L2306.1 1599.7 L2308.0 1599.4 L2310.0 1599.1 L2312.0 1598.8 L2314.0 1598.5 L2316.0 1598.2 L2318.0 1597.9 L2320.0 1597.7 L2322.0 1597.4 L2323.9 1597.1 L2325.9 1596.8 L2327.9 1596.5 L2329.9 1596.3 L2331.9 1596.0 L2333.9 1595.7 L2335.9 1595.4 L2337.9 1595.2 L2339.9 1594.9 L2341.8 1594.6 L2343.8 1594.4 L2345.8 1594.1 L2347.8 1593.8 L2349.8 1593.6 L2351.8 1593.3 L2353.8 1593.0 L2355.8 1592.8 L2357.8 1592.5 L2359.8 1592.2 L2361.8 1592.0 L2363.7 1591.7 L2365.5 1590.5" stroke="#000000" />
<g fill="#000000" stroke="none"><circle cx="488.0" cy="2406.1" r="5.8"/><circle cx="532.0" cy="2388.7" r="5.8"/><circle cx="616.2" cy="2329.8" r="5.8"/><circle cx="656.3" cy="2298.0" r="5.8"/><circle cx="689.0" cy="2272.5" r="5.8"/><circle cx="723.4" cy="2245.9" r="5.8"/><circle cx="746.1" cy="2228.7" r="5.8"/><circle cx="781.0" cy="2202.6" r="5.8"/><circle cx="827.9" cy="2168.3" r="5.8"/><circle cx="872.9" cy="2136.3" r="5.8"/><circle cx="915.2" cy="2107.2" r="5.8"/><circle cx="941.3" cy="2089.6" r="5.8"/><circle cx="988.7" cy="2058.6" r="5.8"/><circle cx="1035.6" cy="2029.1" r="5.8"/><circle cx="1064.0" cy="2011.8" r="5.8"/><circle cx="1105.6" cy="1987.3" r="5.8"/><circle cx="1147.0" cy="1963.8" r="5.8"/><circle cx="1199.4" cy="1935.5" r="5.8"/><circle cx="1274.9" cy="1897.5" r="5.8"/><circle cx="1333.5" cy="1870.0" r="5.8"/><circle cx="1462.4" cy="1815.7" r="5.8"/><circle cx="1601.0" cy="1766.0" r="5.8"/><circle cx="1685.1" cy="1739.6" r="5.8"/><circle cx="1766.6" cy="1716.0" r="5.8"/><circle cx="1823.5" cy="1700.6" r="5.8"/><circle cx="1877.2" cy="1686.7" r="5.8"/><circle cx="2007.6" cy="1655.5" r="5.8"/><circle cx="2125.0" cy="1630.7" r="5.8"/><circle cx="2176.0" cy="1621.1" r="5.8"/><circle cx="2279.5" cy="1603.6" r="5.8"/></g>
<path d="M477.0 2407.5 L478.4 2405.9 L480.3 2405.1 L482.1 2404.3 L484.0 2403.6 L485.8 2402.8 L487.7 2402.1 L489.6 2401.5 L491.5 2400.8 M528.8 2392.3 L530.4 2392.1 L532.4 2391.8 L534.4 2391.5 L536.4 2391.2 L538.4 2390.9 L540.3 2390.6 L542.3 2390.4 L544.3 2390.1 L546.3 2389.9 L548.3 2389.6 L550.3 2389.4 L552.2 2389.1 L554.2 2388.9 L556.2 2388.7 L558.2 2388.5 L558.6 2388.4 M594.7 2385.3 L596.0 2385.2 L598.0 2385.1 L600.0 2385.0 L602.0 2384.9 L604.0 2384.8 L606.0 2384.7 L608.0 2384.6 L610.0 2384.5 L612.0 2384.4 L614.0 2384.3 L616.0 2384.2 L618.0 2384.1 L620.0 2384.0 L622.0 2384.0 L624.0 2383.9 L624.6 2383.9 M660.6 2383.2 L662.0 2383.2 L664.0 2383.1 L666.0 2383.1 L668.0 2383.1 L670.0 2383.1 L672.0 2383.1 L674.0 2383.1 L676.0 2383.1 L678.0 2383.1 L680.0 2383.1 L682.0 2383.2 L684.0 2383.2 L686.0 2383.2 L688.0 2383.2 L690.0 2383.2 L690.6 2383.2 M726.6 2383.8 L728.1 2383.8 L730.1 2383.9 L732.1 2383.9 L734.2 2383.9 L736.2 2384.0 L738.2 2384.0 L740.2 2384.1 L742.2 2384.1 L744.2 2384.2 L746.2 2384.2 L748.2 2384.3 L750.2 2384.3 L752.2 2384.4 L754.2 2384.4 L756.2 2384.5 L756.5 2384.5 M792.5 2385.3 L794.3 2385.3 L796.4 2385.4 L798.4 2385.4 L800.4 2385.5 L802.4 2385.5 L804.4 2385.5 L806.4 2385.6 L808.4 2385.6 L810.4 2385.7 L812.4 2385.7 L814.4 2385.8 L816.4 2385.8 L818.4 2385.8 L820.4 2385.9 L822.4 2385.9 L822.5 2385.9 M858.5 2386.7 L858.5 2386.7 L860.5 2386.7 L862.6 2386.7 L864.6 2386.8 L866.6 2386.8 L868.6 2386.9 L870.6 2386.9 L872.6 2386.9 L874.6 2387.0 L876.6 2387.0 L878.6 2387.1 L880.6 2387.1 L882.6 2387.1 L884.6 2387.2 L886.6 2387.2 L888.4 2387.2 M924.4 2387.9 L924.7 2387.9 L926.7 2387.9 L928.7 2388.0 L930.7 2388.0 L932.7 2388.1 L934.8 2388.1 L936.8 2388.1 L938.8 2388.2 L940.8 2388.2 L942.8 2388.2 L944.8 2388.3 L946.8 2388.3 L948.8 2388.3 L950.8 2388.4 L952.8 2388.4 L954.4 2388.4 M990.4 2389.0 L990.9 2389.0 L992.9 2389.1 L994.9 2389.1 L996.9 2389.1 L998.9 2389.2 L1000.9 2389.2 L1002.9 2389.2 L1004.9 2389.2 L1006.9 2389.3 L1008.9 2389.3 L1010.9 2389.3 L1013.0 2389.4 L1015.0 2389.4 L1017.0 2389.4 L1019.0 2389.5 L1020.3 2389.5 M1056.3 2390.0 L1057.1 2390.0 L1059.1 2390.0 L1061.1 2390.1 L1063.1 2390.1 L1065.1 2390.1 L1067.1 2390.2 L1069.1 2390.2 L1071.1 2390.2 L1073.1 2390.2 L1075.1 2390.3 L1077.1 2390.3 L1079.1 2390.3 L1081.1 2390.4 L1083.1 2390.4 L1085.1 2390.4 L1086.3 2390.4 M1122.3 2390.9 L1123.2 2390.9 L1125.2 2390.9 L1127.2 2391.0 L1129.2 2391.0 L1131.2 2391.0 L1133.2 2391.0 L1135.2 2391.1 L1137.2 2391.1 L1139.2 2391.1 L1141.2 2391.1 L1143.2 2391.1 L1145.2 2391.2 L1147.3 2391.2 L1149.3 2391.2 L1151.3 2391.2 L1152.2 2391.3 M1188.2 2391.7 L1189.3 2391.7 L1191.3 2391.7 L1193.3 2391.7 L1195.3 2391.8 L1197.4 2391.8 L1199.4 2391.8 L1201.4 2391.8 L1203.4 2391.8 L1205.4 2391.9 L1207.4 2391.9 L1209.4 2391.9 L1211.4 2391.9 L1213.4 2391.9 L1215.4 2392.0 L1217.4 2392.0 L1218.2 2392.0 M1254.2 2392.4 L1255.5 2392.4 L1257.5 2392.4 L1259.5 2392.4 L1261.5 2392.4 L1263.5 2392.5 L1265.5 2392.5 L1267.5 2392.5 L1269.5 2392.5 L1271.5 2392.5 L1273.5 2392.6 L1275.5 2392.6 L1277.5 2392.6 L1279.5 2392.6 L1281.5 2392.6 L1283.5 2392.6 L1284.1 2392.7 M1320.1 2393.0 L1321.6 2393.0 L1323.6 2393.0 L1325.6 2393.0 L1327.6 2393.0 L1329.6 2393.1 L1331.6 2393.1 L1333.6 2393.1 L1335.6 2393.1 L1337.6 2393.1 L1339.6 2393.1 L1341.6 2393.2 L1343.6 2393.2 L1345.6 2393.2 L1347.6 2393.2 L1349.6 2393.2 L1350.1 2393.2 M1386.1 2393.5 L1387.7 2393.5 L1389.7 2393.5 L1391.7 2393.6 L1393.7 2393.6 L1395.7 2393.6 L1397.7 2393.6 L1399.7 2393.6 L1401.7 2393.6 L1403.7 2393.7 L1405.7 2393.7 L1407.7 2393.7 L1409.7 2393.7 L1411.7 2393.7 L1413.7 2393.7 L1415.7 2393.7 L1416.0 2393.7 M1452.0 2394.0 L1453.8 2394.0 L1455.8 2394.0 L1457.8 2394.0 L1459.8 2394.1 L1461.8 2394.1 L1463.8 2394.1 L1465.8 2394.1 L1467.8 2394.1 L1469.8 2394.1 L1471.8 2394.1 L1473.8 2394.1 L1475.8 2394.2 L1477.8 2394.2 L1479.8 2394.2 L1481.8 2394.2 L1482.0 2394.2 M1518.0 2394.4 L1519.9 2394.4 L1521.9 2394.5 L1523.9 2394.5 L1525.9 2394.5 L1527.9 2394.5 L1529.9 2394.5 L1531.9 2394.5 L1533.9 2394.5 L1535.9 2394.5 L1537.9 2394.6 L1539.9 2394.6 L1541.9 2394.6 L1543.9 2394.6 L1545.9 2394.6 L1547.9 2394.6 L1547.9 2394.6 M1583.9 2394.8 L1584.0 2394.8 L1586.0 2394.8 L1588.0 2394.8 L1590.0 2394.9 L1592.0 2394.9 L1594.0 2394.9 L1596.0 2394.9 L1598.0 2394.9 L1600.0 2394.9 L1602.0 2394.9 L1604.0 2394.9 L1606.0 2394.9 L1608.0 2395.0 L1610.0 2395.0 L1612.0 2395.0 L1613.9 2395.0 M1649.9 2395.2 L1650.1 2395.2 L1652.1 2395.2 L1654.1 2395.2 L1656.1 2395.2 L1658.1 2395.2 L1660.1 2395.2 L1662.1 2395.3 L1664.1 2395.3 L1666.1 2395.3 L1668.1 2395.3 L1670.1 2395.3 L1672.1 2395.3 L1674.1 2395.3 L1676.1 2395.3 L1678.1 2395.3 L1679.8 2395.3 M1715.8 2395.5 L1716.2 2395.5 L1718.2 2395.5 L1720.2 2395.6 L1722.2 2395.6 L1724.2 2395.6 L1726.2 2395.6 L1728.2 2395.6 L1730.2 2395.6 L1732.2 2395.6 L1734.2 2395.6 L1736.2 2395.6 L1738.2 2395.6 L1740.2 2395.7 L1742.2 2395.7 L1744.2 2395.7 L1745.8 2395.7 M1781.8 2395.9 L1782.3 2395.9 L1784.3 2395.9 L1786.3 2395.9 L1788.3 2395.9 L1790.3 2395.9 L1792.3 2395.9 L1794.3 2395.9 L1796.3 2395.9 L1798.3 2395.9 L1800.3 2396.0 L1802.3 2396.0 L1804.3 2396.0 L1806.3 2396.0 L1808.3 2396.0 L1810.3 2396.0 L1811.7 2396.0 M1847.7 2396.2 L1848.4 2396.2 L1850.4 2396.2 L1852.4 2396.2 L1854.4 2396.2 L1856.4 2396.2 L1858.4 2396.3 L1860.4 2396.3 L1862.4 2396.3 L1864.4 2396.3 L1866.4 2396.3 L1868.4 2396.3 L1870.4 2396.3 L1872.4 2396.3 L1874.4 2396.3 L1876.4 2396.3 L1877.7 2396.4 M1913.7 2396.5 L1914.5 2396.5 L1916.5 2396.6 L1918.5 2396.6 L1920.5 2396.6 L1922.5 2396.6 L1924.5 2396.6 L1926.5 2396.6 L1928.5 2396.6 L1930.5 2396.6 L1932.5 2396.6 L1934.5 2396.7 L1936.6 2396.7 L1938.6 2396.7 L1940.6 2396.7 L1942.6 2396.7 L1943.6 2396.7 M1979.6 2396.9 L1980.6 2396.9 L1982.6 2396.9 L1984.6 2396.9 L1986.6 2397.0 L1988.6 2397.0 L1990.6 2397.0 L1992.7 2397.0 L1994.7 2397.0 L1996.7 2397.0 L1998.7 2397.0 L2000.7 2397.0 L2002.7 2397.0 L2004.7 2397.1 L2006.7 2397.1 L2008.7 2397.1 L2009.6 2397.1 M2045.6 2397.3 L2046.8 2397.3 L2048.8 2397.3 L2050.8 2397.3 L2052.8 2397.4 L2054.8 2397.4 L2056.8 2397.4 L2058.8 2397.4 L2060.8 2397.4 L2062.8 2397.4 L2064.8 2397.4 L2066.8 2397.4 L2068.8 2397.5 L2070.8 2397.5 L2072.8 2397.5 L2074.8 2397.5 L2075.5 2397.5 M2111.5 2397.8 L2112.9 2397.8 L2114.9 2397.8 L2116.9 2397.8 L2118.9 2397.8 L2120.9 2397.8 L2122.9 2397.8 L2124.9 2397.8 L2126.9 2397.9 L2128.9 2397.9 L2130.9 2397.9 L2132.9 2397.9 L2134.9 2397.9 L2136.9 2397.9 L2138.9 2397.9 L2141.0 2398.0 L2141.5 2398.0 M2177.5 2398.2 L2179.0 2398.3 L2181.0 2398.3 L2183.0 2398.3 L2185.0 2398.3 L2187.1 2398.3 L2189.1 2398.3 L2191.1 2398.4 L2193.1 2398.4 L2195.1 2398.4 L2197.1 2398.4 L2199.1 2398.4 L2201.1 2398.4 L2203.1 2398.4 L2205.1 2398.5 L2207.1 2398.5 L2207.4 2398.5 M2243.4 2398.8 L2245.2 2398.8 L2247.2 2398.8 L2249.2 2398.8 L2251.2 2398.9 L2253.2 2398.9 L2255.2 2398.9 L2257.2 2398.9 L2259.2 2398.9 L2261.2 2399.0 L2263.2 2399.0 L2265.2 2399.0 L2267.2 2399.0 L2269.3 2399.0 L2271.3 2399.1 L2273.3 2399.1 L2273.4 2399.1 M2309.4 2399.4 L2309.4 2399.4 L2311.4 2399.4 L2313.4 2399.5 L2315.4 2399.5 L2317.4 2399.5 L2319.4 2399.5 L2321.4 2399.5 L2323.4 2399.6 L2325.4 2399.6 L2327.4 2399.6 L2329.4 2399.6 L2331.4 2399.6 L2333.4 2399.7 L2335.4 2399.7 L2337.4 2399.7 L2339.3 2399.7 M477.0 2407.5 L478.4 2405.9 L480.3 2405.1 L482.1 2404.3 L484.0 2403.6 L485.8 2402.8 L487.7 2402.1 L489.6 2401.5 L491.5 2400.8 L493.4 2400.2 L495.3 2399.6 L497.2 2399.0 L499.1 2398.5" stroke="#028011"/>
<path d="M477.0 2407.5 L477.3 2406.0 L477.7 2403.9 L478.0 2401.9 L478.4 2399.9 L478.8 2397.9 L479.2 2395.9 L479.6 2393.9 L480.0 2391.9 L480.4 2389.9 L480.7 2387.9 L481.1 2385.9 L481.5 2383.9 L481.9 2381.9 L482.3 2379.9 L482.7 2377.9 L483.1 2375.9 L483.4 2373.9 L483.8 2371.9 L484.2 2369.9 L484.6 2368.0 L485.0 2366.0 L485.4 2364.0 L485.8 2362.0 L486.1 2360.0 L486.4 2358.7 M492.2 2329.4 L492.4 2328.4 L492.8 2326.4 L493.2 2324.4 L493.6 2322.4 L493.9 2321.0 M500.2 2290.6 L500.5 2289.1 L500.9 2287.2 L501.3 2285.2 L501.7 2283.3 L502.2 2281.3 L502.6 2279.4 L503.0 2277.4 L503.4 2275.5 L503.9 2273.5 L504.3 2271.6 L504.7 2269.7 L505.1 2267.7 L505.6 2265.8 L506.0 2263.8 L506.4 2261.9 L506.9 2259.9 L507.3 2258.0 L507.8 2256.1 L508.2 2254.1 L508.6 2252.2 L509.1 2250.3 L509.5 2248.3 L510.0 2246.4 L510.4 2244.5 L510.9 2242.5 L511.3 2240.6 L511.6 2239.3 M518.8 2210.3 L518.9 2209.8 L519.4 2207.9 L519.9 2206.0 L520.4 2204.1 L520.9 2202.1 L520.9 2202.0 M529.1 2172.0 L529.2 2171.6 L529.7 2169.7 L530.3 2167.8 L530.8 2165.9 L531.3 2164.0 L531.9 2162.1 L532.5 2160.2 L533.0 2158.3 L533.6 2156.4 L534.1 2154.5 L534.7 2152.6 L535.3 2150.7 L535.9 2148.8 L536.4 2146.9 L537.0 2145.0 L537.6 2143.1 L538.2 2141.2 L538.8 2139.3 L539.4 2137.4 L540.0 2135.5 L540.6 2133.6 L541.2 2131.7 L541.8 2129.8 L542.4 2128.0 L542.8 2126.6 M551.8 2100.1 L552.0 2099.7 L552.6 2097.8 L553.3 2095.9 L554.0 2094.0 L554.2 2093.3 M564.6 2066.1 L564.6 2065.9 L565.3 2064.0 L566.1 2062.2 L566.8 2060.3 L567.6 2058.4 L568.4 2056.6 L569.1 2054.7 L569.9 2052.8 L570.7 2051.0 L571.4 2049.1 L572.2 2047.2 L573.0 2045.4 L573.8 2043.5 L574.6 2041.6 L575.4 2039.8 L576.2 2037.9 L577.0 2036.0 L577.8 2034.2 L578.6 2032.3 L579.4 2030.4 L580.3 2028.6 L581.1 2026.7 L581.9 2024.9 L582.1 2024.6 M593.7 2000.0 L594.2 1999.0 L595.1 1997.1 L596.0 1995.3 L596.6 1994.2 M610.1 1969.3 L610.7 1968.4 L611.7 1966.6 L612.7 1964.9 L613.8 1963.1 L614.8 1961.4 L615.9 1959.6 L616.9 1957.9 L618.0 1956.2 L619.1 1954.5 L620.2 1952.8 L621.3 1951.1 L622.4 1949.4 L623.5 1947.7 L624.6 1946.0 L625.8 1944.3 L626.9 1942.6 L628.0 1941.0 L629.2 1939.3 L630.3 1937.7 L631.4 1936.2 M646.9 1916.2 L647.5 1915.5 L648.8 1914.0 L650.1 1912.5 L650.1 1912.5 M668.3 1893.6 L669.3 1892.6 L670.8 1891.3 L672.2 1890.0 L673.7 1888.7 L675.2 1887.4 L676.7 1886.1 L678.2 1884.8 L679.7 1883.6 L681.2 1882.3 L682.7 1881.1 L684.3 1879.9 L685.8 1878.7 L687.4 1877.5 L689.0 1876.3 L690.6 1875.2 L692.2 1874.0 L693.8 1872.9 L695.4 1871.8 L697.1 1870.6 L698.7 1869.6 L700.4 1868.5 L700.6 1868.3 M723.2 1855.8 L724.7 1855.1 L726.5 1854.2 L728.0 1853.5 M753.2 1844.1 L754.4 1843.7 L756.3 1843.2 L758.2 1842.6 L760.2 1842.1 L762.1 1841.6 L764.0 1841.1 L765.9 1840.7 L767.9 1840.2 L769.8 1839.8 L771.8 1839.4 L773.7 1839.0 L775.6 1838.6 L777.6 1838.3 L779.5 1837.9 L781.5 1837.6 L783.5 1837.3 L785.4 1837.1 L787.4 1836.8 L789.3 1836.6 L791.3 1836.4 L793.3 1836.2 L795.2 1836.0 L797.2 1835.9 L799.1 1835.8 L801.1 1835.7 L803.1 1835.6 L805.0 1835.5 L805.4 1835.5 M835.4 1836.8 L836.5 1837.0 L838.4 1837.2 L840.4 1837.4 L842.3 1837.7 L844.1 1837.9 M874.8 1843.8 L875.6 1844.0 L877.6 1844.5 L879.5 1845.0 L881.5 1845.4 L883.4 1845.9 L885.4 1846.4 L887.3 1847.0 L889.3 1847.5 L891.2 1848.0 L893.2 1848.5 L895.1 1849.1 L897.1 1849.6 L899.0 1850.1 L901.0 1850.7 L902.9 1851.3 L904.9 1851.8 L906.8 1852.4 L908.7 1853.0 L910.7 1853.5 L912.6 1854.1 L914.6 1854.7 L916.5 1855.3 L918.4 1855.9 L918.8 1856.0 M945.0 1864.3 L945.4 1864.4 L947.3 1865.0 L949.2 1865.6 L951.2 1866.3 L951.4 1866.3 M978.4 1875.5 L979.8 1875.9 L981.7 1876.6 L983.6 1877.3 L985.5 1877.9 L987.4 1878.6 L989.3 1879.3 L991.2 1879.9 L993.1 1880.6 L995.0 1881.3 L996.9 1882.0 L998.8 1882.6 L1000.7 1883.3 L1002.6 1884.0 L1004.4 1884.7 L1006.3 1885.4 L1008.2 1886.1 L1010.1 1886.8 L1012.0 1887.4 L1013.9 1888.1 L1015.8 1888.8 L1017.7 1889.5 L1018.4 1889.8 M1043.1 1899.1 L1044.0 1899.4 L1045.8 1900.1 L1047.7 1900.9 L1048.5 1901.2 M1074.0 1911.1 L1075.7 1911.8 L1077.6 1912.6 L1079.5 1913.3 L1081.3 1914.1 L1083.2 1914.8 L1085.1 1915.5 L1086.9 1916.3 L1088.8 1917.0 L1090.6 1917.8 L1092.5 1918.5 L1094.4 1919.3 L1096.2 1920.0 L1098.1 1920.8 L1099.9 1921.6 L1101.8 1922.3 L1103.6 1923.1 L1105.5 1923.8 L1107.3 1924.6 L1109.2 1925.3 L1111.1 1926.1 L1112.9 1926.9 L1114.0 1927.3 M1138.6 1937.5 L1138.8 1937.6 L1140.7 1938.4 L1142.5 1939.2 L1144.1 1939.8 M1169.5 1950.6 L1170.2 1950.8 L1172.0 1951.6 L1173.9 1952.4 L1175.7 1953.2 L1177.5 1954.0 L1179.4 1954.8 L1181.2 1955.5 L1183.1 1956.3 L1184.9 1957.1 L1186.7 1957.9 L1188.6 1958.7 L1190.4 1959.5 L1192.3 1960.3 L1194.1 1961.1 L1195.9 1961.8 L1197.8 1962.6 L1199.6 1963.4 L1201.5 1964.2 L1203.3 1965.0 L1205.1 1965.8 L1207.0 1966.6 L1208.8 1967.4 L1209.6 1967.7 M1234.1 1978.3 L1234.5 1978.4 L1236.4 1979.2 L1238.2 1980.0 L1239.7 1980.7 M1265.2 1991.6 L1265.8 1991.9 L1267.6 1992.6 L1269.4 1993.4 L1271.3 1994.2 L1273.1 1995.0 L1274.9 1995.8 L1276.8 1996.6 L1278.6 1997.4 L1280.5 1998.2 L1282.3 1998.9 L1284.1 1999.7 L1286.0 2000.5 L1287.8 2001.3 L1289.6 2002.1 L1291.5 2002.9 L1293.3 2003.6 L1295.2 2004.4 L1297.0 2005.2 L1298.8 2006.0 L1300.7 2006.8 L1302.5 2007.6 L1304.4 2008.3 L1305.4 2008.8 M1330.1 2019.1 L1330.2 2019.2 L1332.0 2019.9 L1333.8 2020.7 L1335.7 2021.5 L1335.7 2021.5 M1361.4 2032.1 L1361.5 2032.1 L1363.4 2032.9 L1365.2 2033.7 L1367.1 2034.4 L1368.9 2035.2 L1370.8 2035.9 L1372.7 2036.7 L1374.5 2037.4 L1376.4 2038.1 L1378.2 2038.9 L1380.1 2039.6 L1381.9 2040.4 L1383.8 2041.1 L1385.6 2041.9 L1387.5 2042.6 L1389.3 2043.3 L1391.2 2044.1 L1393.1 2044.8 L1394.9 2045.6 L1396.8 2046.3 L1398.6 2047.0 L1400.5 2047.7 L1402.4 2048.5 L1403.6 2049.0 M1429.1 2058.8 L1430.3 2059.3 L1432.2 2060.0 L1434.1 2060.7 L1435.3 2061.2 M1462.0 2071.1 L1462.2 2071.1 L1464.0 2071.8 L1465.9 2072.5 L1467.8 2073.2 L1469.7 2073.9 L1471.6 2074.5 L1473.4 2075.2 L1475.3 2075.9 L1477.2 2076.6 L1479.1 2077.3 L1481.0 2077.9 L1482.8 2078.6 L1484.7 2079.3 L1486.6 2080.0 L1488.5 2080.6 L1490.4 2081.3 L1492.3 2082.0 L1494.2 2082.6 L1496.0 2083.3 L1497.9 2084.0 L1499.8 2084.6 L1501.7 2085.3 L1503.6 2085.9 L1504.1 2086.1 M1529.7 2094.9 L1530.1 2095.1 L1532.0 2095.7 L1533.9 2096.3 L1535.8 2097.0 L1535.8 2097.0 M1562.5 2105.9 L1564.3 2106.4 L1566.2 2107.0 L1568.1 2107.7 L1570.0 2108.3 L1571.9 2108.9 L1573.8 2109.5 L1575.7 2110.1 L1577.6 2110.7 L1579.5 2111.3 L1581.4 2112.0 L1583.3 2112.6 L1585.2 2113.2 L1587.1 2113.8 L1589.0 2114.4 L1590.9 2115.0 L1592.8 2115.6 L1594.7 2116.2 L1596.7 2116.8 L1598.6 2117.4 L1600.5 2118.0 L1602.4 2118.6 L1604.3 2119.2 L1606.2 2119.8 L1606.7 2119.9 M1633.2 2128.1 L1634.9 2128.6 L1636.9 2129.2 L1638.8 2129.8 L1639.8 2130.0 M1667.4 2138.2 L1667.6 2138.3 L1669.5 2138.8 L1671.4 2139.4 L1673.4 2139.9 L1675.3 2140.5 L1677.2 2141.1 L1679.1 2141.6 L1681.1 2142.2 L1683.0 2142.7 L1684.9 2143.3 L1686.9 2143.8 L1688.8 2144.4 L1690.7 2144.9 L1692.6 2145.5 L1694.6 2146.0 L1696.5 2146.5 L1698.4 2147.1 L1700.4 2147.6 L1702.3 2148.2 L1704.2 2148.7 L1706.2 2149.3 L1708.1 2149.8 L1710.0 2150.3 L1711.7 2150.8 M1738.4 2158.1 L1739.0 2158.3 L1741.0 2158.8 L1742.9 2159.3 L1744.8 2159.8 L1744.9 2159.8 M1772.7 2167.2 L1773.9 2167.5 L1775.9 2168.0 L1777.8 2168.5 L1779.8 2169.0 L1781.7 2169.5 L1783.6 2170.0 L1785.6 2170.5 L1787.5 2171.0 L1789.5 2171.5 L1791.4 2172.0 L1793.4 2172.4 L1795.3 2172.9 L1797.3 2173.4 L1799.2 2173.9 L1801.1 2174.4 L1803.1 2174.9 L1805.0 2175.4 L1807.0 2175.9 L1808.9 2176.4 L1810.9 2176.8 L1812.8 2177.3 L1814.8 2177.8 L1816.7 2178.3 L1818.7 2178.8 L1819.9 2179.1 M1847.6 2185.8 L1847.9 2185.9 L1849.9 2186.3 L1851.8 2186.8 L1853.8 2187.3 L1855.0 2187.6 M1883.8 2194.3 L1885.0 2194.6 L1887.0 2195.0 L1888.9 2195.5 L1890.9 2195.9 L1892.9 2196.4 L1894.8 2196.8 L1896.8 2197.3 L1898.7 2197.7 L1900.7 2198.1 L1902.6 2198.6 L1904.6 2199.0 L1906.6 2199.5 L1908.5 2199.9 L1910.5 2200.3 L1912.4 2200.8 L1914.4 2201.2 L1916.3 2201.7 L1918.3 2202.1 L1920.3 2202.5 L1922.2 2203.0 L1924.2 2203.4 L1926.1 2203.8 L1928.1 2204.2 L1930.1 2204.7 L1931.1 2204.9 M1958.9 2210.9 L1959.5 2211.0 L1961.4 2211.4 L1963.4 2211.9 L1965.4 2212.3 L1966.1 2212.4 M1995.1 2218.4 L1996.8 2218.8 L1998.8 2219.2 L2000.7 2219.6 L2002.7 2220.0 L2004.7 2220.4 L2006.6 2220.8 L2008.6 2221.2 L2010.6 2221.6 L2012.5 2222.0 L2014.5 2222.4 L2016.5 2222.8 L2018.4 2223.2 L2020.4 2223.6 L2022.4 2224.0 L2024.3 2224.3 L2026.3 2224.7 L2028.3 2225.1 L2030.2 2225.5 L2032.2 2225.9 L2034.2 2226.3 L2036.1 2226.7 L2038.1 2227.1 L2040.1 2227.4 L2042.0 2227.8 L2042.2 2227.9 M2070.0 2233.2 L2071.6 2233.5 L2073.5 2233.9 L2075.5 2234.3 L2077.2 2234.6 M2106.2 2240.0 L2107.0 2240.1 L2109.0 2240.5 L2110.9 2240.8 L2112.9 2241.2 L2114.9 2241.5 L2116.9 2241.9 L2118.8 2242.3 L2120.8 2242.6 L2122.8 2243.0 L2124.7 2243.3 L2126.7 2243.7 L2128.7 2244.0 L2130.6 2244.4 L2132.6 2244.7 L2134.6 2245.1 L2136.6 2245.4 L2138.5 2245.8 L2140.5 2246.1 L2142.5 2246.5 L2144.4 2246.8 L2146.4 2247.2 L2148.4 2247.5 L2150.4 2247.9 L2152.3 2248.2 L2154.3 2248.6 L2154.4 2248.6 M2182.6 2253.4 L2183.9 2253.6 L2185.8 2254.0 L2187.8 2254.3 L2189.8 2254.7 L2190.1 2254.7 M2219.5 2259.6 L2221.3 2259.9 L2223.3 2260.2 L2225.2 2260.5 L2227.2 2260.9 L2229.2 2261.2 L2231.2 2261.5 L2233.1 2261.8 L2235.1 2262.1 L2237.1 2262.5 L2239.0 2262.8 L2241.0 2263.1 L2243.0 2263.4 L2244.9 2263.7 L2246.9 2264.1 L2248.9 2264.4 L2250.9 2264.7 L2252.8 2265.0 L2254.8 2265.3 L2256.8 2265.6 L2258.7 2265.9 L2260.7 2266.3 L2262.7 2266.6 L2264.6 2266.9 L2266.6 2267.2 L2267.7 2267.4 M2295.9 2271.7 L2296.2 2271.8 L2298.1 2272.1 L2300.1 2272.4 L2302.1 2272.7 L2303.4 2272.9 M2332.8 2277.3 L2333.5 2277.4 L2335.5 2277.7 L2337.5 2278.0 L2339.4 2278.3 L2341.4 2278.6 L2343.4 2278.9 L2345.3 2279.2 L2347.3 2279.5 L2349.3 2279.8 L2351.2 2280.0 L2353.2 2280.3 L2355.2 2280.6 L2357.1 2280.9 L2359.1 2281.2 L2361.1 2281.5 L2363.0 2281.8 L2365.5 2282.0" stroke="#0000d2"/>
<path d="M477.0 2407.5 L477.7 2405.5 L477.8 2403.5 L477.9 2401.5 L478.0 2399.5 L478.1 2397.5 L478.2 2395.5 L478.3 2393.5 L478.4 2391.5 L478.5 2389.5 L478.6 2387.5 L478.7 2385.5 L478.8 2383.5 L478.8 2381.5 L478.9 2379.5 L479.0 2377.5 L479.1 2375.5 L479.2 2373.5 L479.3 2371.5 L479.4 2369.5 L479.5 2367.5 L479.5 2365.5 L479.6 2363.5 L479.7 2361.5 L479.8 2359.5 L479.9 2357.5 L480.0 2355.5 L480.0 2353.5 L480.1 2351.5 L480.2 2349.5 L480.3 2347.5 L480.3 2345.4 L480.4 2343.4 L480.5 2341.4 L480.6 2339.4 L480.6 2337.4 L480.7 2335.4 L480.8 2333.4 L480.8 2331.4 L480.9 2329.4 L481.0 2327.4 L481.1 2325.4 L481.1 2323.4 L481.2 2321.4 L481.3 2319.4 L481.3 2317.4 L481.4 2315.4 L481.4 2313.4 L481.5 2311.4 L481.6 2309.4 L481.6 2307.4 L481.7 2305.4 L481.8 2303.4 L481.8 2301.4 L481.9 2299.4 L481.9 2297.4 L482.0 2295.4 L482.0 2293.4 L482.1 2291.3 L482.2 2289.3 L482.2 2287.3 L482.3 2285.3 L482.3 2283.3 L482.4 2281.3 L482.4 2279.3 L482.5 2277.3 L482.5 2275.3 L482.6 2273.3 L482.6 2271.3 L482.7 2269.3 L482.7 2267.3 L482.8 2265.3 L482.8 2263.3 L482.9 2261.3 L482.9 2259.3 L483.0 2257.3 L483.0 2255.3 L483.1 2253.2 L483.1 2251.2 L483.2 2249.2 L483.2 2247.2 L483.3 2245.2 L483.3 2243.2 L483.4 2241.2 L483.4 2239.2 L483.4 2237.2 L483.5 2235.2 L483.5 2233.2 L483.6 2231.2 L483.6 2229.2 L483.7 2227.2 L483.7 2225.2 L483.8 2223.2 L483.8 2221.1 L483.8 2219.1 L483.9 2217.1 L483.9 2215.1 L484.0 2213.1 L484.0 2211.1 L484.0 2209.1 L484.1 2207.1 L484.1 2205.1 L484.2 2203.1 L484.2 2201.1 L484.2 2199.1 L484.3 2197.1 L484.3 2195.1 L484.4 2193.1 L484.4 2191.0 L484.5 2189.0 L484.5 2187.0 L484.5 2185.0 L484.6 2183.0 L484.6 2181.0 L484.6 2179.0 L484.7 2177.0 L484.7 2175.0 L484.8 2173.0 L484.8 2171.0 L484.8 2169.0 L484.9 2167.0 L484.9 2165.0 L485.0 2162.9 L485.0 2160.9 L485.0 2158.9 L485.1 2156.9 L485.1 2154.9 L485.2 2152.9 L485.2 2150.9 L485.2 2148.9 L485.3 2146.9 L485.3 2144.9 L485.4 2142.9 L485.4 2140.9 L485.5 2138.9 L485.5 2136.9 L485.5 2134.8 L485.6 2132.8 L485.6 2130.8 L485.7 2128.8 L485.7 2126.8 L485.7 2124.8 L485.8 2122.8 L485.8 2120.8 L485.9 2118.8 L485.9 2116.8 L486.0 2114.8 L486.0 2112.8 L486.0 2110.8 L486.1 2108.8 L486.1 2106.7 L486.2 2104.7 L486.2 2102.7 L486.3 2100.7 L486.3 2098.7 L486.4 2096.7 L486.4 2094.7 L486.5 2092.7 L486.5 2090.7 L486.6 2088.7 L486.6 2086.7 L486.6 2084.7 L486.7 2082.7 L486.7 2080.7 L486.8 2078.7 L486.8 2076.6 L486.9 2074.6 L486.9 2072.6 L487.0 2070.6 L487.1 2068.6 L487.1 2066.6 L487.2 2064.6 L487.2 2062.6 L487.3 2060.6 L487.3 2058.6 L487.4 2056.6 L487.4 2054.6 L487.5 2052.6 L487.5 2050.6 L487.6 2048.6 L487.7 2046.5 L487.7 2044.5 L487.8 2042.5 L487.8 2040.5 L487.9 2038.5 L488.0 2036.5 L488.0 2034.5 L488.1 2032.5 L488.2 2030.5 L488.2 2028.5 L488.3 2026.5 L488.3 2024.5 L488.4 2022.5 L488.5 2020.5 L488.5 2018.5 L488.6 2016.5 L488.7 2014.5 L488.8 2012.5 L488.8 2010.4 L488.9 2008.4 L489.0 2006.4 L489.0 2004.4 L489.1 2002.4 L489.2 2000.4 L489.3 1998.4 L489.3 1996.4 L489.4 1994.4 L489.5 1992.4 L489.6 1990.4 L489.6 1988.4 L489.7 1986.4 L489.8 1984.4 L489.9 1982.4 L490.0 1980.4 L490.1 1978.4 L490.1 1976.4 L490.2 1974.4 L490.3 1972.4 L490.4 1970.4 L490.5 1968.4 L490.6 1966.4 L490.7 1964.3 L490.8 1962.3 L490.9 1960.3 L491.0 1958.3 L491.0 1956.3 L491.1 1954.3 L491.2 1952.3 L491.3 1950.3 L491.4 1948.3 L491.5 1946.3 L491.6 1944.3 L491.7 1942.3 L491.8 1940.3 L491.9 1938.3 L492.0 1936.3 L492.2 1934.3 L492.3 1932.3 L492.4 1930.3 L492.5 1928.3 L492.6 1926.3 L492.7 1924.3 L492.8 1922.3 L492.9 1920.3 L493.0 1918.3 L493.2 1916.3 L493.3 1914.3 L493.4 1912.3 L493.5 1910.3 L493.6 1908.3 L493.8 1906.3 L493.9 1904.3 L494.0 1902.3 L494.1 1900.3 L494.3 1898.3 L494.4 1896.3 L494.5 1894.3 L494.7 1892.3 L494.8 1890.3 L494.9 1888.3 L495.1 1886.3 L495.2 1884.3 L495.3 1882.3 L495.5 1880.3 L495.6 1878.3 L495.8 1876.3 L495.9 1874.3 L496.1 1872.3 L496.2 1870.3 L496.4 1868.3 L496.5 1866.3 L496.7 1864.3 L496.8 1862.3 L497.0 1860.3 L497.1 1858.3 L497.3 1856.3 L497.4 1854.3 L497.6 1852.3 L497.8 1850.3 L497.9 1848.3 L498.1 1846.3 L498.3 1844.3 L498.4 1842.3 L498.6 1840.3 L498.8 1838.3 L498.9 1836.3 L499.1 1834.3 L499.3 1832.3 L499.5 1830.3 L499.7 1828.3 L499.8 1826.4 L500.0 1824.4 L500.2 1822.4 L500.4 1820.4 L500.6 1818.4 L500.8 1816.4 L501.0 1814.4 L501.1 1812.4 L501.3 1810.4 L501.5 1808.4 L501.7 1806.4 L501.9 1804.4 L502.1 1802.4 L502.3 1800.4 L502.5 1798.4 L502.8 1796.4 L503.0 1794.4 L503.2 1792.4 L503.4 1790.5 L503.6 1788.5 L503.8 1786.5 L504.0 1784.5 L504.3 1782.5 L504.5 1780.5 L504.7 1778.5 L504.9 1776.5 L505.1 1774.5 L505.4 1772.5 L505.6 1770.5 L505.8 1768.5 L506.1 1766.5 L506.3 1764.6 L506.6 1762.6 L506.8 1760.6 L507.0 1758.6 L507.3 1756.6 L507.5 1754.6 L507.8 1752.6 L509.4 1751.0 L510.3 1752.8 L510.6 1754.8 L511.0 1756.7 L511.3 1758.7 L511.6 1760.7 L511.9 1762.7 L512.2 1764.7 L512.5 1766.7 L512.8 1768.7 L513.2 1770.6 L513.5 1772.6 L513.8 1774.6 L514.1 1776.6 L514.5 1778.6 L514.8 1780.5 L515.1 1782.5 L515.4 1784.5 L515.8 1786.5 L516.1 1788.4 L516.5 1790.4 L516.8 1792.4 L517.1 1794.4 L517.5 1796.3 L517.8 1798.3 L518.2 1800.3 L518.5 1802.2 L518.9 1804.2 L519.2 1806.2 L519.6 1808.1 L520.0 1810.1 L520.3 1812.1 L520.7 1814.0 L521.1 1816.0 L521.5 1818.0 L521.8 1819.9 L522.2 1821.9 L522.6 1823.8 L523.0 1825.8 L523.4 1827.7 L523.8 1829.7 L524.2 1831.6 L524.6 1833.6 L525.0 1835.5 L525.4 1837.5 L525.8 1839.4 L526.3 1841.4 L526.7 1843.3 L527.1 1845.3 L527.6 1847.2 L528.0 1849.2 L528.4 1851.1 L528.9 1853.0 L529.3 1855.0 L529.8 1856.9 L530.2 1858.8 L530.7 1860.8 L531.2 1862.7 L531.6 1864.6 L532.1 1866.6 L532.6 1868.5 L533.1 1870.4 L533.5 1872.4 L534.0 1874.3 L534.5 1876.2 L535.0 1878.2 L535.5 1880.1 L536.0 1882.0 L536.5 1883.9 L537.0 1885.9 L537.5 1887.8 L538.0 1889.7 L538.6 1891.6 L539.1 1893.6 L539.6 1895.5 L540.1 1897.4 L540.7 1899.3 L541.2 1901.2 L541.7 1903.2 L542.3 1905.1 L542.8 1907.0 L543.4 1908.9 L543.9 1910.8 L544.5 1912.8 L545.0 1914.7 L545.6 1916.6 L546.2 1918.5 L546.7 1920.4 L547.3 1922.3 L547.9 1924.3 L548.4 1926.2 L549.0 1928.1 L549.6 1930.0 L550.2 1931.9 L550.8 1933.8 L551.4 1935.7 L552.0 1937.7 L552.5 1939.6 L553.1 1941.5 L553.8 1943.4 L554.4 1945.3 L555.0 1947.2 L555.6 1949.1 L556.2 1951.0 L556.8 1953.0 L557.4 1954.9 L558.1 1956.8 L558.7 1958.7 L559.3 1960.6 L560.0 1962.5 L560.6 1964.4 L561.2 1966.3 L561.9 1968.2 L562.5 1970.1 L563.2 1972.0 L563.9 1973.9 L564.5 1975.8 L565.2 1977.7 L565.8 1979.6 L566.5 1981.5 L567.2 1983.4 L567.9 1985.3 L568.6 1987.2 L569.2 1989.1 L569.9 1991.0 L570.6 1992.9 L571.3 1994.8 L572.0 1996.6 L572.7 1998.5 L573.4 2000.4 L574.1 2002.3 L574.9 2004.2 L575.6 2006.1 L576.3 2007.9 L577.0 2009.8 L577.8 2011.7 L578.5 2013.6 L579.2 2015.4 L580.0 2017.3 L580.7 2019.2 L581.5 2021.0 L582.2 2022.9 L583.0 2024.8 L583.8 2026.6 L584.5 2028.5 L585.3 2030.4 L586.1 2032.2 L586.9 2034.1 L587.6 2035.9 L588.4 2037.8 L589.2 2039.6 L590.0 2041.5 L590.8 2043.3 L591.6 2045.2 L592.4 2047.0 L593.2 2048.8 L594.1 2050.7 L594.9 2052.5 L595.7 2054.4 L596.5 2056.2 L597.4 2058.0 L598.2 2059.8 L599.1 2061.7 L599.9 2063.5 L600.8 2065.3 L601.6 2067.1 L602.5 2068.9 L603.4 2070.7 L604.2 2072.6 L605.1 2074.4 L606.0 2076.2 L606.9 2078.0 L607.8 2079.8 L608.7 2081.6 L609.6 2083.4 L610.5 2085.1 L611.4 2086.9 L612.3 2088.7 L613.2 2090.5 L614.1 2092.3 L615.1 2094.1 L616.0 2095.8 L616.9 2097.6 L617.9 2099.4 L618.8 2101.1 L619.8 2102.9 L620.7 2104.7 L621.7 2106.4 L622.7 2108.2 L623.6 2109.9 L624.6 2111.7 L625.6 2113.4 L626.6 2115.1 L627.6 2116.9 L628.6 2118.6 L629.6 2120.3 L630.6 2122.1 L631.6 2123.8 L632.6 2125.5 L633.6 2127.2 L634.7 2128.9 L635.7 2130.7 L636.7 2132.4 L637.8 2134.1 L638.8 2135.8 L639.9 2137.5 L640.9 2139.1 L642.0 2140.8 L643.1 2142.5 L644.2 2144.2 L645.2 2145.9 L646.3 2147.6 L647.4 2149.2 L648.5 2150.9 L649.6 2152.6 L650.7 2154.2 L651.8 2155.9 L653.0 2157.5 L654.1 2159.2 L655.2 2160.8 L656.4 2162.4 L657.5 2164.1 L658.6 2165.7 L659.8 2167.3 L661.0 2169.0 L662.1 2170.6 L663.3 2172.2 L664.5 2173.8 L665.7 2175.4 L666.8 2177.0 L668.0 2178.6 L669.2 2180.2 L670.4 2181.8 L671.7 2183.4 L672.9 2184.9 L674.1 2186.5 L675.3 2188.1 L676.6 2189.6 L677.8 2191.2 L679.1 2192.8 L680.3 2194.3 L681.6 2195.9 L682.8 2197.4 L684.1 2198.9 L685.4 2200.5 L686.7 2202.0 L687.9 2203.5 L689.2 2205.0 L690.5 2206.6 L691.9 2208.1 L693.2 2209.6 L694.5 2211.1 L695.8 2212.6 L697.2 2214.0 L698.5 2215.5 L699.8 2217.0 L701.2 2218.5 L702.5 2219.9 L703.9 2221.4 L705.3 2222.9 L706.7 2224.3 L708.0 2225.8 L709.4 2227.2 L710.8 2228.6 L712.2 2230.1 L713.6 2231.5 L715.0 2232.9 L716.5 2234.3 L717.9 2235.7 L719.3 2237.1 L720.8 2238.5 L722.2 2239.9 L723.7 2241.3 L725.1 2242.7 L726.6 2244.1 L728.0 2245.4 L729.5 2246.8 L731.0 2248.2 L732.5 2249.5 L734.0 2250.9 L735.5 2252.2 L737.0 2253.5 L738.5 2254.8 L740.0 2256.2 L741.5 2257.5 L743.0 2258.8 L744.5 2260.1 L746.1 2261.4 L747.6 2262.7 L749.2 2263.9 L750.7 2265.2 L752.3 2266.5 L753.8 2267.7 L755.4 2269.0 L757.0 2270.2 L758.5 2271.5 L760.1 2272.7 L761.7 2273.9 L763.3 2275.2 L764.9 2276.4 L766.5 2277.6 L768.1 2278.8 L769.7 2280.0 L771.3 2281.1 L773.0 2282.3 L774.6 2283.5 L776.2 2284.6 L777.9 2285.8 L779.5 2287.0 L781.2 2288.1 L782.8 2289.2 L784.5 2290.3 L786.1 2291.5 L787.8 2292.6 L789.5 2293.7 L791.1 2294.8 L792.8 2295.9 L794.5 2296.9 L796.2 2298.0 L797.9 2299.1 L799.6 2300.1 L801.3 2301.2 L803.0 2302.2 L804.7 2303.2 L806.4 2304.3 L808.2 2305.3 L809.9 2306.3 L811.6 2307.3 L813.4 2308.3 L815.1 2309.3 L816.8 2310.2 L818.6 2311.2 L820.4 2312.1 L822.1 2313.1 L823.9 2314.0 L825.6 2315.0 L827.4 2315.9 L829.2 2316.8 L831.0 2317.7 L832.7 2318.6 L834.5 2319.5 L836.3 2320.4 L838.1 2321.2 L839.9 2322.1 L841.7 2323.0 L843.5 2323.8 L845.3 2324.6 L847.2 2325.5 L849.0 2326.3 L850.8 2327.1 L852.6 2327.9 L854.5 2328.7 L856.3 2329.5 L858.1 2330.2 L860.0 2331.0 L861.8 2331.8 L863.7 2332.5 L865.5 2333.2 L867.4 2334.0 L869.3 2334.7 L871.1 2335.4 L873.0 2336.1 L874.9 2336.8 L876.7 2337.5 L878.6 2338.2 L880.5 2338.9 L882.4 2339.5 L884.3 2340.2 L886.1 2340.8 L888.0 2341.5 L889.9 2342.1 L891.8 2342.8 L893.7 2343.4 L895.6 2344.0 L897.5 2344.6 L899.4 2345.2 L901.3 2345.8 L903.3 2346.4 L905.2 2347.0 L907.1 2347.6 L909.0 2348.1 L910.9 2348.7 L912.8 2349.2 L914.8 2349.8 L916.7 2350.3 L918.6 2350.9 L920.6 2351.4 L922.5 2351.9 L924.4 2352.5 L926.4 2353.0 L928.3 2353.5 L930.2 2354.0 L932.2 2354.5 L934.1 2355.0 L936.1 2355.5 L938.0 2356.0 L940.0 2356.5 L941.9 2356.9 L943.8 2357.4 L945.8 2357.9 L947.8 2358.3 L949.7 2358.8 L951.7 2359.2 L953.6 2359.7 L955.6 2360.1 L957.5 2360.5 L959.5 2361.0 L961.4 2361.4 L963.4 2361.8 L965.4 2362.2 L967.3 2362.6 L969.3 2363.0 L971.3 2363.4 L973.2 2363.8 L975.2 2364.2 L977.1 2364.6 L979.1 2365.0 L981.1 2365.4 L983.0 2365.7 L985.0 2366.1 L987.0 2366.5 L988.9 2366.8 L990.9 2367.2 L992.9 2367.5 L994.9 2367.9 L996.8 2368.2 L998.8 2368.5 L1000.8 2368.9 L1002.7 2369.2 L1004.7 2369.5 L1006.7 2369.9 L1008.7 2370.2 L1010.6 2370.5 L1012.6 2370.8 L1014.6 2371.1 L1016.6 2371.4 L1018.5 2371.7 L1020.5 2372.0 L1022.5 2372.3 L1024.5 2372.6 L1026.5 2372.8 L1028.4 2373.1 L1030.4 2373.4 L1032.4 2373.7 L1034.4 2373.9 L1036.4 2374.2 L1038.3 2374.5 L1040.3 2374.7 L1042.3 2375.0 L1044.3 2375.2 L1046.3 2375.5 L1048.3 2375.7 L1050.2 2376.0 L1052.2 2376.2 L1054.2 2376.4 L1056.2 2376.7 L1058.2 2376.9 L1060.2 2377.1 L1062.2 2377.3 L1064.1 2377.5 L1066.1 2377.8 L1068.1 2378.0 L1070.1 2378.2 L1072.1 2378.4 L1074.1 2378.6 L1076.1 2378.8 L1078.1 2379.0 L1080.1 2379.2 L1082.0 2379.4 L1084.0 2379.6 L1086.0 2379.8 L1088.0 2379.9 L1090.0 2380.1 L1092.0 2380.3 L1094.0 2380.5 L1096.0 2380.7 L1098.0 2380.8 L1100.0 2381.0 L1102.0 2381.2 L1104.0 2381.3 L1106.0 2381.5 L1108.0 2381.7 L1110.0 2381.8 L1111.9 2382.0 L1113.9 2382.1 L1115.9 2382.3 L1117.9 2382.4 L1119.9 2382.6 L1121.9 2382.7 L1123.9 2382.9 L1125.9 2383.0 L1127.9 2383.2 L1129.9 2383.3 L1131.9 2383.4 L1133.9 2383.6 L1135.9 2383.7 L1137.9 2383.8 L1139.9 2384.0 L1141.9 2384.1 L1143.9 2384.2 L1145.9 2384.3 L1147.9 2384.5 L1149.9 2384.6 L1151.9 2384.7 L1153.9 2384.8 L1155.9 2385.0 L1157.9 2385.1 L1159.9 2385.2 L1161.9 2385.3 L1163.9 2385.4 L1165.9 2385.5 L1167.9 2385.6 L1169.9 2385.7 L1171.9 2385.9 L1173.9 2386.0 L1175.9 2386.1 L1177.9 2386.2 L1179.9 2386.3 L1181.9 2386.4 L1183.9 2386.5 L1185.9 2386.6 L1187.9 2386.7 L1189.9 2386.8 L1191.9 2386.9 L1193.9 2387.0 L1195.9 2387.1 L1197.9 2387.2 L1199.9 2387.3 L1201.9 2387.4 L1203.9 2387.5 L1205.9 2387.6 L1207.9 2387.7 L1209.9 2387.8 L1211.9 2387.9 L1213.9 2387.9 L1215.9 2388.0 L1217.9 2388.1 L1219.9 2388.2 L1221.9 2388.3 L1223.9 2388.4 L1225.9 2388.5 L1227.9 2388.6 L1229.9 2388.7 L1231.9 2388.8 L1233.9 2388.9 L1235.9 2388.9 L1237.9 2389.0 L1239.9 2389.1 L1241.9 2389.2 L1243.9 2389.3 L1246.0 2389.4 L1248.0 2389.5 L1250.0 2389.5 L1252.0 2389.6 L1254.0 2389.7 L1256.0 2389.8 L1258.0 2389.9 L1260.0 2390.0 L1262.0 2390.0 L1264.0 2390.1 L1266.0 2390.2 L1268.0 2390.3 L1270.0 2390.4 L1272.0 2390.4 L1274.0 2390.5 L1276.0 2390.6 L1278.0 2390.7 L1280.0 2390.7 L1282.0 2390.8 L1284.0 2390.9 L1286.0 2391.0 L1288.0 2391.0 L1290.0 2391.1 L1292.0 2391.2 L1294.0 2391.3 L1296.0 2391.3 L1298.0 2391.4 L1300.0 2391.5 L1302.0 2391.6 L1304.0 2391.6 L1306.0 2391.7 L1308.0 2391.8 L1310.0 2391.8 L1312.0 2391.9 L1314.0 2392.0 L1316.0 2392.0 L1318.0 2392.1 L1320.0 2392.2 L1322.0 2392.2 L1324.0 2392.3 L1326.0 2392.4 L1328.0 2392.4 L1330.0 2392.5 L1332.0 2392.6 L1334.0 2392.6 L1336.0 2392.7 L1338.0 2392.8 L1340.0 2392.8 L1342.0 2392.9 L1344.0 2393.0 L1346.0 2393.0 L1348.0 2393.1 L1350.0 2393.1 L1352.0 2393.2 L1354.0 2393.3 L1356.1 2393.3 L1358.1 2393.4 L1360.1 2393.4 L1362.1 2393.5 L1364.1 2393.5 L1366.1 2393.6 L1368.1 2393.7 L1370.1 2393.7 L1372.1 2393.8 L1374.1 2393.8 L1376.1 2393.9 L1378.1 2393.9 L1380.1 2394.0 L1382.1 2394.1 L1384.1 2394.1 L1386.1 2394.2 L1388.1 2394.2 L1390.1 2394.3 L1392.1 2394.3 L1394.1 2394.4 L1396.1 2394.4 L1398.1 2394.5 L1400.1 2394.5 L1402.1 2394.6 L1404.1 2394.6 L1406.1 2394.7 L1408.1 2394.7 L1410.1 2394.8 L1412.1 2394.8 L1414.1 2394.9 L1416.1 2394.9 L1418.1 2395.0 L1420.1 2395.0 L1422.1 2395.1 L1424.1 2395.1 L1426.1 2395.1 L1428.1 2395.2 L1430.1 2395.2 L1432.1 2395.3 L1434.1 2395.3 L1436.1 2395.4 L1438.1 2395.4 L1440.1 2395.5 L1442.1 2395.5 L1444.2 2395.5 L1446.2 2395.6 L1448.2 2395.6 L1450.2 2395.7 L1452.2 2395.7 L1454.2 2395.7 L1456.2 2395.8 L1458.2 2395.8 L1460.2 2395.9 L1462.2 2395.9 L1464.2 2395.9 L1466.2 2396.0 L1468.2 2396.0 L1470.2 2396.1 L1472.2 2396.1 L1474.2 2396.1 L1476.2 2396.2 L1478.2 2396.2 L1480.2 2396.2 L1482.2 2396.3 L1484.2 2396.3 L1486.2 2396.3 L1488.2 2396.4 L1490.2 2396.4 L1492.2 2396.5 L1494.2 2396.5 L1496.2 2396.5 L1498.2 2396.6 L1500.2 2396.6 L1502.2 2396.6 L1504.2 2396.6 L1506.2 2396.7 L1508.2 2396.7 L1510.2 2396.7 L1512.2 2396.8 L1514.2 2396.8 L1516.2 2396.8 L1518.2 2396.9 L1520.2 2396.9 L1522.2 2396.9 L1524.3 2397.0 L1526.3 2397.0 L1528.3 2397.0 L1530.3 2397.0 L1532.3 2397.1 L1534.3 2397.1 L1536.3 2397.1 L1538.3 2397.2 L1540.3 2397.2 L1542.3 2397.2 L1544.3 2397.2 L1546.3 2397.3 L1548.3 2397.3 L1550.3 2397.3 L1552.3 2397.3 L1554.3 2397.4 L1556.3 2397.4 L1558.3 2397.4 L1560.3 2397.4 L1562.3 2397.5 L1564.3 2397.5 L1566.3 2397.5 L1568.3 2397.5 L1570.3 2397.6 L1572.3 2397.6 L1574.3 2397.6 L1576.3 2397.6 L1578.3 2397.6 L1580.3 2397.7 L1582.3 2397.7 L1584.3 2397.7 L1586.3 2397.7 L1588.3 2397.8 L1590.3 2397.8 L1592.3 2397.8 L1594.3 2397.8 L1596.4 2397.8 L1598.4 2397.9 L1600.4 2397.9 L1602.4 2397.9 L1604.4 2397.9 L1606.4 2397.9 L1608.4 2397.9 L1610.4 2398.0 L1612.4 2398.0 L1614.4 2398.0 L1616.4 2398.0 L1618.4 2398.0 L1620.4 2398.1 L1622.4 2398.1 L1624.4 2398.1 L1626.4 2398.1 L1628.4 2398.1 L1630.4 2398.1 L1632.4 2398.1 L1634.4 2398.2 L1636.4 2398.2 L1638.4 2398.2 L1640.4 2398.2 L1642.4 2398.2 L1644.4 2398.2 L1646.4 2398.3 L1648.4 2398.3 L1650.4 2398.3 L1652.4 2398.3 L1654.4 2398.3 L1656.4 2398.3 L1658.4 2398.3 L1660.4 2398.3 L1662.4 2398.4 L1664.5 2398.4 L1666.5 2398.4 L1668.5 2398.4 L1670.5 2398.4 L1672.5 2398.4 L1674.5 2398.4 L1676.5 2398.4 L1678.5 2398.5 L1680.5 2398.5 L1682.5 2398.5 L1684.5 2398.5 L1686.5 2398.5 L1688.5 2398.5 L1690.5 2398.5 L1692.5 2398.5 L1694.5 2398.5 L1696.5 2398.6 L1698.5 2398.6 L1700.5 2398.6 L1702.5 2398.6 L1704.5 2398.6 L1706.5 2398.6 L1708.5 2398.6 L1710.5 2398.6 L1712.5 2398.6 L1714.5 2398.6 L1716.5 2398.6 L1718.5 2398.7 L1720.5 2398.7 L1722.5 2398.7 L1724.5 2398.7 L1726.5 2398.7 L1728.6 2398.7 L1730.6 2398.7 L1732.6 2398.7 L1734.6 2398.7 L1736.6 2398.7 L1738.6 2398.7 L1740.6 2398.7 L1742.6 2398.7 L1744.6 2398.7 L1746.6 2398.8 L1748.6 2398.8 L1750.6 2398.8 L1752.6 2398.8 L1754.6 2398.8 L1756.6 2398.8 L1758.6 2398.8 L1760.6 2398.8 L1762.6 2398.8 L1764.6 2398.8 L1766.6 2398.8 L1768.6 2398.8 L1770.6 2398.8 L1772.6 2398.8 L1774.6 2398.8 L1776.6 2398.8 L1778.6 2398.8 L1780.6 2398.8 L1782.6 2398.8 L1784.6 2398.9 L1786.6 2398.9 L1788.6 2398.9 L1790.6 2398.9 L1792.7 2398.9 L1794.7 2398.9 L1796.7 2398.9 L1798.7 2398.9 L1800.7 2398.9 L1802.7 2398.9 L1804.7 2398.9 L1806.7 2398.9 L1808.7 2398.9 L1810.7 2398.9 L1812.7 2398.9 L1814.7 2398.9 L1816.7 2398.9 L1818.7 2398.9 L1820.7 2398.9 L1822.7 2398.9 L1824.7 2398.9 L1826.7 2398.9 L1828.7 2398.9 L1830.7 2398.9 L1832.7 2398.9 L1834.7 2398.9 L1836.7 2398.9 L1838.7 2398.9 L1840.7 2398.9 L1842.7 2398.9 L1844.7 2398.9 L1846.7 2398.9 L1848.7 2399.0 L1850.7 2399.0 L1852.7 2399.0 L1854.7 2399.0 L1856.8 2399.0 L1858.8 2399.0 L1860.8 2399.0 L1862.8 2399.0 L1864.8 2399.0 L1866.8 2399.0 L1868.8 2399.0 L1870.8 2399.0 L1872.8 2399.0 L1874.8 2399.0 L1876.8 2399.0 L1878.8 2399.0 L1880.8 2399.0 L1882.8 2399.0 L1884.8 2399.0 L1886.8 2399.0 L1888.8 2399.0 L1890.8 2399.0 L1892.8 2399.0 L1894.8 2399.0 L1896.8 2399.0 L1898.8 2399.0 L1900.8 2399.0 L1902.8 2399.0 L1904.8 2399.0 L1906.8 2399.0 L1908.8 2399.0 L1910.8 2399.0 L1912.8 2399.0 L1914.8 2399.0 L1916.8 2399.0 L1918.9 2399.0 L1920.9 2399.0 L1922.9 2399.0 L1924.9 2399.0 L1926.9 2399.0 L1928.9 2399.0 L1930.9 2399.0 L1932.9 2399.0 L1934.9 2399.0 L1936.9 2399.0 L1938.9 2399.0 L1940.9 2399.0 L1942.9 2399.0 L1944.9 2399.0 L1946.9 2399.0 L1948.9 2399.0 L1950.9 2399.0 L1952.9 2399.0 L1954.9 2399.0 L1956.9 2399.0 L1958.9 2399.1 L1960.9 2399.1 L1962.9 2399.1 L1964.9 2399.1 L1966.9 2399.1 L1968.9 2399.1 L1970.9 2399.1 L1972.9 2399.1 L1974.9 2399.1 L1976.9 2399.1 L1978.9 2399.1 L1981.0 2399.1 L1983.0 2399.1 L1985.0 2399.1 L1987.0 2399.1 L1989.0 2399.1 L1991.0 2399.1 L1993.0 2399.1 L1995.0 2399.1 L1997.0 2399.1 L1999.0 2399.1 L2001.0 2399.1 L2003.0 2399.1 L2005.0 2399.1 L2007.0 2399.1 L2009.0 2399.1 L2011.0 2399.1 L2013.0 2399.1 L2015.0 2399.1 L2017.0 2399.1 L2019.0 2399.1 L2021.0 2399.1 L2023.0 2399.2 L2025.0 2399.2 L2027.0 2399.2 L2029.0 2399.2 L2031.0 2399.2 L2033.0 2399.2 L2035.0 2399.2 L2037.0 2399.2 L2039.0 2399.2 L2041.0 2399.2 L2043.0 2399.2 L2045.1 2399.2 L2047.1 2399.2 L2049.1 2399.2 L2051.1 2399.2 L2053.1 2399.2 L2055.1 2399.2 L2057.1 2399.2 L2059.1 2399.2 L2061.1 2399.3 L2063.1 2399.3 L2065.1 2399.3 L2067.1 2399.3 L2069.1 2399.3 L2071.1 2399.3 L2073.1 2399.3 L2075.1 2399.3 L2077.1 2399.3 L2079.1 2399.3 L2081.1 2399.3 L2083.1 2399.3 L2085.1 2399.3 L2087.1 2399.4 L2089.1 2399.4 L2091.1 2399.4 L2093.1 2399.4 L2095.1 2399.4 L2097.1 2399.4 L2099.1 2399.4 L2101.1 2399.4 L2103.1 2399.4 L2105.1 2399.4 L2107.1 2399.4 L2109.2 2399.5 L2111.2 2399.5 L2113.2 2399.5 L2115.2 2399.5 L2117.2 2399.5 L2119.2 2399.5 L2121.2 2399.5 L2123.2 2399.5 L2125.2 2399.5 L2127.2 2399.5 L2129.2 2399.6 L2131.2 2399.6 L2133.2 2399.6 L2135.2 2399.6 L2137.2 2399.6 L2139.2 2399.6 L2141.2 2399.6 L2143.2 2399.6 L2145.2 2399.7 L2147.2 2399.7 L2149.2 2399.7 L2151.2 2399.7 L2153.2 2399.7 L2155.2 2399.7 L2157.2 2399.7 L2159.2 2399.8 L2161.2 2399.8 L2163.2 2399.8 L2165.2 2399.8 L2167.2 2399.8 L2169.2 2399.8 L2171.2 2399.8 L2173.2 2399.9 L2175.2 2399.9 L2177.3 2399.9 L2179.3 2399.9 L2181.3 2399.9 L2183.3 2399.9 L2185.3 2400.0 L2187.3 2400.0 L2189.3 2400.0 L2191.3 2400.0 L2193.3 2400.0 L2195.3 2400.0 L2197.3 2400.1 L2199.3 2400.1 L2201.3 2400.1 L2203.3 2400.1 L2205.3 2400.1 L2207.3 2400.2 L2209.3 2400.2 L2211.3 2400.2 L2213.3 2400.2 L2215.3 2400.2 L2217.3 2400.3 L2219.3 2400.3 L2221.3 2400.3 L2223.3 2400.3 L2225.3 2400.3 L2227.3 2400.4 L2229.3 2400.4 L2231.3 2400.4 L2233.3 2400.4 L2235.3 2400.5 L2237.3 2400.5 L2239.3 2400.5 L2241.3 2400.5 L2243.3 2400.5 L2245.3 2400.6 L2247.3 2400.6 L2249.4 2400.6 L2251.4 2400.6 L2253.4 2400.7 L2255.4 2400.7 L2257.4 2400.7 L2259.4 2400.7 L2261.4 2400.8 L2263.4 2400.8 L2265.4 2400.8 L2267.4 2400.9 L2269.4 2400.9 L2271.4 2400.9 L2273.4 2400.9 L2275.4 2401.0 L2277.4 2401.0 L2279.4 2401.0 L2281.4 2401.1 L2283.4 2401.1 L2285.4 2401.1 L2287.4 2401.1 L2289.4 2401.2 L2291.4 2401.2 L2293.4 2401.2 L2295.4 2401.3 L2297.4 2401.3 L2299.4 2401.3 L2301.4 2401.4 L2303.4 2401.4 L2305.4 2401.4 L2307.4 2401.5 L2309.4 2401.5 L2311.4 2401.5 L2313.4 2401.6 L2315.4 2401.6 L2317.4 2401.6 L2319.4 2401.7 L2321.4 2401.7 L2323.4 2401.7 L2325.5 2401.8 L2327.5 2401.8 L2329.5 2401.8 L2331.5 2401.9 L2333.5 2401.9 L2335.5 2402.0 L2337.5 2402.0 L2339.5 2402.0 L2341.5 2402.1 L2343.5 2402.1 L2345.5 2402.2 L2347.5 2402.2 L2349.5 2402.2 L2351.5 2402.3 L2353.5 2402.3 L2355.5 2402.4 L2357.5 2402.4 L2359.5 2402.4 L2361.5 2402.5 L2363.5 2402.5 L2365.5 2402.5" stroke="#fe0808" />
<g fill="#fe0808" stroke="none"><circle cx="478.1" cy="2397.2" r="5.8"/><circle cx="479.3" cy="2371.4" r="5.8"/><circle cx="480.0" cy="2353.2" r="5.8"/><circle cx="480.9" cy="2330.7" r="5.8"/><circle cx="481.3" cy="2316.5" r="5.8"/><circle cx="482.2" cy="2287.8" r="5.8"/><circle cx="482.9" cy="2259.4" r="5.8"/><circle cx="483.3" cy="2244.8" r="5.8"/><circle cx="483.9" cy="2215.5" r="5.8"/><circle cx="484.2" cy="2199.3" r="5.8"/><circle cx="484.6" cy="2180.8" r="5.8"/><circle cx="485.1" cy="2157.1" r="5.8"/><circle cx="485.7" cy="2128.0" r="5.8"/><circle cx="486.3" cy="2100.4" r="5.8"/><circle cx="486.6" cy="2086.3" r="5.8"/><circle cx="487.2" cy="2064.0" r="5.8"/><circle cx="487.8" cy="2041.2" r="5.8"/><circle cx="488.5" cy="2019.4" r="5.8"/><circle cx="489.5" cy="1993.2" r="5.8"/><circle cx="490.1" cy="1976.6" r="5.8"/><circle cx="491.3" cy="1950.4" r="5.8"/><circle cx="492.1" cy="1936.1" r="5.8"/><circle cx="493.0" cy="1919.9" r="5.8"/><circle cx="493.9" cy="1904.1" r="5.8"/><circle cx="495.1" cy="1885.2" r="5.8"/><circle cx="497.0" cy="1860.5" r="5.8"/><circle cx="498.7" cy="1839.1" r="5.8"/><circle cx="501.2" cy="1812.1" r="5.8"/><circle cx="503.1" cy="1793.6" r="5.8"/><circle cx="505.9" cy="1768.0" r="5.8"/><circle cx="511.2" cy="1758.2" r="5.8"/><circle cx="514.2" cy="1777.2" r="5.8"/><circle cx="517.5" cy="1796.2" r="5.8"/><circle cx="522.9" cy="1825.4" r="5.8"/><circle cx="527.9" cy="1848.8" r="5.8"/><circle cx="534.8" cy="1877.2" r="5.8"/><circle cx="548.9" cy="1927.8" r="5.8"/><circle cx="565.8" cy="1979.6" r="5.8"/><circle cx="580.2" cy="2017.9" r="5.8"/><circle cx="596.9" cy="2057.0" r="5.8"/><circle cx="614.8" cy="2093.6" r="5.8"/><circle cx="644.9" cy="2145.4" r="5.8"/><circle cx="664.0" cy="2173.1" r="5.8"/><circle cx="701.3" cy="2218.6" r="5.8"/><circle cx="730.6" cy="2247.8" r="5.8"/><circle cx="762.4" cy="2274.5" r="5.8"/><circle cx="797.6" cy="2298.9" r="5.8"/><circle cx="832.4" cy="2318.4" r="5.8"/><circle cx="929.2" cy="2353.7" r="5.8"/><circle cx="977.3" cy="2364.6" r="5.8"/><circle cx="1032.1" cy="2373.6" r="5.8"/><circle cx="1168.1" cy="2385.7" r="5.8"/><circle cx="1292.5" cy="2391.2" r="5.8"/><circle cx="1341.0" cy="2392.9" r="5.8"/><circle cx="1423.5" cy="2395.1" r="5.8"/><circle cx="1496.1" cy="2396.5" r="5.8"/><circle cx="1548.0" cy="2397.3" r="5.8"/><circle cx="1658.4" cy="2398.3" r="5.8"/><circle cx="1755.4" cy="2398.8" r="5.8"/><circle cx="1806.4" cy="2398.9" r="5.8"/><circle cx="1923.0" cy="2399.0" r="5.8"/><circle cx="2068.4" cy="2399.3" r="5.8"/><circle cx="2127.6" cy="2399.5" r="5.8"/><circle cx="2207.3" cy="2400.2" r="5.8"/><circle cx="2332.5" cy="2401.9" r="5.8"/></g>
<path d="M477.0 2407.5 L477.7 2405.6 L478.3 2403.7 L479.0 2401.8 L479.6 2399.9 L480.2 2398.0 L480.7 2396.1 L481.2 2394.2 L481.7 2392.2 L482.2 2390.3 L482.7 2388.3 L483.2 2386.4 L483.6 2384.4 L484.1 2382.4 L484.5 2380.5 L484.9 2378.5 L485.3 2376.5 L485.7 2374.6 L486.1 2372.6 L486.5 2370.6 L486.9 2368.7 L487.4 2366.7 L487.8 2364.7 L488.2 2362.8 L488.6 2360.8 L489.1 2358.9 L489.5 2356.9 L490.0 2355.0 L490.4 2353.1 L490.9 2351.2 L491.4 2349.2 L491.9 2347.3 L492.4 2345.4 L492.9 2343.5 L493.4 2341.6 L493.9 2339.6 L494.4 2337.7 L495.0 2335.8 L495.5 2333.9 L496.0 2332.0 L496.5 2330.1 L497.0 2328.1 L497.5 2326.2 L498.1 2324.3 L498.6 2322.3 L499.1 2320.4 L499.6 2318.4 L500.1 2316.5 L500.5 2314.5 L501.0 2312.5 L501.5 2310.6 L502.0 2308.6 L502.5 2306.6 L503.1 2304.6 L503.6 2302.7 L504.3 2300.7 L505.0 2298.8 L505.8 2296.9 L506.6 2295.0 L507.6 2293.2 L508.6 2291.4 L509.7 2289.7 L510.9 2288.0 L512.2 2286.4 L513.5 2284.9 L514.9 2283.4 L516.3 2282.0 L517.8 2280.8 L519.4 2279.6 L521.0 2278.5 L522.6 2277.6 L524.3 2276.7 L526.0 2276.0 L527.8 2275.5 L529.6 2275.1 L531.4 2274.8 L533.2 2274.7 L535.1 2274.7 L537.0 2274.8 L538.9 2275.1 L540.8 2275.5 L542.7 2276.0 L544.6 2276.5 L546.5 2277.2 L548.5 2277.9 L550.4 2278.8 L552.3 2279.6 L554.3 2280.6 L556.2 2281.5 L558.1 2282.5 L560.0 2283.6 L561.9 2284.6 L563.7 2285.7 L565.6 2286.7 L567.4 2287.8 L569.2 2288.8 L571.0 2289.9 L572.7 2290.9 L574.5 2292.0 L576.2 2293.0 L578.0 2294.1 L579.7 2295.1 L581.4 2296.2 L583.1 2297.2 L584.8 2298.2 L586.5 2299.3 L588.2 2300.3 L589.8 2301.3 L591.5 2302.3 L593.2 2303.3 L594.9 2304.4 L596.6 2305.3 L598.3 2306.3 L599.9 2307.3 L601.6 2308.3 L603.4 2309.3 L605.1 2310.2 L606.8 2311.2 L608.5 2312.1 L610.2 2313.1 L612.0 2314.0 L613.7 2314.9 L615.5 2315.8 L617.2 2316.7 L619.0 2317.6 L620.7 2318.5 L622.5 2319.4 L624.3 2320.3 L626.0 2321.2 L627.8 2322.1 L629.6 2322.9 L631.4 2323.8 L633.2 2324.6 L635.0 2325.5 L636.8 2326.3 L638.6 2327.1 L640.4 2327.9 L642.3 2328.7 L644.1 2329.5 L645.9 2330.3 L647.7 2331.1 L649.6 2331.9 L651.4 2332.7 L653.3 2333.5 L655.1 2334.2 L657.0 2335.0 L658.8 2335.7 L660.7 2336.5 L662.6 2337.2 L664.4 2338.0 L666.3 2338.7 L668.2 2339.4 L670.0 2340.1 L671.9 2340.8 L673.8 2341.5 L675.7 2342.2 L677.6 2342.9 L679.5 2343.6 L681.4 2344.3 L683.3 2344.9 L685.2 2345.6 L687.1 2346.3 L689.0 2346.9 L690.9 2347.5 L692.8 2348.2 L694.7 2348.8 L696.7 2349.4 L698.6 2350.1 L700.5 2350.7 L702.4 2351.3 L704.4 2351.9 L706.3 2352.5 L708.2 2353.1 L710.1 2353.7 L712.1 2354.3 L714.0 2354.8 L716.0 2355.4 L717.9 2356.0 L719.8 2356.5 L721.8 2357.1 L723.7 2357.6 L725.7 2358.2 L727.6 2358.7 L729.6 2359.2 L731.5 2359.8 L733.5 2360.3 L735.4 2360.8 L737.4 2361.3 L739.3 2361.8 L741.3 2362.3 L743.2 2362.8 L745.2 2363.3 L747.1 2363.8 L749.1 2364.2 L751.0 2364.7 L753.0 2365.2 L755.0 2365.6 L756.9 2366.1 L758.9 2366.6 L760.8 2367.0 L762.8 2367.4 L764.8 2367.9 L766.7 2368.3 L768.7 2368.7 L770.6 2369.2 L772.6 2369.6 L774.6 2370.0 L776.5 2370.4 L778.5 2370.8 L780.5 2371.2 L782.4 2371.6 L784.4 2372.0 L786.4 2372.4 L788.3 2372.8 L790.3 2373.2 L792.3 2373.5 L794.2 2373.9 L796.2 2374.3 L798.2 2374.6 L800.1 2375.0 L802.1 2375.3 L804.1 2375.7 L806.1 2376.0 L808.0 2376.4 L810.0 2376.7 L812.0 2377.0 L814.0 2377.4 L815.9 2377.7 L817.9 2378.0 L819.9 2378.3 L821.9 2378.6 L823.8 2379.0 L825.8 2379.3 L827.8 2379.6 L829.8 2379.9 L831.8 2380.2 L833.7 2380.4 L835.7 2380.7 L837.7 2381.0 L839.7 2381.3 L841.7 2381.6 L843.6 2381.8 L845.6 2382.1 L847.6 2382.4 L849.6 2382.6 L851.6 2382.9 L853.5 2383.2 L855.5 2383.4 L857.5 2383.7 L859.5 2383.9 L861.5 2384.1 L863.5 2384.4 L865.5 2384.6 L867.4 2384.9 L869.4 2385.1 L871.4 2385.3 L873.4 2385.5 L875.4 2385.8 L877.4 2386.0 L879.4 2386.2 L881.4 2386.4 L883.3 2386.6 L885.3 2386.8 L887.3 2387.0 L889.3 2387.2 L891.3 2387.4 L893.3 2387.6 L895.3 2387.8 L897.3 2388.0 L899.3 2388.2 L901.3 2388.4 L903.2 2388.6 L905.2 2388.8 L907.2 2388.9 L909.2 2389.1 L911.2 2389.3 L913.2 2389.5 L915.2 2389.6 L917.2 2389.8 L919.2 2390.0 L921.2 2390.1 L923.2 2390.3 L925.2 2390.4 L927.2 2390.6 L929.2 2390.8 L931.2 2390.9 L933.2 2391.1 L935.1 2391.2 L937.1 2391.4 L939.1 2391.5 L941.1 2391.7 L943.1 2391.8 L945.1 2391.9 L947.1 2392.1 L949.1 2392.2 L951.1 2392.3 L953.1 2392.5 L955.1 2392.6 L957.1 2392.7 L959.1 2392.9 L961.1 2393.0 L963.1 2393.1 L965.1 2393.3 L967.1 2393.4 L969.1 2393.5 L971.1 2393.6 L973.1 2393.7 L975.1 2393.9 L977.1 2394.0 L979.1 2394.1 L981.1 2394.2 L983.1 2394.3 L985.1 2394.4 L987.1 2394.5 L989.1 2394.7 L991.1 2394.8 L993.1 2394.9 L995.1 2395.0 L997.1 2395.1 L999.1 2395.2 L1001.1 2395.3 L1003.1 2395.4 L1005.1 2395.5 L1007.1 2395.6 L1009.1 2395.7 L1011.1 2395.8 L1013.1 2395.9 L1015.1 2396.0 L1017.1 2396.1 L1019.1 2396.2 L1021.1 2396.3 L1023.1 2396.3 L1025.1 2396.4 L1027.1 2396.5 L1029.1 2396.6 L1031.1 2396.7 L1033.1 2396.8 L1035.1 2396.9 L1037.1 2396.9 L1039.1 2397.0 L1041.1 2397.1 L1043.1 2397.2 L1045.1 2397.3 L1047.1 2397.3 L1049.1 2397.4 L1051.1 2397.5 L1053.1 2397.6 L1055.1 2397.6 L1057.1 2397.7 L1059.1 2397.8 L1061.1 2397.9 L1063.1 2397.9 L1065.1 2398.0 L1067.1 2398.1 L1069.1 2398.1 L1071.1 2398.2 L1073.1 2398.3 L1075.1 2398.3 L1077.1 2398.4 L1079.1 2398.4 L1081.1 2398.5 L1083.1 2398.6 L1085.1 2398.6 L1087.1 2398.7 L1089.1 2398.7 L1091.1 2398.8 L1093.1 2398.9 L1095.1 2398.9 L1097.1 2399.0 L1099.1 2399.0 L1101.1 2399.1 L1103.1 2399.1 L1105.1 2399.2 L1107.1 2399.2 L1109.1 2399.3 L1111.1 2399.3 L1113.1 2399.4 L1115.1 2399.4 L1117.1 2399.5 L1119.1 2399.5 L1121.1 2399.5 L1123.1 2399.6 L1125.1 2399.6 L1127.1 2399.7 L1129.1 2399.7 L1131.2 2399.8 L1133.2 2399.8 L1135.2 2399.8 L1137.2 2399.9 L1139.2 2399.9 L1141.2 2399.9 L1143.2 2400.0 L1145.2 2400.0 L1147.2 2400.0 L1149.2 2400.1 L1151.2 2400.1 L1153.2 2400.1 L1155.2 2400.2 L1157.2 2400.2 L1159.2 2400.2 L1161.2 2400.3 L1163.2 2400.3 L1165.2 2400.3 L1167.2 2400.4 L1169.2 2400.4 L1171.2 2400.4 L1173.2 2400.4 L1175.2 2400.5 L1177.2 2400.5 L1179.2 2400.5 L1181.2 2400.5 L1183.3 2400.6 L1185.3 2400.6 L1187.3 2400.6 L1189.3 2400.6 L1191.3 2400.6 L1193.3 2400.7 L1195.3 2400.7 L1197.3 2400.7 L1199.3 2400.7 L1201.3 2400.7 L1203.3 2400.8 L1205.3 2400.8 L1207.3 2400.8 L1209.3 2400.8 L1211.3 2400.8 L1213.3 2400.8 L1215.3 2400.8 L1217.3 2400.9 L1219.3 2400.9 L1221.3 2400.9 L1223.3 2400.9 L1225.3 2400.9 L1227.4 2400.9 L1229.4 2400.9 L1231.4 2400.9 L1233.4 2401.0 L1235.4 2401.0 L1237.4 2401.0 L1239.4 2401.0 L1241.4 2401.0 L1243.4 2401.0 L1245.4 2401.0 L1247.4 2401.0 L1249.4 2401.0 L1251.4 2401.0 L1253.4 2401.0 L1255.4 2401.0 L1257.4 2401.1 L1259.4 2401.1 L1261.4 2401.1 L1263.4 2401.1 L1265.5 2401.1 L1267.5 2401.1 L1269.5 2401.1 L1271.5 2401.1 L1273.5 2401.1 L1275.5 2401.1 L1277.5 2401.1 L1279.5 2401.1 L1281.5 2401.1 L1283.5 2401.1 L1285.5 2401.1 L1287.5 2401.1 L1289.5 2401.1 L1291.5 2401.1 L1293.5 2401.1 L1295.5 2401.1 L1297.5 2401.1 L1299.5 2401.1 L1301.6 2401.1 L1303.6 2401.1 L1305.6 2401.1 L1307.6 2401.1 L1309.6 2401.1 L1311.6 2401.1 L1313.6 2401.1 L1315.6 2401.1 L1317.6 2401.1 L1319.6 2401.1 L1321.6 2401.1 L1323.6 2401.1 L1325.6 2401.1 L1327.6 2401.1 L1329.6 2401.1 L1331.6 2401.1 L1333.6 2401.1 L1335.6 2401.1 L1337.7 2401.1 L1339.7 2401.1 L1341.7 2401.1 L1343.7 2401.1 L1345.7 2401.1 L1347.7 2401.1 L1349.7 2401.1 L1351.7 2401.1 L1353.7 2401.1 L1355.7 2401.1 L1357.7 2401.1 L1359.7 2401.1 L1361.7 2401.1 L1363.7 2401.1 L1365.7 2401.1 L1367.7 2401.1 L1369.7 2401.1 L1371.7 2401.1 L1373.8 2401.0 L1375.8 2401.0 L1377.8 2401.0 L1379.8 2401.0 L1381.8 2401.0 L1383.8 2401.0 L1385.8 2401.0 L1387.8 2401.0 L1389.8 2401.0 L1391.8 2401.0 L1393.8 2401.0 L1395.8 2401.0 L1397.8 2401.0 L1399.8 2401.0 L1401.8 2401.0 L1403.8 2401.0 L1405.8 2401.0 L1407.8 2401.0 L1409.8 2401.0 L1411.9 2401.0 L1413.9 2401.0 L1415.9 2401.0 L1417.9 2401.0 L1419.9 2401.0 L1421.9 2401.0 L1423.9 2401.0 L1425.9 2401.0 L1427.9 2401.0 L1429.9 2401.0 L1431.9 2401.0 L1433.9 2401.0 L1435.9 2401.0 L1437.9 2401.0 L1439.9 2401.0 L1441.9 2401.0 L1443.9 2401.0 L1445.9 2401.1 L1447.9 2401.1 L1449.9 2401.1 L1451.9 2401.1 L1454.0 2401.1 L1456.0 2401.1 L1458.0 2401.1 L1460.0 2401.1 L1462.0 2401.1 L1464.0 2401.1 L1466.0 2401.1 L1468.0 2401.1 L1470.0 2401.1 L1472.0 2401.1 L1474.0 2401.1 L1476.0 2401.1 L1478.0 2401.1 L1480.0 2401.2 L1482.0 2401.2 L1484.0 2401.2 L1486.0 2401.2 L1488.0 2401.2 L1490.0 2401.2 L1492.0 2401.2 L1494.0 2401.2 L1496.0 2401.2 L1498.0 2401.2 L1500.0 2401.2 L1502.1 2401.3 L1504.1 2401.3 L1506.1 2401.3 L1508.1 2401.3 L1510.1 2401.3 L1512.1 2401.3 L1514.1 2401.3 L1516.1 2401.3 L1518.1 2401.3 L1520.1 2401.4 L1522.1 2401.4 L1524.1 2401.4 L1526.1 2401.4 L1528.1 2401.4 L1530.1 2401.4 L1532.1 2401.4 L1534.1 2401.4 L1536.1 2401.5 L1538.1 2401.5 L1540.1 2401.5 L1542.1 2401.5 L1544.1 2401.5 L1546.1 2401.5 L1548.1 2401.6 L1550.1 2401.6 L1552.1 2401.6 L1554.1 2401.6 L1556.1 2401.6 L1558.2 2401.6 L1560.2 2401.6 L1562.2 2401.7 L1564.2 2401.7 L1566.2 2401.7 L1568.2 2401.7 L1570.2 2401.7 L1572.2 2401.7 L1574.2 2401.8 L1576.2 2401.8 L1578.2 2401.8 L1580.2 2401.8 L1582.2 2401.8 L1584.2 2401.9 L1586.2 2401.9 L1588.2 2401.9 L1590.2 2401.9 L1592.2 2401.9 L1594.2 2401.9 L1596.2 2402.0 L1598.2 2402.0 L1600.2 2402.0 L1602.2 2402.0 L1604.2 2402.0 L1606.2 2402.1 L1608.2 2402.1 L1610.2 2402.1 L1612.2 2402.1 L1614.2 2402.1 L1616.2 2402.2 L1618.2 2402.2 L1620.2 2402.2 L1622.2 2402.2 L1624.2 2402.2 L1626.2 2402.3 L1628.3 2402.3 L1630.3 2402.3 L1632.3 2402.3 L1634.3 2402.4 L1636.3 2402.4 L1638.3 2402.4 L1640.3 2402.4 L1642.3 2402.4 L1644.3 2402.5 L1646.3 2402.5 L1648.3 2402.5 L1650.3 2402.5 L1652.3 2402.6 L1654.3 2402.6 L1656.3 2402.6 L1658.3 2402.6 L1660.3 2402.7 L1662.3 2402.7 L1664.3 2402.7 L1666.3 2402.7 L1668.3 2402.7 L1670.3 2402.8 L1672.3 2402.8 L1674.3 2402.8 L1676.3 2402.8 L1678.3 2402.9 L1680.3 2402.9 L1682.3 2402.9 L1684.3 2402.9 L1686.3 2403.0 L1688.3 2403.0 L1690.3 2403.0 L1692.3 2403.0 L1694.3 2403.1 L1696.3 2403.1 L1698.3 2403.1 L1700.3 2403.1 L1702.3 2403.2 L1704.3 2403.2 L1706.3 2403.2 L1708.3 2403.2 L1710.3 2403.3 L1712.3 2403.3 L1714.3 2403.3 L1716.4 2403.3 L1718.4 2403.4 L1720.4 2403.4 L1722.4 2403.4 L1724.4 2403.4 L1726.4 2403.5 L1728.4 2403.5 L1730.4 2403.5 L1732.4 2403.5 L1734.4 2403.6 L1736.4 2403.6 L1738.4 2403.6 L1740.4 2403.6 L1742.4 2403.7 L1744.4 2403.7 L1746.4 2403.7 L1748.4 2403.8 L1750.4 2403.8 L1752.4 2403.8 L1754.4 2403.8 L1756.4 2403.9 L1758.4 2403.9 L1760.4 2403.9 L1762.4 2403.9 L1764.4 2404.0 L1766.4 2404.0 L1768.4 2404.0 L1770.4 2404.0 L1772.4 2404.1 L1774.4 2404.1 L1776.4 2404.1 L1778.4 2404.1 L1780.4 2404.2 L1782.4 2404.2 L1784.4 2404.2 L1786.4 2404.3 L1788.4 2404.3 L1790.4 2404.3 L1792.4 2404.3 L1794.4 2404.4 L1796.4 2404.4 L1798.4 2404.4 L1800.4 2404.4 L1802.4 2404.5 L1804.4 2404.5 L1806.4 2404.5 L1808.4 2404.5 L1810.4 2404.6 L1812.4 2404.6 L1814.4 2404.6 L1816.4 2404.7 L1818.4 2404.7 L1820.5 2404.7 L1822.5 2404.7 L1824.5 2404.8 L1826.5 2404.8 L1828.5 2404.8 L1830.5 2404.8 L1832.5 2404.9 L1834.5 2404.9 L1836.5 2404.9 L1838.5 2404.9 L1840.5 2405.0 L1842.5 2405.0 L1844.5 2405.0 L1846.5 2405.0 L1848.5 2405.1 L1850.5 2405.1 L1852.5 2405.1 L1854.5 2405.1 L1856.5 2405.2 L1858.5 2405.2 L1860.5 2405.2 L1862.5 2405.3 L1864.5 2405.3 L1866.5 2405.3 L1868.5 2405.3 L1870.5 2405.4 L1872.5 2405.4 L1874.5 2405.4 L1876.5 2405.4 L1878.5 2405.5 L1880.5 2405.5 L1882.5 2405.5 L1884.5 2405.5 L1886.5 2405.6 L1888.5 2405.6 L1890.5 2405.6 L1892.5 2405.6 L1894.5 2405.7 L1896.5 2405.7 L1898.5 2405.7 L1900.5 2405.7 L1902.5 2405.8 L1904.5 2405.8 L1906.5 2405.8 L1908.5 2405.8 L1910.5 2405.8 L1912.5 2405.9 L1914.5 2405.9 L1916.5 2405.9 L1918.5 2405.9 L1920.5 2406.0 L1922.5 2406.0 L1924.6 2406.0 L1926.6 2406.0 L1928.6 2406.1 L1930.6 2406.1 L1932.6 2406.1 L1934.6 2406.1 L1936.6 2406.2 L1938.6 2406.2 L1940.6 2406.2 L1942.6 2406.2 L1944.6 2406.2 L1946.6 2406.3 L1948.6 2406.3 L1950.6 2406.3 L1952.6 2406.3 L1954.6 2406.4 L1956.6 2406.4 L1958.6 2406.4 L1960.6 2406.4 L1962.6 2406.4 L1964.6 2406.5 L1966.6 2406.5 L1968.6 2406.5 L1970.6 2406.5 L1972.6 2406.5 L1974.6 2406.6 L1976.6 2406.6 L1978.6 2406.6 L1980.6 2406.6 L1982.6 2406.6 L1984.6 2406.7 L1986.6 2406.7 L1988.6 2406.7 L1990.6 2406.7 L1992.6 2406.7 L1994.6 2406.8 L1996.6 2406.8 L1998.6 2406.8 L2000.6 2406.8 L2002.6 2406.8 L2004.6 2406.8 L2006.6 2406.9 L2008.6 2406.9 L2010.6 2406.9 L2012.7 2406.9 L2014.7 2406.9 L2016.7 2407.0 L2018.7 2407.0 L2020.7 2407.0 L2022.7 2407.0 L2024.7 2407.0 L2026.7 2407.0 L2028.7 2407.1 L2030.7 2407.1 L2032.7 2407.1 L2034.7 2407.1 L2036.7 2407.1 L2038.7 2407.1 L2040.7 2407.1 L2042.7 2407.2 L2044.7 2407.2 L2046.7 2407.2 L2048.7 2407.2 L2050.7 2407.2 L2052.7 2407.2 L2054.7 2407.2 L2056.7 2407.3 L2058.7 2407.3 L2060.7 2407.3 L2062.7 2407.3 L2064.7 2407.3 L2066.7 2407.3 L2068.7 2407.3 L2070.7 2407.3 L2072.7 2407.4 L2074.7 2407.4 L2076.7 2407.4 L2078.7 2407.4 L2080.8 2407.4 L2082.8 2407.4 L2084.8 2407.4 L2086.8 2407.4 L2088.8 2407.4 L2090.8 2407.5 L2092.8 2407.5 L2094.8 2407.5 L2096.8 2407.5 L2098.8 2407.5 L2100.8 2407.5 L2102.8 2407.5 L2104.8 2407.5 L2106.8 2407.5 L2108.8 2407.5 L2110.8 2407.5 L2112.8 2407.5 L2114.8 2407.6 L2116.8 2407.6 L2118.8 2407.6 L2120.8 2407.6 L2122.8 2407.6 L2124.8 2407.6 L2126.8 2407.6 L2128.8 2407.6 L2130.8 2407.6 L2132.8 2407.6 L2134.8 2407.6 L2136.9 2407.6 L2138.9 2407.6 L2140.9 2407.6 L2142.9 2407.6 L2144.9 2407.6 L2146.9 2407.6 L2148.9 2407.6 L2150.9 2407.6 L2152.9 2407.6 L2154.9 2407.6 L2156.9 2407.6 L2158.9 2407.6 L2160.9 2407.6 L2162.9 2407.6 L2164.9 2407.6 L2166.9 2407.6 L2168.9 2407.6 L2170.9 2407.6 L2172.9 2407.6 L2174.9 2407.6 L2176.9 2407.6 L2178.9 2407.6 L2180.9 2407.6 L2182.9 2407.6 L2185.0 2407.6 L2187.0 2407.6 L2189.0 2407.6 L2191.0 2407.6 L2193.0 2407.6 L2195.0 2407.6 L2197.0 2407.6 L2199.0 2407.6 L2201.0 2407.6 L2203.0 2407.6 L2205.0 2407.6 L2207.0 2407.6 L2209.0 2407.6 L2211.0 2407.6 L2213.0 2407.6 L2215.0 2407.6 L2217.0 2407.5 L2219.0 2407.5 L2221.0 2407.5 L2223.0 2407.5 L2225.0 2407.5 L2227.1 2407.5 L2229.1 2407.5 L2231.1 2407.5 L2233.1 2407.5 L2235.1 2407.5 L2237.1 2407.5 L2239.1 2407.4 L2241.1 2407.4 L2243.1 2407.4 L2245.1 2407.4 L2247.1 2407.4 L2249.1 2407.4 L2251.1 2407.4 L2253.1 2407.4 L2255.1 2407.3 L2257.1 2407.3 L2259.1 2407.3 L2261.1 2407.3 L2263.2 2407.3 L2265.2 2407.3 L2267.2 2407.3 L2269.2 2407.2 L2271.2 2407.2 L2273.2 2407.2 L2275.2 2407.2 L2277.2 2407.2 L2279.2 2407.1 L2281.2 2407.1 L2283.2 2407.1 L2285.2 2407.1 L2287.2 2407.1 L2289.2 2407.1 L2291.2 2407.0 L2293.2 2407.0 L2295.3 2407.0 L2297.3 2407.0 L2299.3 2406.9 L2301.3 2406.9 L2303.3 2406.9 L2305.3 2406.9 L2307.3 2406.9 L2309.3 2406.8 L2311.3 2406.8 L2313.3 2406.8 L2315.3 2406.8 L2317.3 2406.7 L2319.3 2406.7 L2321.3 2406.7 L2323.3 2406.6 L2325.4 2406.6 L2327.4 2406.6 L2329.4 2406.6 L2331.4 2406.5 L2333.4 2406.5 L2335.4 2406.5 L2337.4 2406.5 L2339.4 2406.4 L2341.4 2406.4 L2343.4 2406.4 L2345.4 2406.3 L2347.4 2406.3 L2349.4 2406.3 L2351.4 2406.2 L2353.5 2406.2 L2355.5 2406.2 L2357.5 2406.1 L2359.5 2406.1 L2361.5 2406.1 L2363.5 2406.0 L2365.5 2406.0" stroke="#9718d4" />
<g fill="#9718d4" stroke="none"><circle cx="485.3" cy="2376.4" r="5.8"/><circle cx="489.0" cy="2359.0" r="5.8"/><circle cx="495.8" cy="2332.7" r="5.8"/><circle cx="519.0" cy="2279.9" r="5.8"/><circle cx="573.1" cy="2291.2" r="5.8"/><circle cx="663.4" cy="2337.6" r="5.8"/><circle cx="779.6" cy="2371.1" r="5.8"/><circle cx="920.2" cy="2390.0" r="5.8"/><circle cx="1045.2" cy="2397.3" r="5.8"/><circle cx="1180.4" cy="2400.5" r="5.8"/><circle cx="1229.8" cy="2400.9" r="5.8"/><circle cx="1312.1" cy="2401.1" r="5.8"/><circle cx="1364.4" cy="2401.1" r="5.8"/><circle cx="1516.5" cy="2401.3" r="5.8"/><circle cx="1608.1" cy="2402.1" r="5.8"/><circle cx="1738.1" cy="2403.6" r="5.8"/><circle cx="1815.1" cy="2404.6" r="5.8"/><circle cx="1903.6" cy="2405.8" r="5.8"/><circle cx="1949.8" cy="2406.3" r="5.8"/><circle cx="2039.5" cy="2407.1" r="5.8"/><circle cx="2203.2" cy="2407.6" r="5.8"/><circle cx="2275.4" cy="2407.2" r="5.8"/><circle cx="2360.3" cy="2406.1" r="5.8"/></g>
</g>
<g fill="none" stroke="#000" stroke-width="4.1" stroke-linecap="round" stroke-linejoin="round">
<path d="M477 1352.2 H2365.5 V2407.5 H477 Z"/>
<path d="M477 2196.4 h32 M2365.5 2196.4 h-32"/>
<path d="M477 1985.4 h32 M2365.5 1985.4 h-32"/>
<path d="M477 1774.3 h32 M2365.5 1774.3 h-32"/>
<path d="M477 1563.3 h32 M2365.5 1563.3 h-32"/>
<path d="M949.1 1352.2 v18 M949.1 2407.5 v-18"/>
<path d="M1421.2 1352.2 v18 M1421.2 2407.5 v-18"/>
<path d="M1893.4 1352.2 v18 M1893.4 2407.5 v-18"/>
</g>
<g style="font-family:'Liberation Sans',Arial,Helvetica,sans-serif;font-size:99px" fill="#000">
<text transform="translate(375.46 2419.30) scale(1 1.035)" x="0.00" fill="#000">0</text>
<text transform="translate(292.89 2208.24) scale(1 1.035)" x="0.00 55.04 87.07" fill="#000" clip-path="url(#c1_5)">0.1</text>
<text transform="translate(292.89 1997.18) scale(1 1.035)" x="0.00 55.04 82.57" fill="#000">0.2</text>
<text transform="translate(292.89 1786.12) scale(1 1.035)" x="0.00 55.04 82.57" fill="#000">0.3</text>
<text transform="translate(292.89 1575.06) scale(1 1.035)" x="0.00 55.04 82.57" fill="#000">0.4</text>
<g clip-path="url(#cb)"><text transform="translate(292.89 1364.00) scale(1 1.035)" x="0.00 55.04 82.57" fill="#000">0.5</text></g>
<text transform="translate(449.48 2484.50) scale(1 1.035)" x="0.00" fill="#000">0</text>
<text transform="translate(921.60 2484.50) scale(1 1.035)" x="0.00" fill="#000">5</text>
<text transform="translate(1366.21 2484.50) scale(1 1.035)" x="4.50 55.04" fill="#000" clip-path="url(#c1_6)">10</text>
<text transform="translate(1838.33 2484.50) scale(1 1.035)" x="4.50 55.04" fill="#000" clip-path="url(#c1_7)">15</text>
<text transform="translate(2308.96 2484.50) scale(1 1.035)" x="0.00 55.04" fill="#000">20</text>
<text x="1422.5" y="2578.9" text-anchor="middle" style="font-size:100px">Time [ps]</text>
<text transform="translate(99 1879.3) rotate(-90)" text-anchor="middle">Population</text>
<text x="508.4" y="1429.2" style="font-size:100px">(b)</text>
</g>
<g fill="none" stroke-width="8.5" stroke-linecap="round">
<path d="M1832.5 1785.3 H1971.8" stroke="#000000" />
<path d="M1832.5 1859.4 H1971.8" stroke="#028011" stroke-dasharray="32.7 34.1"/>
<path d="M1832.5 1934.3 H1971.8" stroke="#0000d2" stroke-dasharray="62.4 29.6 11.6 29.9"/>
<path d="M1832.5 2008.3 H1971.8" stroke="#fe0808" />
<path d="M1832.5 2082.2 H1971.8" stroke="#9718d4" />
</g>
<g style="font-family:'Liberation Sans',Arial,Helvetica,sans-serif;font-size:99px">
<text transform="translate(1987.20 1819.10) scale(1 1.035)" x="0.00" fill="#000000">2</text>
<text transform="translate(1987.20 1893.20) scale(1 1.035)" x="0.00" fill="#028011">5</text>
<text transform="translate(1987.20 1968.10) scale(1 1.035)" x="0.00" fill="#0000d2">8</text>
<text transform="translate(1987.20 2042.10) scale(1 1.035)" x="4.50 55.04" fill="#fe0808" clip-path="url(#c1_8)">10</text>
<text transform="translate(1987.20 2116.00) scale(1 1.035)" x="4.50 55.04" fill="#9718d4" clip-path="url(#c1_9)">12</text>
</g>
</g>
</svg>
</body></html>
